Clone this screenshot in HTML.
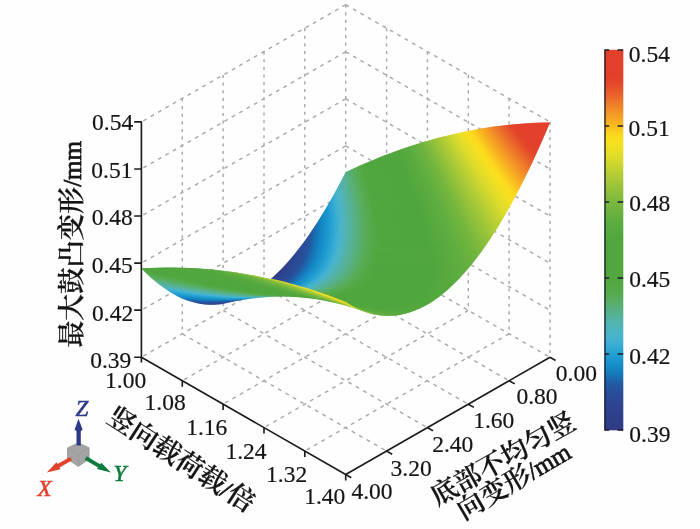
<!DOCTYPE html>
<html lang="zh">
<head>
<meta charset="utf-8">
<title>最大鼓凸变形</title>
<style>
html,body{margin:0;padding:0;background:#fefefe;}
body{width:700px;height:529px;overflow:hidden;font-family:"Liberation Serif","Noto Serif CJK SC",serif;}
svg{display:block;}
</style>
</head>
<body>
<svg width="700" height="529" viewBox="0 0 700 529">
<rect width="700" height="529" fill="#fefefe"/>
<g fill="none" stroke="#a9a9a9" stroke-width="1.45">
<path stroke-dasharray="3.1 4.5" d="M182.3 98.5L182.3 333.8M223.1 75L223.1 310.3M264 51.6L264 286.9M304.8 28.1L304.8 263.4M345.7 4.7L345.7 240M386.6 28.2L386.6 263.5M427.4 51.6L427.4 286.9M468.3 75.1L468.3 310.4M509.1 98.5L509.1 333.8M550 122L550 357.3"/>
<path stroke-dasharray="3.8 4.7" d="M345.7 192.9L141.4 310.1M345.7 192.9L550 310.2M345.7 145.9L141.4 263.1M345.7 145.9L550 263.2M345.7 98.8L141.4 216M345.7 98.8L550 216.1M345.7 51.8L141.4 169M345.7 51.8L550 169.1M345.7 4.7L141.4 121.9M345.7 4.7L550 122M182.3 333.8L386.6 451.1M223.1 310.3L427.4 427.6M264 286.9L468.3 404.2M304.8 263.4L509.1 380.7M345.7 240L550 357.3M345.7 240L141.4 357.2M386.6 263.5L182.3 380.7M427.4 286.9L223.1 404.1M468.3 310.4L264 427.6M509.1 333.8L304.8 451"/>
</g>
<defs><clipPath id="sc"><path d="M141.4 268.36L149.4 267.92L157.4 267.64L165.4 267.49L173.4 267.49L181.4 267.64L189.4 267.93L197.4 268.37L205.4 268.95L212.9 269.62L220.9 270.48L228.9 271.49L236.4 272.56L244.9 273.93L253.4 275.47L261.9 277.17L270.4 279.03L270.9 278.88L275.9 274.32L280.4 269.9L284.9 265.18L289.4 260.16L294.4 254.23L298.9 248.58L303.4 242.63L307.9 236.38L312.4 229.83L316.9 222.99L321.4 215.84L326.4 207.55L330.4 200.65L334.9 192.61L339.9 183.32L345.4 172.67L345.9 171.99L352.4 168.95L358.9 166.02L365.4 163.18L371.4 160.64L377.4 158.19L383.9 155.62L390.4 153.15L396.9 150.77L403.4 148.49L409.9 146.3L416.4 144.22L422.4 142.37L428.9 140.46L434.9 138.79L441.4 137.07L447.9 135.44L454.4 133.91L460.9 132.47L466.9 131.23L473.4 129.98L479.9 128.83L486.4 127.76L492.4 126.87L498.9 125.99L505.4 125.21L511.9 124.53L517.9 123.98L524.4 123.48L530.4 123.1L536.9 122.78L543.4 122.56L549.9 122.43L549.9 122.67L545.4 133.27L541.4 142.45L536.9 152.49L532.9 161.16L528.4 170.63L524.4 178.8L519.9 187.71L515.4 196.32L510.9 204.63L506.9 211.77L502.4 219.52L498.4 226.15L493.9 233.33L489.4 240.21L484.9 246.79L480.9 252.39L476.9 257.76L472.4 263.51L467.9 268.96L463.4 274.11L459.4 278.44L454.9 283.03L450.9 286.86L446.4 290.88L442.4 294.21L437.9 297.67L433.9 300.49L429.4 303.38L425.4 305.7L420.9 308.03L416.9 309.85L412.4 311.61L407.9 313.07L403.9 314.12L399.9 314.94L395.9 315.51L391.9 315.85L387.9 315.96L383.9 315.83L379.9 315.46L377.4 315.11L374.9 314.66L372.4 314.13L369.9 313.5L365.9 312.31L358.9 309.85L354.4 308.36L346.9 306.06L342.4 304.8L337.4 303.51L332.9 302.44L328.4 301.46L323.4 300.48L318.4 299.6L313.4 298.84L308.9 298.25L303.9 297.69L298.9 297.25L294.4 296.95L289.4 296.71L281.4 296.57L272.9 296.72L264.9 297.16L256.4 297.94L249.9 298.74L242.9 299.82L234.9 301.32L224.4 303.61L220.9 304.18L217.4 304.57L213.4 304.79L209.4 304.77L205.4 304.52L200.9 303.96L197.4 303.31L193.4 302.35L189.9 301.32L185.9 299.91L182.4 298.49L178.4 296.64L174.9 294.83L170.9 292.54L167.4 290.35L163.4 287.61L159.9 285.03L155.9 281.85L152.4 278.88L148.4 275.26L144.9 271.9L141.4 268.36Z"/></clipPath><linearGradient id="r0" gradientUnits="userSpaceOnUse" x1="515.5" x2="553.5" y1="0" y2="0"><stop offset="0" stop-color="#e2402a"/><stop offset="1" stop-color="#e2402a"/></linearGradient><linearGradient id="r1" gradientUnits="userSpaceOnUse" x1="504.5" x2="553.5" y1="0" y2="0"><stop offset="0" stop-color="#e4482a"/><stop offset="0.2449" stop-color="#e2402a"/><stop offset="1" stop-color="#e2402a"/></linearGradient><linearGradient id="r2" gradientUnits="userSpaceOnUse" x1="495.5" x2="553.5" y1="0" y2="0"><stop offset="0" stop-color="#e9662a"/><stop offset="0.069" stop-color="#e9642a"/><stop offset="0.1207" stop-color="#e85d2a"/><stop offset="0.1379" stop-color="#e75a2a"/><stop offset="0.1724" stop-color="#e4482a"/><stop offset="0.3103" stop-color="#e2412a"/><stop offset="1" stop-color="#e2402a"/></linearGradient><linearGradient id="r3" gradientUnits="userSpaceOnUse" x1="488.5" x2="553.5" y1="0" y2="0"><stop offset="0" stop-color="#ef812a"/><stop offset="0.0462" stop-color="#ef802a"/><stop offset="0.0923" stop-color="#ee7a2a"/><stop offset="0.1231" stop-color="#e9662a"/><stop offset="0.1692" stop-color="#e9642a"/><stop offset="0.2" stop-color="#e8602a"/><stop offset="0.2462" stop-color="#e6562a"/><stop offset="0.2769" stop-color="#e4482a"/><stop offset="0.3692" stop-color="#e2422a"/><stop offset="1" stop-color="#e2402a"/></linearGradient><linearGradient id="r4" gradientUnits="userSpaceOnUse" x1="481.5" x2="553.5" y1="0" y2="0"><stop offset="0" stop-color="#f49a25"/><stop offset="0.0417" stop-color="#f49925"/><stop offset="0.0833" stop-color="#f39426"/><stop offset="0.1111" stop-color="#ef812a"/><stop offset="0.1528" stop-color="#ef7f2a"/><stop offset="0.1944" stop-color="#ed772a"/><stop offset="0.2222" stop-color="#e9662a"/><stop offset="0.2778" stop-color="#e8602a"/><stop offset="0.3333" stop-color="#e6532a"/><stop offset="0.3611" stop-color="#e4482a"/><stop offset="0.4167" stop-color="#e3432a"/><stop offset="0.4861" stop-color="#e2402a"/><stop offset="1" stop-color="#e2402a"/></linearGradient><linearGradient id="r5" gradientUnits="userSpaceOnUse" x1="475.5" x2="553.5" y1="0" y2="0"><stop offset="0" stop-color="#f8b120"/><stop offset="0.0641" stop-color="#f7ad21"/><stop offset="0.0897" stop-color="#f49a25"/><stop offset="0.1282" stop-color="#f49925"/><stop offset="0.1538" stop-color="#f39426"/><stop offset="0.1667" stop-color="#f29127"/><stop offset="0.1923" stop-color="#ef812a"/><stop offset="0.2436" stop-color="#ee7b2a"/><stop offset="0.2692" stop-color="#ec742a"/><stop offset="0.2949" stop-color="#e9662a"/><stop offset="0.3205" stop-color="#e9632a"/><stop offset="0.4231" stop-color="#e4482a"/><stop offset="0.4615" stop-color="#e3432a"/><stop offset="0.5256" stop-color="#e2402a"/><stop offset="1" stop-color="#e2402a"/></linearGradient><linearGradient id="r6" gradientUnits="userSpaceOnUse" x1="470.5" x2="553.5" y1="0" y2="0"><stop offset="0" stop-color="#fbc91e"/><stop offset="0.0482" stop-color="#fac61e"/><stop offset="0.0602" stop-color="#f9be1f"/><stop offset="0.0723" stop-color="#f8b120"/><stop offset="0.1084" stop-color="#f8b021"/><stop offset="0.1325" stop-color="#f7ab22"/><stop offset="0.1566" stop-color="#f49a25"/><stop offset="0.2048" stop-color="#f39426"/><stop offset="0.2289" stop-color="#f28e28"/><stop offset="0.253" stop-color="#ef812a"/><stop offset="0.2892" stop-color="#ee7b2a"/><stop offset="0.3494" stop-color="#e9662a"/><stop offset="0.4458" stop-color="#e44d2a"/><stop offset="0.494" stop-color="#e3432a"/><stop offset="0.5542" stop-color="#e2402a"/><stop offset="1" stop-color="#e2402a"/></linearGradient><linearGradient id="r7" gradientUnits="userSpaceOnUse" x1="464.5" x2="553.5" y1="0" y2="0"><stop offset="0" stop-color="#fbdc1e"/><stop offset="0.0562" stop-color="#fbd91e"/><stop offset="0.0787" stop-color="#fbc91e"/><stop offset="0.1236" stop-color="#fac31f"/><stop offset="0.1461" stop-color="#f8b120"/><stop offset="0.1685" stop-color="#f8b021"/><stop offset="0.191" stop-color="#f7ab22"/><stop offset="0.2022" stop-color="#f6a722"/><stop offset="0.2247" stop-color="#f49a25"/><stop offset="0.2584" stop-color="#f39526"/><stop offset="0.3146" stop-color="#ef812a"/><stop offset="0.4157" stop-color="#e9622a"/><stop offset="0.5281" stop-color="#e3452a"/><stop offset="0.5955" stop-color="#e2402a"/><stop offset="1" stop-color="#e2402a"/></linearGradient><linearGradient id="r8" gradientUnits="userSpaceOnUse" x1="459.5" x2="553.5" y1="0" y2="0"><stop offset="0" stop-color="#f4e022"/><stop offset="0.0426" stop-color="#f5e021"/><stop offset="0.0638" stop-color="#fbdc1e"/><stop offset="0.117" stop-color="#fbd71e"/><stop offset="0.1383" stop-color="#fbc91e"/><stop offset="0.1596" stop-color="#fac61e"/><stop offset="0.1809" stop-color="#fac01f"/><stop offset="0.2021" stop-color="#f8b120"/><stop offset="0.2234" stop-color="#f7ae21"/><stop offset="0.2766" stop-color="#f49a25"/><stop offset="0.3511" stop-color="#f08329"/><stop offset="0.4894" stop-color="#e7582a"/><stop offset="0.5638" stop-color="#e3442a"/><stop offset="0.6277" stop-color="#e2402a"/><stop offset="1" stop-color="#e2402a"/></linearGradient><linearGradient id="r9" gradientUnits="userSpaceOnUse" x1="455.5" x2="553.5" y1="0" y2="0"><stop offset="0" stop-color="#eade26"/><stop offset="0.0306" stop-color="#ebde26"/><stop offset="0.051" stop-color="#f4e022"/><stop offset="0.0918" stop-color="#f6e021"/><stop offset="0.1122" stop-color="#fbdc1e"/><stop offset="0.1531" stop-color="#fbd71e"/><stop offset="0.1633" stop-color="#fbd51e"/><stop offset="0.1837" stop-color="#fbc91e"/><stop offset="0.2041" stop-color="#fac41e"/><stop offset="0.2449" stop-color="#f8b120"/><stop offset="0.2959" stop-color="#f5a024"/><stop offset="0.398" stop-color="#ef7f2a"/><stop offset="0.5306" stop-color="#e6542a"/><stop offset="0.5918" stop-color="#e3442a"/><stop offset="0.6531" stop-color="#e2402a"/><stop offset="1" stop-color="#e2402a"/></linearGradient><linearGradient id="r10" gradientUnits="userSpaceOnUse" x1="450.5" x2="552.5" y1="0" y2="0"><stop offset="0" stop-color="#dddb2b"/><stop offset="0.0392" stop-color="#dedb2a"/><stop offset="0.0588" stop-color="#eade26"/><stop offset="0.0882" stop-color="#ebde25"/><stop offset="0.1078" stop-color="#f4e022"/><stop offset="0.1373" stop-color="#f6e021"/><stop offset="0.1667" stop-color="#fbdc1e"/><stop offset="0.1961" stop-color="#fbd81e"/><stop offset="0.3235" stop-color="#f6a622"/><stop offset="0.4314" stop-color="#ef812a"/><stop offset="0.5686" stop-color="#e6532a"/><stop offset="0.6275" stop-color="#e3442a"/><stop offset="0.6765" stop-color="#e2402a"/><stop offset="1" stop-color="#e2402a"/></linearGradient><linearGradient id="r11" gradientUnits="userSpaceOnUse" x1="446.5" x2="552.5" y1="0" y2="0"><stop offset="0" stop-color="#cfd72e"/><stop offset="0.0283" stop-color="#d0d72e"/><stop offset="0.0472" stop-color="#dddb2b"/><stop offset="0.0849" stop-color="#e0dc2a"/><stop offset="0.1038" stop-color="#eade26"/><stop offset="0.1321" stop-color="#ecdf25"/><stop offset="0.1509" stop-color="#f4e022"/><stop offset="0.1887" stop-color="#f9df20"/><stop offset="0.217" stop-color="#fbda1e"/><stop offset="0.2547" stop-color="#fbce1e"/><stop offset="0.3302" stop-color="#f8af21"/><stop offset="0.4434" stop-color="#f08729"/><stop offset="0.5472" stop-color="#e9622a"/><stop offset="0.6132" stop-color="#e44c2a"/><stop offset="0.6509" stop-color="#e3432a"/><stop offset="0.6981" stop-color="#e2402a"/><stop offset="1" stop-color="#e2402a"/></linearGradient><linearGradient id="r12" gradientUnits="userSpaceOnUse" x1="442.5" x2="551.5" y1="0" y2="0"><stop offset="0" stop-color="#c1d232"/><stop offset="0.0275" stop-color="#c2d232"/><stop offset="0.0459" stop-color="#cfd72e"/><stop offset="0.0734" stop-color="#d1d72e"/><stop offset="0.0917" stop-color="#dddb2b"/><stop offset="0.1284" stop-color="#e2dc29"/><stop offset="0.1468" stop-color="#eade26"/><stop offset="0.1651" stop-color="#ecdf25"/><stop offset="0.1927" stop-color="#f4e022"/><stop offset="0.2202" stop-color="#f9e020"/><stop offset="0.2477" stop-color="#fbdb1e"/><stop offset="0.2844" stop-color="#fbd01e"/><stop offset="0.3394" stop-color="#f9b91f"/><stop offset="0.4954" stop-color="#ef7f2a"/><stop offset="0.6055" stop-color="#e7582a"/><stop offset="0.6697" stop-color="#e3452a"/><stop offset="0.7248" stop-color="#e2402a"/><stop offset="1" stop-color="#e2402a"/></linearGradient><linearGradient id="r13" gradientUnits="userSpaceOnUse" x1="438.5" x2="551.5" y1="0" y2="0"><stop offset="0" stop-color="#b4cd35"/><stop offset="0.0265" stop-color="#b5ce35"/><stop offset="0.0442" stop-color="#c1d232"/><stop offset="0.0708" stop-color="#c3d331"/><stop offset="0.0885" stop-color="#cfd72e"/><stop offset="0.115" stop-color="#d3d82d"/><stop offset="0.1327" stop-color="#dddb2b"/><stop offset="0.1504" stop-color="#dfdb2a"/><stop offset="0.2301" stop-color="#f5e022"/><stop offset="0.2743" stop-color="#fbdc1e"/><stop offset="0.3097" stop-color="#fbd21e"/><stop offset="0.3717" stop-color="#f9b820"/><stop offset="0.5133" stop-color="#ef8229"/><stop offset="0.6283" stop-color="#e6572a"/><stop offset="0.6903" stop-color="#e3442a"/><stop offset="0.7434" stop-color="#e2402a"/><stop offset="1" stop-color="#e2402a"/></linearGradient><linearGradient id="r14" gradientUnits="userSpaceOnUse" x1="434.5" x2="551.5" y1="0" y2="0"><stop offset="0" stop-color="#a6c937"/><stop offset="0.0256" stop-color="#a7c937"/><stop offset="0.0427" stop-color="#b4cd35"/><stop offset="0.0684" stop-color="#b6ce35"/><stop offset="0.0855" stop-color="#c1d232"/><stop offset="0.1111" stop-color="#c5d331"/><stop offset="0.1282" stop-color="#cfd72e"/><stop offset="0.1453" stop-color="#d2d72e"/><stop offset="0.1709" stop-color="#dddb2b"/><stop offset="0.2051" stop-color="#e7dd27"/><stop offset="0.2735" stop-color="#f7e020"/><stop offset="0.3077" stop-color="#fbdc1e"/><stop offset="0.3419" stop-color="#fbd11e"/><stop offset="0.4017" stop-color="#f9b720"/><stop offset="0.5385" stop-color="#ef812a"/><stop offset="0.641" stop-color="#e7592a"/><stop offset="0.7009" stop-color="#e3462a"/><stop offset="0.7521" stop-color="#e2402a"/><stop offset="1" stop-color="#e2402a"/></linearGradient><linearGradient id="r15" gradientUnits="userSpaceOnUse" x1="430.5" x2="550.5" y1="0" y2="0"><stop offset="0" stop-color="#99c439"/><stop offset="0.025" stop-color="#9ac439"/><stop offset="0.0417" stop-color="#a6c937"/><stop offset="0.0667" stop-color="#a8c937"/><stop offset="0.0833" stop-color="#b4cd35"/><stop offset="0.1083" stop-color="#b7cf34"/><stop offset="0.125" stop-color="#c1d232"/><stop offset="0.1417" stop-color="#c4d331"/><stop offset="0.225" stop-color="#e3dd29"/><stop offset="0.3" stop-color="#f6e021"/><stop offset="0.3333" stop-color="#fbdd1f"/><stop offset="0.375" stop-color="#fbd01e"/><stop offset="0.4583" stop-color="#f7ab22"/><stop offset="0.5667" stop-color="#ef802a"/><stop offset="0.6667" stop-color="#e7582a"/><stop offset="0.725" stop-color="#e3452a"/><stop offset="0.775" stop-color="#e2402a"/><stop offset="1" stop-color="#e2402a"/></linearGradient><linearGradient id="r16" gradientUnits="userSpaceOnUse" x1="427.5" x2="550.5" y1="0" y2="0"><stop offset="0" stop-color="#8ec03b"/><stop offset="0.0163" stop-color="#8fc03b"/><stop offset="0.0325" stop-color="#99c439"/><stop offset="0.0569" stop-color="#9bc439"/><stop offset="0.0732" stop-color="#a6c937"/><stop offset="0.0976" stop-color="#aaca37"/><stop offset="0.1138" stop-color="#b4cd35"/><stop offset="0.1301" stop-color="#b7ce34"/><stop offset="0.2439" stop-color="#e1dc29"/><stop offset="0.3171" stop-color="#f5e021"/><stop offset="0.3496" stop-color="#fade1f"/><stop offset="0.3902" stop-color="#fbd21e"/><stop offset="0.4553" stop-color="#f8b420"/><stop offset="0.5772" stop-color="#ef8229"/><stop offset="0.6829" stop-color="#e7582a"/><stop offset="0.7398" stop-color="#e3452a"/><stop offset="0.7886" stop-color="#e2402a"/><stop offset="1" stop-color="#e2402a"/></linearGradient><linearGradient id="r17" gradientUnits="userSpaceOnUse" x1="423.5" x2="549.5" y1="0" y2="0"><stop offset="0" stop-color="#82bb3c"/><stop offset="0.0238" stop-color="#83bb3c"/><stop offset="0.0397" stop-color="#8ec03b"/><stop offset="0.0556" stop-color="#8fc03b"/><stop offset="0.0714" stop-color="#99c439"/><stop offset="0.0952" stop-color="#9cc539"/><stop offset="0.1111" stop-color="#a6c937"/><stop offset="0.127" stop-color="#a9ca37"/><stop offset="0.2698" stop-color="#e0dc2a"/><stop offset="0.3413" stop-color="#f4e022"/><stop offset="0.381" stop-color="#fbdd1f"/><stop offset="0.4206" stop-color="#fbd11e"/><stop offset="0.5" stop-color="#f7ac21"/><stop offset="0.6032" stop-color="#ef8229"/><stop offset="0.6984" stop-color="#e75a2a"/><stop offset="0.754" stop-color="#e3462a"/><stop offset="0.8016" stop-color="#e2402a"/><stop offset="1" stop-color="#e2402a"/></linearGradient><linearGradient id="r18" gradientUnits="userSpaceOnUse" x1="420.5" x2="549.5" y1="0" y2="0"><stop offset="0" stop-color="#78b73d"/><stop offset="0.0155" stop-color="#79b73d"/><stop offset="0.031" stop-color="#82bb3c"/><stop offset="0.0543" stop-color="#84bc3c"/><stop offset="0.0698" stop-color="#8ec03b"/><stop offset="0.0853" stop-color="#90c03b"/><stop offset="0.1008" stop-color="#99c439"/><stop offset="0.1163" stop-color="#9cc539"/><stop offset="0.2868" stop-color="#dedb2a"/><stop offset="0.3643" stop-color="#f5e022"/><stop offset="0.3953" stop-color="#fade1f"/><stop offset="0.4341" stop-color="#fbd31e"/><stop offset="0.5194" stop-color="#f7ab21"/><stop offset="0.6202" stop-color="#ef812a"/><stop offset="0.7132" stop-color="#e7592a"/><stop offset="0.7674" stop-color="#e3462a"/><stop offset="0.814" stop-color="#e2402a"/><stop offset="1" stop-color="#e2402a"/></linearGradient><linearGradient id="r19" gradientUnits="userSpaceOnUse" x1="416.5" x2="548.5" y1="0" y2="0"><stop offset="0" stop-color="#6fb43e"/><stop offset="0.0227" stop-color="#6fb43e"/><stop offset="0.0379" stop-color="#78b73d"/><stop offset="0.053" stop-color="#79b73d"/><stop offset="0.0682" stop-color="#82bb3c"/><stop offset="0.0909" stop-color="#85bc3c"/><stop offset="0.1061" stop-color="#8ec03b"/><stop offset="0.1212" stop-color="#91c13b"/><stop offset="0.3106" stop-color="#dddb2b"/><stop offset="0.3864" stop-color="#f3e022"/><stop offset="0.4167" stop-color="#f9df1f"/><stop offset="0.4621" stop-color="#fbd21e"/><stop offset="0.5379" stop-color="#f7ad21"/><stop offset="0.6364" stop-color="#f08329"/><stop offset="0.7348" stop-color="#e7592a"/><stop offset="0.7879" stop-color="#e3462a"/><stop offset="0.8333" stop-color="#e2402a"/><stop offset="1" stop-color="#e2402a"/></linearGradient><linearGradient id="r20" gradientUnits="userSpaceOnUse" x1="413.5" x2="548.5" y1="0" y2="0"><stop offset="0" stop-color="#69b13e"/><stop offset="0.0148" stop-color="#69b13e"/><stop offset="0.0296" stop-color="#6fb43e"/><stop offset="0.0519" stop-color="#70b43e"/><stop offset="0.0667" stop-color="#78b73d"/><stop offset="0.0815" stop-color="#7ab83d"/><stop offset="0.0963" stop-color="#82bb3c"/><stop offset="0.1185" stop-color="#88bd3c"/><stop offset="0.2296" stop-color="#b5ce35"/><stop offset="0.3259" stop-color="#dbda2b"/><stop offset="0.4" stop-color="#f2e023"/><stop offset="0.4296" stop-color="#f9e020"/><stop offset="0.4741" stop-color="#fbd41e"/><stop offset="0.5556" stop-color="#f7ac21"/><stop offset="0.6519" stop-color="#ef8229"/><stop offset="0.7407" stop-color="#e75b2a"/><stop offset="0.7926" stop-color="#e3472a"/><stop offset="0.837" stop-color="#e2402a"/><stop offset="1" stop-color="#e2402a"/></linearGradient><linearGradient id="r21" gradientUnits="userSpaceOnUse" x1="410.5" x2="548.5" y1="0" y2="0"><stop offset="0" stop-color="#63af3f"/><stop offset="0.0145" stop-color="#63af3f"/><stop offset="0.029" stop-color="#69b13e"/><stop offset="0.0435" stop-color="#69b13e"/><stop offset="0.058" stop-color="#6fb43e"/><stop offset="0.0797" stop-color="#71b43e"/><stop offset="0.2319" stop-color="#adcb36"/><stop offset="0.3478" stop-color="#dcdb2b"/><stop offset="0.4203" stop-color="#f3e022"/><stop offset="0.4493" stop-color="#f9df1f"/><stop offset="0.4928" stop-color="#fbd31e"/><stop offset="0.5725" stop-color="#f7ab21"/><stop offset="0.6667" stop-color="#ef812a"/><stop offset="0.7536" stop-color="#e75a2a"/><stop offset="0.8043" stop-color="#e3472a"/><stop offset="0.8478" stop-color="#e2402a"/><stop offset="1" stop-color="#e2402a"/></linearGradient><linearGradient id="r22" gradientUnits="userSpaceOnUse" x1="407.5" x2="547.5" y1="0" y2="0"><stop offset="0" stop-color="#5ead3f"/><stop offset="0.0429" stop-color="#63af3f"/><stop offset="0.0571" stop-color="#69b13e"/><stop offset="0.0714" stop-color="#69b23e"/><stop offset="0.1071" stop-color="#73b53e"/><stop offset="0.2571" stop-color="#afcc36"/><stop offset="0.3714" stop-color="#dddb2a"/><stop offset="0.4643" stop-color="#f8e020"/><stop offset="0.4857" stop-color="#fbdc1e"/><stop offset="0.5143" stop-color="#fbd21e"/><stop offset="0.5857" stop-color="#f7ad21"/><stop offset="0.6786" stop-color="#f08429"/><stop offset="0.7714" stop-color="#e75a2a"/><stop offset="0.8214" stop-color="#e3462a"/><stop offset="0.8643" stop-color="#e2402a"/><stop offset="1" stop-color="#e2402a"/></linearGradient><linearGradient id="r23" gradientUnits="userSpaceOnUse" x1="404.5" x2="547.5" y1="0" y2="0"><stop offset="0" stop-color="#5aac3f"/><stop offset="0.042" stop-color="#5ead3f"/><stop offset="0.1259" stop-color="#73b53e"/><stop offset="0.2727" stop-color="#adcb36"/><stop offset="0.3846" stop-color="#dcdb2b"/><stop offset="0.4545" stop-color="#f2e023"/><stop offset="0.4825" stop-color="#f9df20"/><stop offset="0.5245" stop-color="#fbd41e"/><stop offset="0.6014" stop-color="#f7ac21"/><stop offset="0.6923" stop-color="#ef8329"/><stop offset="0.7832" stop-color="#e7592a"/><stop offset="0.8322" stop-color="#e3462a"/><stop offset="0.8741" stop-color="#e2402a"/><stop offset="1" stop-color="#e2402a"/></linearGradient><linearGradient id="r24" gradientUnits="userSpaceOnUse" x1="401.5" x2="546.5" y1="0" y2="0"><stop offset="0" stop-color="#57aa3f"/><stop offset="0.069" stop-color="#5fae3f"/><stop offset="0.1448" stop-color="#71b53e"/><stop offset="0.2966" stop-color="#aecc36"/><stop offset="0.4069" stop-color="#dddb2b"/><stop offset="0.4759" stop-color="#f3e022"/><stop offset="0.5034" stop-color="#f9df1f"/><stop offset="0.5448" stop-color="#fbd31e"/><stop offset="0.6207" stop-color="#f7ab21"/><stop offset="0.7103" stop-color="#ef8229"/><stop offset="0.8414" stop-color="#e3482a"/><stop offset="0.8828" stop-color="#e2402a"/><stop offset="1" stop-color="#e2402a"/></linearGradient><linearGradient id="r25" gradientUnits="userSpaceOnUse" x1="398.5" x2="546.5" y1="0" y2="0"><stop offset="0" stop-color="#54a83e"/><stop offset="0.0946" stop-color="#5fae3f"/><stop offset="0.1622" stop-color="#70b43e"/><stop offset="0.3108" stop-color="#adcb36"/><stop offset="0.4257" stop-color="#dedb2a"/><stop offset="0.5135" stop-color="#f9e020"/><stop offset="0.5338" stop-color="#fbdc1e"/><stop offset="0.5608" stop-color="#fbd21e"/><stop offset="0.6351" stop-color="#f7aa22"/><stop offset="0.723" stop-color="#ef812a"/><stop offset="0.8041" stop-color="#e75b2a"/><stop offset="0.8514" stop-color="#e3472a"/><stop offset="0.8919" stop-color="#e2402a"/><stop offset="1" stop-color="#e2402a"/></linearGradient><linearGradient id="r26" gradientUnits="userSpaceOnUse" x1="395.5" x2="545.5" y1="0" y2="0"><stop offset="0" stop-color="#52a73e"/><stop offset="0.0933" stop-color="#5bac3f"/><stop offset="0.1867" stop-color="#72b53e"/><stop offset="0.3333" stop-color="#aecb36"/><stop offset="0.44" stop-color="#dcdb2b"/><stop offset="0.5067" stop-color="#f3e022"/><stop offset="0.5333" stop-color="#f9df20"/><stop offset="0.5733" stop-color="#fbd41e"/><stop offset="0.6467" stop-color="#f7ad21"/><stop offset="0.7333" stop-color="#f08429"/><stop offset="0.8133" stop-color="#e85d2a"/><stop offset="0.8667" stop-color="#e3472a"/><stop offset="0.9" stop-color="#e2412a"/><stop offset="1" stop-color="#e2402a"/></linearGradient><linearGradient id="r27" gradientUnits="userSpaceOnUse" x1="392.5" x2="545.5" y1="0" y2="0"><stop offset="0" stop-color="#50a63e"/><stop offset="0.0392" stop-color="#52a73e"/><stop offset="0.0915" stop-color="#58aa3f"/><stop offset="0.1373" stop-color="#60ae3f"/><stop offset="0.2026" stop-color="#71b43e"/><stop offset="0.3464" stop-color="#accb36"/><stop offset="0.4575" stop-color="#dddb2a"/><stop offset="0.5425" stop-color="#f8e020"/><stop offset="0.5621" stop-color="#fbdc1e"/><stop offset="0.5882" stop-color="#fbd31e"/><stop offset="0.6601" stop-color="#f7ac21"/><stop offset="0.7451" stop-color="#ef8329"/><stop offset="0.8693" stop-color="#e4492a"/><stop offset="0.9085" stop-color="#e2412a"/><stop offset="1" stop-color="#e2402a"/></linearGradient><linearGradient id="r28" gradientUnits="userSpaceOnUse" x1="389.5" x2="544.5" y1="0" y2="0"><stop offset="0" stop-color="#50a63e"/><stop offset="0.0387" stop-color="#50a63e"/><stop offset="0.0903" stop-color="#55a93e"/><stop offset="0.1484" stop-color="#5ead3f"/><stop offset="0.2194" stop-color="#70b43e"/><stop offset="0.2903" stop-color="#8bbf3b"/><stop offset="0.3677" stop-color="#aecb36"/><stop offset="0.471" stop-color="#dcdb2b"/><stop offset="0.5613" stop-color="#f9e020"/><stop offset="0.5806" stop-color="#fbdc1e"/><stop offset="0.6065" stop-color="#fbd21e"/><stop offset="0.6774" stop-color="#f7ab21"/><stop offset="0.7613" stop-color="#ef8229"/><stop offset="0.8839" stop-color="#e4482a"/><stop offset="0.9226" stop-color="#e2412a"/><stop offset="1" stop-color="#e2402a"/></linearGradient><linearGradient id="r29" gradientUnits="userSpaceOnUse" x1="387.5" x2="544.5" y1="0" y2="0"><stop offset="0" stop-color="#50a63e"/><stop offset="0.0828" stop-color="#52a73e"/><stop offset="0.1592" stop-color="#5ead3f"/><stop offset="0.2293" stop-color="#6fb43e"/><stop offset="0.293" stop-color="#87bd3c"/><stop offset="0.3758" stop-color="#accb36"/><stop offset="0.4841" stop-color="#dddb2b"/><stop offset="0.5478" stop-color="#f3e022"/><stop offset="0.5732" stop-color="#f9df20"/><stop offset="0.6115" stop-color="#fbd41e"/><stop offset="0.6815" stop-color="#f7ad21"/><stop offset="0.7707" stop-color="#ef812a"/><stop offset="0.8917" stop-color="#e4482a"/><stop offset="0.9236" stop-color="#e2412a"/><stop offset="1" stop-color="#e2402a"/></linearGradient><linearGradient id="r30" gradientUnits="userSpaceOnUse" x1="384.5" x2="544.5" y1="0" y2="0"><stop offset="0" stop-color="#50a63e"/><stop offset="0.1" stop-color="#52a73e"/><stop offset="0.175" stop-color="#5dad3f"/><stop offset="0.2437" stop-color="#6eb33e"/><stop offset="0.3063" stop-color="#86bd3c"/><stop offset="0.3937" stop-color="#adcb36"/><stop offset="0.5" stop-color="#dedb2a"/><stop offset="0.5813" stop-color="#f8e020"/><stop offset="0.6" stop-color="#fbdc1e"/><stop offset="0.625" stop-color="#fbd31e"/><stop offset="0.6937" stop-color="#f7ac21"/><stop offset="0.775" stop-color="#f08429"/><stop offset="0.8938" stop-color="#e44a2a"/><stop offset="0.9313" stop-color="#e2412a"/><stop offset="1" stop-color="#e2402a"/></linearGradient><linearGradient id="r31" gradientUnits="userSpaceOnUse" x1="381.5" x2="543.5" y1="0" y2="0"><stop offset="0" stop-color="#50a63e"/><stop offset="0.1173" stop-color="#52a73e"/><stop offset="0.1975" stop-color="#5ead3f"/><stop offset="0.2593" stop-color="#6db33e"/><stop offset="0.3025" stop-color="#7db93d"/><stop offset="0.4074" stop-color="#accb36"/><stop offset="0.5123" stop-color="#dcdb2b"/><stop offset="0.5988" stop-color="#f9e020"/><stop offset="0.6173" stop-color="#fbdc1e"/><stop offset="0.642" stop-color="#fbd21e"/><stop offset="0.7099" stop-color="#f7ab21"/><stop offset="0.7901" stop-color="#ef8329"/><stop offset="0.9074" stop-color="#e4492a"/><stop offset="0.9383" stop-color="#e2412a"/><stop offset="1" stop-color="#e2402a"/></linearGradient><linearGradient id="r32" gradientUnits="userSpaceOnUse" x1="379.5" x2="543.5" y1="0" y2="0"><stop offset="0" stop-color="#50a63e"/><stop offset="0.128" stop-color="#52a73e"/><stop offset="0.2073" stop-color="#5dad3f"/><stop offset="0.2683" stop-color="#6cb33e"/><stop offset="0.3476" stop-color="#8bbf3b"/><stop offset="0.4329" stop-color="#b3cd35"/><stop offset="0.5244" stop-color="#dddb2a"/><stop offset="0.6037" stop-color="#f8e020"/><stop offset="0.622" stop-color="#fbdd1f"/><stop offset="0.6463" stop-color="#fbd41e"/><stop offset="0.7195" stop-color="#f7aa22"/><stop offset="0.7988" stop-color="#ef8229"/><stop offset="0.9146" stop-color="#e4492a"/><stop offset="0.9451" stop-color="#e2412a"/><stop offset="1" stop-color="#e2402a"/></linearGradient><linearGradient id="r33" gradientUnits="userSpaceOnUse" x1="376.5" x2="542.5" y1="0" y2="0"><stop offset="0" stop-color="#50a63e"/><stop offset="0.1446" stop-color="#51a73e"/><stop offset="0.2229" stop-color="#5dad3f"/><stop offset="0.2831" stop-color="#6bb23e"/><stop offset="0.3133" stop-color="#75b63d"/><stop offset="0.3614" stop-color="#8abe3b"/><stop offset="0.4518" stop-color="#b4ce35"/><stop offset="0.5422" stop-color="#dedb2a"/><stop offset="0.6205" stop-color="#f8e020"/><stop offset="0.6386" stop-color="#fbdc1e"/><stop offset="0.6627" stop-color="#fbd31e"/><stop offset="0.7289" stop-color="#f7ac21"/><stop offset="0.8133" stop-color="#ef812a"/><stop offset="0.9217" stop-color="#e44b2a"/><stop offset="0.9518" stop-color="#e2422a"/><stop offset="1" stop-color="#e2402a"/></linearGradient><linearGradient id="r34" gradientUnits="userSpaceOnUse" x1="374.5" x2="542.5" y1="0" y2="0"><stop offset="0" stop-color="#50a63e"/><stop offset="0.1548" stop-color="#51a73e"/><stop offset="0.2321" stop-color="#5cac3f"/><stop offset="0.2917" stop-color="#6bb23e"/><stop offset="0.3214" stop-color="#74b63e"/><stop offset="0.375" stop-color="#8bbe3b"/><stop offset="0.4643" stop-color="#b5ce35"/><stop offset="0.5476" stop-color="#dddb2b"/><stop offset="0.631" stop-color="#f9e020"/><stop offset="0.6488" stop-color="#fbdc1e"/><stop offset="0.6726" stop-color="#fbd21e"/><stop offset="0.7381" stop-color="#f7ab21"/><stop offset="0.8155" stop-color="#f08429"/><stop offset="0.9226" stop-color="#e54d2a"/><stop offset="0.9583" stop-color="#e2422a"/><stop offset="1" stop-color="#e2402a"/></linearGradient><linearGradient id="r35" gradientUnits="userSpaceOnUse" x1="371.5" x2="541.5" y1="0" y2="0"><stop offset="0" stop-color="#50a63e"/><stop offset="0.1706" stop-color="#51a63e"/><stop offset="0.2529" stop-color="#5dad3f"/><stop offset="0.3059" stop-color="#6ab23e"/><stop offset="0.3353" stop-color="#73b53e"/><stop offset="0.3882" stop-color="#8abe3b"/><stop offset="0.4765" stop-color="#b4cd35"/><stop offset="0.5647" stop-color="#dedb2a"/><stop offset="0.6412" stop-color="#f8e020"/><stop offset="0.6588" stop-color="#fbdd1f"/><stop offset="0.6824" stop-color="#fbd41e"/><stop offset="0.7529" stop-color="#f7ab22"/><stop offset="0.8294" stop-color="#ef8329"/><stop offset="0.9353" stop-color="#e44d2a"/><stop offset="0.9647" stop-color="#e3432a"/><stop offset="1" stop-color="#e2402a"/></linearGradient><linearGradient id="r36" gradientUnits="userSpaceOnUse" x1="369.5" x2="541.5" y1="0" y2="0"><stop offset="0" stop-color="#50a63e"/><stop offset="0.1802" stop-color="#51a63e"/><stop offset="0.2558" stop-color="#5bac3f"/><stop offset="0.2965" stop-color="#64b03f"/><stop offset="0.3547" stop-color="#76b63d"/><stop offset="0.4767" stop-color="#afcc36"/><stop offset="0.5756" stop-color="#dfdb2a"/><stop offset="0.6512" stop-color="#f8e020"/><stop offset="0.6686" stop-color="#fbdc1e"/><stop offset="0.6919" stop-color="#fbd31e"/><stop offset="0.7558" stop-color="#f7ad21"/><stop offset="0.8372" stop-color="#ef8229"/><stop offset="0.936" stop-color="#e54f2a"/><stop offset="0.9651" stop-color="#e3442a"/><stop offset="1" stop-color="#e2402a"/></linearGradient><linearGradient id="r37" gradientUnits="userSpaceOnUse" x1="366.5" x2="540.5" y1="0" y2="0"><stop offset="0" stop-color="#50a63e"/><stop offset="0.1954" stop-color="#51a63e"/><stop offset="0.3046" stop-color="#62af3f"/><stop offset="0.3678" stop-color="#75b63d"/><stop offset="0.4885" stop-color="#aecb36"/><stop offset="0.5862" stop-color="#dddb2b"/><stop offset="0.6667" stop-color="#f9e020"/><stop offset="0.6839" stop-color="#fbdc1e"/><stop offset="0.7069" stop-color="#fbd21e"/><stop offset="0.7701" stop-color="#f7ac21"/><stop offset="0.8448" stop-color="#f08429"/><stop offset="0.9425" stop-color="#e5512a"/><stop offset="0.9713" stop-color="#e3452a"/><stop offset="1" stop-color="#e2422a"/></linearGradient><linearGradient id="r38" gradientUnits="userSpaceOnUse" x1="364.5" x2="540.5" y1="0" y2="0"><stop offset="0" stop-color="#50a63e"/><stop offset="0.2045" stop-color="#50a63e"/><stop offset="0.3068" stop-color="#60ae3f"/><stop offset="0.3807" stop-color="#76b63d"/><stop offset="0.5" stop-color="#afcc36"/><stop offset="0.5909" stop-color="#dcda2b"/><stop offset="0.6705" stop-color="#f8e020"/><stop offset="0.6875" stop-color="#fbdd1f"/><stop offset="0.7102" stop-color="#fbd41e"/><stop offset="0.7784" stop-color="#f7ab21"/><stop offset="0.8523" stop-color="#f08429"/><stop offset="0.9489" stop-color="#e5512a"/><stop offset="0.9773" stop-color="#e3452a"/><stop offset="1" stop-color="#e2422a"/></linearGradient><linearGradient id="r39" gradientUnits="userSpaceOnUse" x1="362.5" x2="540.5" y1="0" y2="0"><stop offset="0" stop-color="#50a63e"/><stop offset="0.2191" stop-color="#51a63e"/><stop offset="0.3202" stop-color="#61ae3f"/><stop offset="0.3876" stop-color="#75b63d"/><stop offset="0.5112" stop-color="#b0cc36"/><stop offset="0.6011" stop-color="#dddb2b"/><stop offset="0.6798" stop-color="#f8e020"/><stop offset="0.6966" stop-color="#fbdc1e"/><stop offset="0.7191" stop-color="#fbd31e"/><stop offset="0.7809" stop-color="#f7ad21"/><stop offset="0.8596" stop-color="#f08329"/><stop offset="0.9494" stop-color="#e6532a"/><stop offset="0.9831" stop-color="#e3452a"/><stop offset="1" stop-color="#e2422a"/></linearGradient><linearGradient id="r40" gradientUnits="userSpaceOnUse" x1="359.5" x2="539.5" y1="0" y2="0"><stop offset="0" stop-color="#50a63f"/><stop offset="0.2333" stop-color="#50a63e"/><stop offset="0.3278" stop-color="#5fae3f"/><stop offset="0.4" stop-color="#74b63e"/><stop offset="0.5222" stop-color="#afcc36"/><stop offset="0.6167" stop-color="#dedb2a"/><stop offset="0.6944" stop-color="#f9e020"/><stop offset="0.7111" stop-color="#fbdc1e"/><stop offset="0.7333" stop-color="#fbd21e"/><stop offset="0.7944" stop-color="#f7ad21"/><stop offset="0.8667" stop-color="#f08529"/><stop offset="0.9333" stop-color="#e8612a"/><stop offset="0.9778" stop-color="#e44b2a"/><stop offset="1" stop-color="#e3452a"/></linearGradient><linearGradient id="r41" gradientUnits="userSpaceOnUse" x1="357.5" x2="539.5" y1="0" y2="0"><stop offset="0" stop-color="#51a741"/><stop offset="0.0385" stop-color="#50a63e"/><stop offset="0.2418" stop-color="#50a63e"/><stop offset="0.3407" stop-color="#60ae3f"/><stop offset="0.4121" stop-color="#75b63d"/><stop offset="0.533" stop-color="#b0cc36"/><stop offset="0.6209" stop-color="#dcdb2b"/><stop offset="0.6978" stop-color="#f8e020"/><stop offset="0.7143" stop-color="#fbdd1f"/><stop offset="0.7363" stop-color="#fbd41e"/><stop offset="0.8022" stop-color="#f7ac21"/><stop offset="0.8736" stop-color="#f08529"/><stop offset="0.9341" stop-color="#e9632a"/><stop offset="0.9615" stop-color="#e6552a"/><stop offset="1" stop-color="#e3452a"/></linearGradient><linearGradient id="r42" gradientUnits="userSpaceOnUse" x1="355.5" x2="538.5" y1="0" y2="0"><stop offset="0" stop-color="#53a846"/><stop offset="0.0328" stop-color="#50a63f"/><stop offset="0.2514" stop-color="#50a63e"/><stop offset="0.3497" stop-color="#5fae3f"/><stop offset="0.4208" stop-color="#74b63e"/><stop offset="0.541" stop-color="#aecc36"/><stop offset="0.6339" stop-color="#dddb2b"/><stop offset="0.7104" stop-color="#f8e020"/><stop offset="0.7268" stop-color="#fbdc1e"/><stop offset="0.7486" stop-color="#fbd31e"/><stop offset="0.8142" stop-color="#f7ab21"/><stop offset="0.8852" stop-color="#f08429"/><stop offset="0.9454" stop-color="#e9632a"/><stop offset="0.9781" stop-color="#e6522a"/><stop offset="0.9891" stop-color="#e5502a"/><stop offset="0.9945" stop-color="#e44b2a"/><stop offset="1" stop-color="#e44b2a"/></linearGradient><linearGradient id="r43" gradientUnits="userSpaceOnUse" x1="353.5" x2="538.5" y1="0" y2="0"><stop offset="0" stop-color="#55aa4c"/><stop offset="0.0486" stop-color="#50a63f"/><stop offset="0.2595" stop-color="#50a63e"/><stop offset="0.3568" stop-color="#5fad3f"/><stop offset="0.4324" stop-color="#75b63d"/><stop offset="0.5514" stop-color="#b0cc36"/><stop offset="0.6378" stop-color="#dbda2b"/><stop offset="0.7135" stop-color="#f8e020"/><stop offset="0.7351" stop-color="#fbdc1e"/><stop offset="0.7568" stop-color="#fbd31e"/><stop offset="0.8162" stop-color="#f7ad21"/><stop offset="0.8919" stop-color="#f08329"/><stop offset="0.9622" stop-color="#e75c2a"/><stop offset="0.9946" stop-color="#e5502a"/><stop offset="1" stop-color="#e44b2a"/></linearGradient><linearGradient id="r44" gradientUnits="userSpaceOnUse" x1="350.5" x2="537.5" y1="0" y2="0"><stop offset="0" stop-color="#57ac55"/><stop offset="0.0107" stop-color="#57ac55"/><stop offset="0.0214" stop-color="#55aa4c"/><stop offset="0.0374" stop-color="#53a846"/><stop offset="0.0749" stop-color="#50a63e"/><stop offset="0.2781" stop-color="#50a63e"/><stop offset="0.369" stop-color="#5ead3f"/><stop offset="0.4439" stop-color="#74b63e"/><stop offset="0.5615" stop-color="#aecb36"/><stop offset="0.6524" stop-color="#dcdb2b"/><stop offset="0.7273" stop-color="#f8e020"/><stop offset="0.7433" stop-color="#fbdd1f"/><stop offset="0.7647" stop-color="#fbd41e"/><stop offset="0.8342" stop-color="#f7a922"/><stop offset="0.8984" stop-color="#f08629"/><stop offset="0.9572" stop-color="#e9642a"/><stop offset="0.9893" stop-color="#e6572a"/><stop offset="0.9947" stop-color="#e6522a"/><stop offset="1" stop-color="#e6522a"/></linearGradient><linearGradient id="r45" gradientUnits="userSpaceOnUse" x1="348.5" x2="537.5" y1="0" y2="0"><stop offset="0" stop-color="#58ad60"/><stop offset="0.0053" stop-color="#58ad60"/><stop offset="0.0159" stop-color="#57ac55"/><stop offset="0.0265" stop-color="#57ac54"/><stop offset="0.037" stop-color="#55aa4c"/><stop offset="0.0847" stop-color="#50a63e"/><stop offset="0.291" stop-color="#50a63e"/><stop offset="0.3757" stop-color="#5dad3f"/><stop offset="0.455" stop-color="#75b63d"/><stop offset="0.5714" stop-color="#afcc36"/><stop offset="0.6614" stop-color="#dddb2a"/><stop offset="0.7354" stop-color="#f8e020"/><stop offset="0.7513" stop-color="#fbdc1e"/><stop offset="0.7725" stop-color="#fbd41e"/><stop offset="0.836" stop-color="#f7ab21"/><stop offset="0.9101" stop-color="#ef8229"/><stop offset="0.963" stop-color="#e9642a"/><stop offset="0.9947" stop-color="#e6572a"/><stop offset="1" stop-color="#e6522a"/></linearGradient><linearGradient id="r46" gradientUnits="userSpaceOnUse" x1="346.5" x2="536.5" y1="0" y2="0"><stop offset="0" stop-color="#58ae6c"/><stop offset="0.0053" stop-color="#58ae6c"/><stop offset="0.0105" stop-color="#58ae68"/><stop offset="0.0158" stop-color="#58ad60"/><stop offset="0.0211" stop-color="#58ad60"/><stop offset="0.0316" stop-color="#57ac55"/><stop offset="0.0421" stop-color="#57ac54"/><stop offset="0.0526" stop-color="#55aa4c"/><stop offset="0.0947" stop-color="#50a63f"/><stop offset="0.3" stop-color="#50a63e"/><stop offset="0.3842" stop-color="#5dad3f"/><stop offset="0.4632" stop-color="#74b63e"/><stop offset="0.5789" stop-color="#aecb36"/><stop offset="0.6684" stop-color="#dcdb2b"/><stop offset="0.7421" stop-color="#f8e020"/><stop offset="0.7632" stop-color="#fbdc1e"/><stop offset="0.7842" stop-color="#fbd31e"/><stop offset="0.8474" stop-color="#f7ab21"/><stop offset="0.9105" stop-color="#f08729"/><stop offset="0.9632" stop-color="#ea692a"/><stop offset="0.9895" stop-color="#e85f2a"/><stop offset="0.9947" stop-color="#e75a2a"/><stop offset="1" stop-color="#e75a2a"/></linearGradient><linearGradient id="r47" gradientUnits="userSpaceOnUse" x1="344.5" x2="536.5" y1="0" y2="0"><stop offset="0" stop-color="#58af78"/><stop offset="0.0052" stop-color="#58af78"/><stop offset="0.0104" stop-color="#58ae74"/><stop offset="0.0156" stop-color="#58ae6c"/><stop offset="0.0208" stop-color="#58ae6b"/><stop offset="0.0312" stop-color="#58ad60"/><stop offset="0.0365" stop-color="#58ad5f"/><stop offset="0.0469" stop-color="#57ac55"/><stop offset="0.0885" stop-color="#52a743"/><stop offset="0.1042" stop-color="#50a63f"/><stop offset="0.3073" stop-color="#50a63e"/><stop offset="0.3958" stop-color="#5ead3f"/><stop offset="0.474" stop-color="#75b63d"/><stop offset="0.5885" stop-color="#afcc36"/><stop offset="0.6771" stop-color="#dddb2b"/><stop offset="0.75" stop-color="#f8e020"/><stop offset="0.7708" stop-color="#fbdb1e"/><stop offset="0.7917" stop-color="#fbd21e"/><stop offset="0.8594" stop-color="#f6a722"/><stop offset="0.9219" stop-color="#f08429"/><stop offset="0.9635" stop-color="#eb6c2a"/><stop offset="0.9948" stop-color="#e85f2a"/><stop offset="1" stop-color="#e75a2a"/></linearGradient><linearGradient id="r48" gradientUnits="userSpaceOnUse" x1="342.5" x2="535.5" y1="0" y2="0"><stop offset="0" stop-color="#58b084"/><stop offset="0.0052" stop-color="#58b084"/><stop offset="0.0104" stop-color="#58af80"/><stop offset="0.0155" stop-color="#58af78"/><stop offset="0.0207" stop-color="#58af77"/><stop offset="0.0311" stop-color="#58ae6c"/><stop offset="0.0363" stop-color="#58ae6b"/><stop offset="0.0466" stop-color="#58ad60"/><stop offset="0.0622" stop-color="#57ac55"/><stop offset="0.0933" stop-color="#53a845"/><stop offset="0.114" stop-color="#50a63f"/><stop offset="0.3212" stop-color="#50a63e"/><stop offset="0.4041" stop-color="#5dad3f"/><stop offset="0.4819" stop-color="#74b63e"/><stop offset="0.5959" stop-color="#adcb36"/><stop offset="0.6839" stop-color="#dbda2b"/><stop offset="0.7565" stop-color="#f7e020"/><stop offset="0.7772" stop-color="#fbdd1e"/><stop offset="0.7979" stop-color="#fbd41e"/><stop offset="0.8756" stop-color="#f6a323"/><stop offset="0.9275" stop-color="#f08629"/><stop offset="0.9689" stop-color="#eb6e2a"/><stop offset="0.9896" stop-color="#ea662a"/><stop offset="0.9948" stop-color="#e9622a"/><stop offset="1" stop-color="#e9612a"/></linearGradient><linearGradient id="r49" gradientUnits="userSpaceOnUse" x1="341.5" x2="535.5" y1="0" y2="0"><stop offset="0" stop-color="#57b08a"/><stop offset="0.0155" stop-color="#58b083"/><stop offset="0.0258" stop-color="#58af78"/><stop offset="0.0309" stop-color="#58af77"/><stop offset="0.0412" stop-color="#58ae6c"/><stop offset="0.0773" stop-color="#57ab50"/><stop offset="0.1186" stop-color="#51a63f"/><stop offset="0.3247" stop-color="#50a63e"/><stop offset="0.4072" stop-color="#5dad3f"/><stop offset="0.4639" stop-color="#6cb23e"/><stop offset="0.4897" stop-color="#75b63d"/><stop offset="0.6031" stop-color="#afcc36"/><stop offset="0.6907" stop-color="#dcdb2b"/><stop offset="0.7629" stop-color="#f8e020"/><stop offset="0.7835" stop-color="#fbdc1e"/><stop offset="0.8041" stop-color="#fbd31e"/><stop offset="0.8711" stop-color="#f6a822"/><stop offset="0.933" stop-color="#f08629"/><stop offset="0.9639" stop-color="#ec742a"/><stop offset="0.9948" stop-color="#ea672a"/><stop offset="1" stop-color="#e9622a"/></linearGradient><linearGradient id="r50" gradientUnits="userSpaceOnUse" x1="340.5" x2="534.5" y1="0" y2="0"><stop offset="0" stop-color="#57b190"/><stop offset="0.0258" stop-color="#58b083"/><stop offset="0.0825" stop-color="#57ab51"/><stop offset="0.1237" stop-color="#51a640"/><stop offset="0.3299" stop-color="#50a63e"/><stop offset="0.4175" stop-color="#5dad3f"/><stop offset="0.4948" stop-color="#74b63e"/><stop offset="0.6134" stop-color="#b0cc36"/><stop offset="0.701" stop-color="#dddb2b"/><stop offset="0.7732" stop-color="#f8e020"/><stop offset="0.7887" stop-color="#fbdd1f"/><stop offset="0.8093" stop-color="#fbd51e"/><stop offset="0.8918" stop-color="#f5a223"/><stop offset="0.9742" stop-color="#ec732a"/><stop offset="0.9845" stop-color="#ec722a"/><stop offset="0.9948" stop-color="#ea692a"/><stop offset="1" stop-color="#ea692a"/></linearGradient><linearGradient id="r51" gradientUnits="userSpaceOnUse" x1="340.5" x2="534.5" y1="0" y2="0"><stop offset="0" stop-color="#57b190"/><stop offset="0.0052" stop-color="#57b190"/><stop offset="0.0309" stop-color="#58b082"/><stop offset="0.0825" stop-color="#57ab52"/><stop offset="0.1237" stop-color="#51a740"/><stop offset="0.3351" stop-color="#50a63e"/><stop offset="0.4175" stop-color="#5dad3f"/><stop offset="0.5" stop-color="#75b63d"/><stop offset="0.6134" stop-color="#aecb36"/><stop offset="0.701" stop-color="#dcda2b"/><stop offset="0.7732" stop-color="#f7e020"/><stop offset="0.7938" stop-color="#fbdd1e"/><stop offset="0.8144" stop-color="#fbd41e"/><stop offset="0.8866" stop-color="#f6a722"/><stop offset="0.9433" stop-color="#f08729"/><stop offset="0.9794" stop-color="#ec732a"/><stop offset="0.9897" stop-color="#ec732a"/><stop offset="1" stop-color="#ea692a"/></linearGradient><linearGradient id="r52" gradientUnits="userSpaceOnUse" x1="339.5" x2="533.5" y1="0" y2="0"><stop offset="0" stop-color="#56b198"/><stop offset="0.0052" stop-color="#56b193"/><stop offset="0.0155" stop-color="#57b190"/><stop offset="0.0361" stop-color="#58b084"/><stop offset="0.0876" stop-color="#57ac53"/><stop offset="0.1134" stop-color="#53a846"/><stop offset="0.134" stop-color="#50a63f"/><stop offset="0.3402" stop-color="#50a63e"/><stop offset="0.4278" stop-color="#5dad3f"/><stop offset="0.5052" stop-color="#74b63e"/><stop offset="0.6237" stop-color="#afcc36"/><stop offset="0.7113" stop-color="#dcdb2b"/><stop offset="0.7835" stop-color="#f8e020"/><stop offset="0.799" stop-color="#fade1f"/><stop offset="0.8196" stop-color="#fbd61e"/><stop offset="0.8866" stop-color="#f7ac21"/><stop offset="0.9691" stop-color="#ee7e2a"/><stop offset="0.9845" stop-color="#ed782a"/><stop offset="0.9897" stop-color="#ec732a"/><stop offset="1" stop-color="#ec732a"/></linearGradient><linearGradient id="r53" gradientUnits="userSpaceOnUse" x1="339.5" x2="533.5" y1="0" y2="0"><stop offset="0" stop-color="#56b198"/><stop offset="0.0052" stop-color="#56b198"/><stop offset="0.0103" stop-color="#56b193"/><stop offset="0.0309" stop-color="#57b08a"/><stop offset="0.0876" stop-color="#57ac54"/><stop offset="0.1082" stop-color="#54a949"/><stop offset="0.134" stop-color="#51a63f"/><stop offset="0.3454" stop-color="#50a63e"/><stop offset="0.4278" stop-color="#5dad3f"/><stop offset="0.5103" stop-color="#76b63d"/><stop offset="0.6237" stop-color="#aecb36"/><stop offset="0.7113" stop-color="#dbda2b"/><stop offset="0.7887" stop-color="#f8e020"/><stop offset="0.8041" stop-color="#fbdd1f"/><stop offset="0.8247" stop-color="#fbd51e"/><stop offset="0.9072" stop-color="#f5a323"/><stop offset="0.9794" stop-color="#ee7b2a"/><stop offset="0.9897" stop-color="#ed782a"/><stop offset="0.9948" stop-color="#ec732a"/><stop offset="1" stop-color="#ec732a"/></linearGradient><linearGradient id="r54" gradientUnits="userSpaceOnUse" x1="338.5" x2="533.5" y1="0" y2="0"><stop offset="0" stop-color="#55b29f"/><stop offset="0.0051" stop-color="#55b29a"/><stop offset="0.0154" stop-color="#56b198"/><stop offset="0.0359" stop-color="#57b08c"/><stop offset="0.0821" stop-color="#58ad5e"/><stop offset="0.0974" stop-color="#57ab51"/><stop offset="0.1385" stop-color="#51a740"/><stop offset="0.3487" stop-color="#50a63e"/><stop offset="0.4308" stop-color="#5cad3f"/><stop offset="0.5128" stop-color="#74b63e"/><stop offset="0.6308" stop-color="#afcc36"/><stop offset="0.7179" stop-color="#dcdb2b"/><stop offset="0.7897" stop-color="#f7e020"/><stop offset="0.8103" stop-color="#fbdd1e"/><stop offset="0.8308" stop-color="#fbd41e"/><stop offset="0.9026" stop-color="#f6a822"/><stop offset="0.9692" stop-color="#ef8329"/><stop offset="0.9949" stop-color="#ed782a"/><stop offset="1" stop-color="#ec732a"/></linearGradient><linearGradient id="r55" gradientUnits="userSpaceOnUse" x1="338.5" x2="532.5" y1="0" y2="0"><stop offset="0" stop-color="#55b29f"/><stop offset="0.0052" stop-color="#55b29f"/><stop offset="0.0103" stop-color="#55b29a"/><stop offset="0.0309" stop-color="#56b192"/><stop offset="0.0825" stop-color="#58ad5f"/><stop offset="0.0979" stop-color="#57ab52"/><stop offset="0.1392" stop-color="#51a740"/><stop offset="0.1598" stop-color="#50a63e"/><stop offset="0.3505" stop-color="#50a63e"/><stop offset="0.4381" stop-color="#5dad3f"/><stop offset="0.5206" stop-color="#76b63d"/><stop offset="0.6392" stop-color="#b0cc36"/><stop offset="0.7268" stop-color="#dddb2b"/><stop offset="0.799" stop-color="#f7e020"/><stop offset="0.8196" stop-color="#fbdc1e"/><stop offset="0.8402" stop-color="#fbd41e"/><stop offset="0.9175" stop-color="#f6a423"/><stop offset="0.9794" stop-color="#ef8329"/><stop offset="0.9897" stop-color="#ef802a"/><stop offset="0.9948" stop-color="#ee7b2a"/><stop offset="1" stop-color="#ee7b2a"/></linearGradient><linearGradient id="r56" gradientUnits="userSpaceOnUse" x1="337.5" x2="532.5" y1="0" y2="0"><stop offset="0" stop-color="#53b3a6"/><stop offset="0.0051" stop-color="#54b2a1"/><stop offset="0.0154" stop-color="#55b29f"/><stop offset="0.0359" stop-color="#56b194"/><stop offset="0.0872" stop-color="#58ad60"/><stop offset="0.1026" stop-color="#57ac53"/><stop offset="0.1436" stop-color="#51a741"/><stop offset="0.1692" stop-color="#50a63e"/><stop offset="0.359" stop-color="#50a63e"/><stop offset="0.441" stop-color="#5dad3f"/><stop offset="0.5231" stop-color="#74b63e"/><stop offset="0.641" stop-color="#afcc36"/><stop offset="0.7282" stop-color="#dbda2b"/><stop offset="0.8051" stop-color="#f8e020"/><stop offset="0.8256" stop-color="#fbdc1e"/><stop offset="0.8462" stop-color="#fbd31e"/><stop offset="0.9128" stop-color="#f7a922"/><stop offset="0.9692" stop-color="#f18a28"/><stop offset="0.9949" stop-color="#ef802a"/><stop offset="1" stop-color="#ee7b2a"/></linearGradient><linearGradient id="r57" gradientUnits="userSpaceOnUse" x1="337.5" x2="531.5" y1="0" y2="0"><stop offset="0" stop-color="#53b3a6"/><stop offset="0.0052" stop-color="#53b3a6"/><stop offset="0.0103" stop-color="#54b2a2"/><stop offset="0.0206" stop-color="#55b29f"/><stop offset="0.0361" stop-color="#56b195"/><stop offset="0.1031" stop-color="#57ac54"/><stop offset="0.1237" stop-color="#54a949"/><stop offset="0.1495" stop-color="#51a640"/><stop offset="0.3608" stop-color="#50a63e"/><stop offset="0.4485" stop-color="#5dad3f"/><stop offset="0.5309" stop-color="#76b63d"/><stop offset="0.6495" stop-color="#b0cc36"/><stop offset="0.7371" stop-color="#dcdb2b"/><stop offset="0.8093" stop-color="#f7e021"/><stop offset="0.8299" stop-color="#fbdd1f"/><stop offset="0.8505" stop-color="#fbd51e"/><stop offset="0.933" stop-color="#f6a323"/><stop offset="0.9794" stop-color="#f18a28"/><stop offset="0.9897" stop-color="#f08829"/><stop offset="0.9948" stop-color="#ef8329"/><stop offset="1" stop-color="#ef8329"/></linearGradient><linearGradient id="r58" gradientUnits="userSpaceOnUse" x1="336.5" x2="531.5" y1="0" y2="0"><stop offset="0" stop-color="#52b4ae"/><stop offset="0.0051" stop-color="#53b3a9"/><stop offset="0.0154" stop-color="#53b3a6"/><stop offset="0.0359" stop-color="#55b29b"/><stop offset="0.0615" stop-color="#58b082"/><stop offset="0.1077" stop-color="#57ac55"/><stop offset="0.1333" stop-color="#54a947"/><stop offset="0.159" stop-color="#50a63f"/><stop offset="0.3692" stop-color="#50a63e"/><stop offset="0.4667" stop-color="#60ae3f"/><stop offset="0.5333" stop-color="#75b63e"/><stop offset="0.6513" stop-color="#aecb36"/><stop offset="0.7436" stop-color="#dddb2b"/><stop offset="0.8154" stop-color="#f7e020"/><stop offset="0.8359" stop-color="#fbdc1e"/><stop offset="0.8564" stop-color="#fbd41e"/><stop offset="0.9282" stop-color="#f6a822"/><stop offset="0.9692" stop-color="#f29227"/><stop offset="0.9949" stop-color="#f08829"/><stop offset="1" stop-color="#ef8329"/></linearGradient><linearGradient id="r59" gradientUnits="userSpaceOnUse" x1="336.5" x2="530.5" y1="0" y2="0"><stop offset="0" stop-color="#52b4ae"/><stop offset="0.0052" stop-color="#52b4ae"/><stop offset="0.0103" stop-color="#53b3a9"/><stop offset="0.0309" stop-color="#54b2a1"/><stop offset="0.067" stop-color="#58af7e"/><stop offset="0.0979" stop-color="#58ad5f"/><stop offset="0.1134" stop-color="#57ab52"/><stop offset="0.1392" stop-color="#53a846"/><stop offset="0.1598" stop-color="#50a63f"/><stop offset="0.3711" stop-color="#50a63e"/><stop offset="0.4691" stop-color="#60ae3f"/><stop offset="0.5412" stop-color="#76b63d"/><stop offset="0.6598" stop-color="#afcc36"/><stop offset="0.7474" stop-color="#dcda2b"/><stop offset="0.8196" stop-color="#f6e021"/><stop offset="0.8402" stop-color="#fadd1f"/><stop offset="0.8608" stop-color="#fbd61e"/><stop offset="0.9485" stop-color="#f5a223"/><stop offset="0.9794" stop-color="#f29227"/><stop offset="0.9897" stop-color="#f28f28"/><stop offset="0.9948" stop-color="#f18a28"/><stop offset="1" stop-color="#f18a28"/></linearGradient><linearGradient id="r60" gradientUnits="userSpaceOnUse" x1="335.5" x2="530.5" y1="0" y2="0"><stop offset="0" stop-color="#51b4b5"/><stop offset="0.0051" stop-color="#52b4b0"/><stop offset="0.0154" stop-color="#52b4ae"/><stop offset="0.0359" stop-color="#54b3a3"/><stop offset="0.0718" stop-color="#58af7f"/><stop offset="0.1179" stop-color="#57ac53"/><stop offset="0.1487" stop-color="#52a844"/><stop offset="0.1692" stop-color="#50a63f"/><stop offset="0.3795" stop-color="#50a63e"/><stop offset="0.4769" stop-color="#60ae3f"/><stop offset="0.5436" stop-color="#75b63e"/><stop offset="0.6615" stop-color="#aecb36"/><stop offset="0.7538" stop-color="#dcdb2b"/><stop offset="0.8256" stop-color="#f7e021"/><stop offset="0.8462" stop-color="#fbdd1f"/><stop offset="0.8667" stop-color="#fbd51e"/><stop offset="0.9436" stop-color="#f6a722"/><stop offset="0.9846" stop-color="#f29227"/><stop offset="0.9949" stop-color="#f28f27"/><stop offset="1" stop-color="#f18a28"/></linearGradient><linearGradient id="r61" gradientUnits="userSpaceOnUse" x1="335.5" x2="529.5" y1="0" y2="0"><stop offset="0" stop-color="#51b4b5"/><stop offset="0.0052" stop-color="#51b4b5"/><stop offset="0.0103" stop-color="#52b4b0"/><stop offset="0.0309" stop-color="#53b3a8"/><stop offset="0.067" stop-color="#58b086"/><stop offset="0.1186" stop-color="#57ac54"/><stop offset="0.1443" stop-color="#54a947"/><stop offset="0.1701" stop-color="#50a63f"/><stop offset="0.3814" stop-color="#50a63e"/><stop offset="0.4794" stop-color="#60ae3f"/><stop offset="0.5515" stop-color="#76b63d"/><stop offset="0.6701" stop-color="#afcc36"/><stop offset="0.7577" stop-color="#dbda2b"/><stop offset="0.8299" stop-color="#f6e021"/><stop offset="0.8505" stop-color="#fade1f"/><stop offset="0.8711" stop-color="#fbd71e"/><stop offset="0.9639" stop-color="#f5a024"/><stop offset="0.9897" stop-color="#f39626"/><stop offset="0.9948" stop-color="#f29227"/><stop offset="1" stop-color="#f29227"/></linearGradient><linearGradient id="r62" gradientUnits="userSpaceOnUse" x1="334.5" x2="529.5" y1="0" y2="0"><stop offset="0" stop-color="#4fb4bc"/><stop offset="0.0051" stop-color="#50b4b8"/><stop offset="0.0154" stop-color="#51b4b5"/><stop offset="0.0205" stop-color="#52b4b0"/><stop offset="0.0359" stop-color="#53b3aa"/><stop offset="0.0769" stop-color="#58b082"/><stop offset="0.1231" stop-color="#57ac55"/><stop offset="0.1487" stop-color="#54a947"/><stop offset="0.1744" stop-color="#50a63f"/><stop offset="0.3897" stop-color="#51a63e"/><stop offset="0.4872" stop-color="#60ae3f"/><stop offset="0.5538" stop-color="#75b63e"/><stop offset="0.6718" stop-color="#aecb36"/><stop offset="0.7641" stop-color="#dcdb2b"/><stop offset="0.8359" stop-color="#f6e021"/><stop offset="0.8564" stop-color="#fade1f"/><stop offset="0.8769" stop-color="#fbd61e"/><stop offset="0.9538" stop-color="#f6a822"/><stop offset="0.9846" stop-color="#f49925"/><stop offset="0.9949" stop-color="#f39626"/><stop offset="1" stop-color="#f29227"/></linearGradient><linearGradient id="r63" gradientUnits="userSpaceOnUse" x1="334.5" x2="528.5" y1="0" y2="0"><stop offset="0" stop-color="#4fb4bc"/><stop offset="0.0206" stop-color="#51b4b5"/><stop offset="0.0361" stop-color="#53b3ab"/><stop offset="0.0773" stop-color="#58b083"/><stop offset="0.1237" stop-color="#57ac56"/><stop offset="0.1443" stop-color="#55aa4a"/><stop offset="0.1753" stop-color="#51a63f"/><stop offset="0.3918" stop-color="#50a63e"/><stop offset="0.4897" stop-color="#60ae3f"/><stop offset="0.5619" stop-color="#76b63d"/><stop offset="0.6804" stop-color="#afcc36"/><stop offset="0.7732" stop-color="#dddb2b"/><stop offset="0.8454" stop-color="#f7e021"/><stop offset="0.866" stop-color="#fbdd1f"/><stop offset="0.8866" stop-color="#fbd61e"/><stop offset="0.9639" stop-color="#f6a822"/><stop offset="0.9897" stop-color="#f59d24"/><stop offset="0.9948" stop-color="#f49925"/><stop offset="1" stop-color="#f49925"/></linearGradient><linearGradient id="r64" gradientUnits="userSpaceOnUse" x1="333.5" x2="528.5" y1="0" y2="0"><stop offset="0" stop-color="#4cb4c3"/><stop offset="0.0051" stop-color="#4eb4bf"/><stop offset="0.0154" stop-color="#4fb4bc"/><stop offset="0.0359" stop-color="#52b4b1"/><stop offset="0.0821" stop-color="#58b084"/><stop offset="0.1333" stop-color="#57ac53"/><stop offset="0.1538" stop-color="#54a949"/><stop offset="0.1795" stop-color="#51a640"/><stop offset="0.3949" stop-color="#50a63e"/><stop offset="0.4923" stop-color="#5fae3f"/><stop offset="0.5641" stop-color="#75b63e"/><stop offset="0.6872" stop-color="#b0cc36"/><stop offset="0.7744" stop-color="#dbda2b"/><stop offset="0.8462" stop-color="#f6e021"/><stop offset="0.8667" stop-color="#fade1f"/><stop offset="0.8923" stop-color="#fbd51e"/><stop offset="0.9641" stop-color="#f7aa22"/><stop offset="0.9949" stop-color="#f59d24"/><stop offset="1" stop-color="#f49925"/></linearGradient><linearGradient id="r65" gradientUnits="userSpaceOnUse" x1="333.5" x2="527.5" y1="0" y2="0"><stop offset="0" stop-color="#4cb4c4"/><stop offset="0.0052" stop-color="#4cb4c3"/><stop offset="0.0103" stop-color="#4eb4bf"/><stop offset="0.0309" stop-color="#50b4b7"/><stop offset="0.0825" stop-color="#58b085"/><stop offset="0.134" stop-color="#57ac54"/><stop offset="0.1598" stop-color="#54a947"/><stop offset="0.1856" stop-color="#50a63f"/><stop offset="0.4021" stop-color="#50a63e"/><stop offset="0.5" stop-color="#60ae3f"/><stop offset="0.5722" stop-color="#76b63d"/><stop offset="0.6907" stop-color="#aecb36"/><stop offset="0.7835" stop-color="#dcdb2b"/><stop offset="0.8557" stop-color="#f6e021"/><stop offset="0.8763" stop-color="#fade1f"/><stop offset="0.8969" stop-color="#fbd71e"/><stop offset="0.9639" stop-color="#f8af21"/><stop offset="0.9897" stop-color="#f6a523"/><stop offset="0.9948" stop-color="#f5a024"/><stop offset="1" stop-color="#f5a024"/></linearGradient><linearGradient id="r66" gradientUnits="userSpaceOnUse" x1="332.5" x2="527.5" y1="0" y2="0"><stop offset="0" stop-color="#49b4ca"/><stop offset="0.0359" stop-color="#50b4b9"/><stop offset="0.0872" stop-color="#58b086"/><stop offset="0.1385" stop-color="#57ac55"/><stop offset="0.1641" stop-color="#54a947"/><stop offset="0.1897" stop-color="#50a63f"/><stop offset="0.4051" stop-color="#50a63e"/><stop offset="0.5026" stop-color="#5fae3f"/><stop offset="0.5744" stop-color="#75b63e"/><stop offset="0.6974" stop-color="#afcc36"/><stop offset="0.7846" stop-color="#dada2b"/><stop offset="0.8564" stop-color="#f5e021"/><stop offset="0.8769" stop-color="#fadf1f"/><stop offset="0.9026" stop-color="#fbd61e"/><stop offset="0.9641" stop-color="#f8b120"/><stop offset="0.9949" stop-color="#f6a523"/><stop offset="1" stop-color="#f5a024"/></linearGradient><linearGradient id="r67" gradientUnits="userSpaceOnUse" x1="331.5" x2="526.5" y1="0" y2="0"><stop offset="0" stop-color="#45b3ce"/><stop offset="0.0154" stop-color="#4bb4c6"/><stop offset="0.0359" stop-color="#4eb4be"/><stop offset="0.0923" stop-color="#57b087"/><stop offset="0.1436" stop-color="#57ac56"/><stop offset="0.1641" stop-color="#55aa4a"/><stop offset="0.1949" stop-color="#51a63f"/><stop offset="0.4103" stop-color="#50a63e"/><stop offset="0.5128" stop-color="#60ae3f"/><stop offset="0.5846" stop-color="#76b63d"/><stop offset="0.7026" stop-color="#aecb36"/><stop offset="0.7949" stop-color="#dbda2b"/><stop offset="0.8667" stop-color="#f6e021"/><stop offset="0.8872" stop-color="#fade1f"/><stop offset="0.9077" stop-color="#fbd81e"/><stop offset="0.9795" stop-color="#f7af21"/><stop offset="1" stop-color="#f6a722"/></linearGradient><linearGradient id="r68" gradientUnits="userSpaceOnUse" x1="331.5" x2="526.5" y1="0" y2="0"><stop offset="0" stop-color="#45b3ce"/><stop offset="0.0051" stop-color="#45b3ce"/><stop offset="0.0359" stop-color="#4eb4c0"/><stop offset="0.0923" stop-color="#57b089"/><stop offset="0.1436" stop-color="#58ac57"/><stop offset="0.1641" stop-color="#55aa4b"/><stop offset="0.1949" stop-color="#51a640"/><stop offset="0.4154" stop-color="#50a63e"/><stop offset="0.5128" stop-color="#60ae3f"/><stop offset="0.5846" stop-color="#75b63e"/><stop offset="0.7077" stop-color="#afcc36"/><stop offset="0.8" stop-color="#dcdb2b"/><stop offset="0.8718" stop-color="#f6e021"/><stop offset="0.8923" stop-color="#fade1f"/><stop offset="0.9128" stop-color="#fbd71e"/><stop offset="0.9692" stop-color="#f9b620"/><stop offset="0.9949" stop-color="#f7ac21"/><stop offset="1" stop-color="#f6a722"/></linearGradient><linearGradient id="r69" gradientUnits="userSpaceOnUse" x1="330.5" x2="525.5" y1="0" y2="0"><stop offset="0" stop-color="#40b1d2"/><stop offset="0.0154" stop-color="#45b3ce"/><stop offset="0.0359" stop-color="#4bb4c5"/><stop offset="0.0564" stop-color="#52b4b1"/><stop offset="0.0974" stop-color="#57b08a"/><stop offset="0.1538" stop-color="#57ac54"/><stop offset="0.1744" stop-color="#54a949"/><stop offset="0.2" stop-color="#51a740"/><stop offset="0.4205" stop-color="#50a63e"/><stop offset="0.5128" stop-color="#5ead3f"/><stop offset="0.5949" stop-color="#76b63d"/><stop offset="0.7128" stop-color="#aecb36"/><stop offset="0.8051" stop-color="#dbda2b"/><stop offset="0.8769" stop-color="#f5e021"/><stop offset="0.8974" stop-color="#fadf1f"/><stop offset="0.9179" stop-color="#fbd91e"/><stop offset="0.9795" stop-color="#f9b620"/><stop offset="0.9897" stop-color="#f8b420"/><stop offset="0.9949" stop-color="#f7af21"/><stop offset="1" stop-color="#f7ae21"/></linearGradient><linearGradient id="r70" gradientUnits="userSpaceOnUse" x1="330.5" x2="525.5" y1="0" y2="0"><stop offset="0" stop-color="#40b1d2"/><stop offset="0.0205" stop-color="#45b3ce"/><stop offset="0.0359" stop-color="#4bb4c7"/><stop offset="0.0564" stop-color="#51b4b2"/><stop offset="0.0974" stop-color="#57b08b"/><stop offset="0.1538" stop-color="#57ac55"/><stop offset="0.1795" stop-color="#54a947"/><stop offset="0.2051" stop-color="#50a63f"/><stop offset="0.4205" stop-color="#50a63e"/><stop offset="0.5128" stop-color="#5dad3f"/><stop offset="0.5949" stop-color="#75b63e"/><stop offset="0.7179" stop-color="#afcc36"/><stop offset="0.8103" stop-color="#dbda2b"/><stop offset="0.8821" stop-color="#f6e021"/><stop offset="0.9026" stop-color="#fade1f"/><stop offset="0.9231" stop-color="#fbd81e"/><stop offset="0.9692" stop-color="#fabf1f"/><stop offset="0.9795" stop-color="#f9bb1f"/><stop offset="0.9846" stop-color="#f9b620"/><stop offset="0.9949" stop-color="#f8b420"/><stop offset="1" stop-color="#f7af21"/></linearGradient><linearGradient id="r71" gradientUnits="userSpaceOnUse" x1="329.5" x2="524.5" y1="0" y2="0"><stop offset="0" stop-color="#3aaed3"/><stop offset="0.0051" stop-color="#3eb0d2"/><stop offset="0.0359" stop-color="#48b4cc"/><stop offset="0.0564" stop-color="#50b4b8"/><stop offset="0.0923" stop-color="#56b196"/><stop offset="0.1538" stop-color="#58ac5a"/><stop offset="0.1744" stop-color="#56aa4d"/><stop offset="0.2103" stop-color="#51a63f"/><stop offset="0.4308" stop-color="#50a63e"/><stop offset="0.5231" stop-color="#5ead3f"/><stop offset="0.6051" stop-color="#76b63d"/><stop offset="0.7282" stop-color="#b0cc36"/><stop offset="0.8154" stop-color="#dada2b"/><stop offset="0.8872" stop-color="#f4e022"/><stop offset="0.9077" stop-color="#f9df1f"/><stop offset="0.9282" stop-color="#fbda1e"/><stop offset="0.9795" stop-color="#fabf1f"/><stop offset="0.9897" stop-color="#f9bc1f"/><stop offset="0.9949" stop-color="#f9b620"/><stop offset="1" stop-color="#f9b620"/></linearGradient><linearGradient id="r72" gradientUnits="userSpaceOnUse" x1="329.5" x2="524.5" y1="0" y2="0"><stop offset="0" stop-color="#3aaed3"/><stop offset="0.0205" stop-color="#40b1d2"/><stop offset="0.0359" stop-color="#47b3cd"/><stop offset="0.0564" stop-color="#50b4b9"/><stop offset="0.0923" stop-color="#56b197"/><stop offset="0.159" stop-color="#58ac57"/><stop offset="0.1795" stop-color="#55aa4b"/><stop offset="0.2103" stop-color="#51a640"/><stop offset="0.4308" stop-color="#50a63e"/><stop offset="0.5231" stop-color="#5ead3f"/><stop offset="0.6051" stop-color="#75b63e"/><stop offset="0.7282" stop-color="#aecb36"/><stop offset="0.8205" stop-color="#dbda2b"/><stop offset="0.8923" stop-color="#f5e021"/><stop offset="0.9128" stop-color="#fadf1f"/><stop offset="0.9333" stop-color="#fbd91e"/><stop offset="0.9795" stop-color="#fac31f"/><stop offset="0.9846" stop-color="#fabf1f"/><stop offset="0.9949" stop-color="#f9bc1f"/><stop offset="1" stop-color="#f9b620"/></linearGradient><linearGradient id="r73" gradientUnits="userSpaceOnUse" x1="328.5" x2="523.5" y1="0" y2="0"><stop offset="0" stop-color="#34abd3"/><stop offset="0.0051" stop-color="#38add3"/><stop offset="0.0308" stop-color="#40b1d2"/><stop offset="0.041" stop-color="#46b3cd"/><stop offset="0.0615" stop-color="#50b4ba"/><stop offset="0.0974" stop-color="#56b197"/><stop offset="0.1641" stop-color="#58ac57"/><stop offset="0.1846" stop-color="#55aa4b"/><stop offset="0.2154" stop-color="#51a740"/><stop offset="0.4359" stop-color="#50a63e"/><stop offset="0.5333" stop-color="#5ead3f"/><stop offset="0.6154" stop-color="#76b63d"/><stop offset="0.7385" stop-color="#afcc36"/><stop offset="0.8308" stop-color="#dbda2b"/><stop offset="0.8974" stop-color="#f4e022"/><stop offset="0.9179" stop-color="#f9df20"/><stop offset="0.9385" stop-color="#fbda1e"/><stop offset="0.9897" stop-color="#fac41e"/><stop offset="0.9949" stop-color="#fabf1f"/><stop offset="1" stop-color="#f9be1f"/></linearGradient><linearGradient id="r74" gradientUnits="userSpaceOnUse" x1="328.5" x2="523.5" y1="0" y2="0"><stop offset="0" stop-color="#34abd3"/><stop offset="0.0308" stop-color="#3fb0d2"/><stop offset="0.041" stop-color="#46b3ce"/><stop offset="0.0615" stop-color="#4fb4bb"/><stop offset="0.0872" stop-color="#54b2a2"/><stop offset="0.1179" stop-color="#58b085"/><stop offset="0.1641" stop-color="#58ac58"/><stop offset="0.1897" stop-color="#55a949"/><stop offset="0.2205" stop-color="#50a63f"/><stop offset="0.441" stop-color="#50a63e"/><stop offset="0.5333" stop-color="#5ead3f"/><stop offset="0.6154" stop-color="#75b63e"/><stop offset="0.7385" stop-color="#aecb36"/><stop offset="0.8308" stop-color="#dada2b"/><stop offset="0.9026" stop-color="#f4e022"/><stop offset="0.9231" stop-color="#f9df1f"/><stop offset="0.9436" stop-color="#fbda1e"/><stop offset="0.9692" stop-color="#fbd01e"/><stop offset="0.9846" stop-color="#fac71e"/><stop offset="0.9897" stop-color="#fac71e"/><stop offset="1" stop-color="#fabf1f"/></linearGradient><linearGradient id="r75" gradientUnits="userSpaceOnUse" x1="327.5" x2="522.5" y1="0" y2="0"><stop offset="0" stop-color="#2ea7d3"/><stop offset="0.0308" stop-color="#3aaed3"/><stop offset="0.0462" stop-color="#45b3ce"/><stop offset="0.0667" stop-color="#4fb4bc"/><stop offset="0.0872" stop-color="#53b3a8"/><stop offset="0.1231" stop-color="#58b086"/><stop offset="0.1692" stop-color="#58ac59"/><stop offset="0.1897" stop-color="#56aa4c"/><stop offset="0.2256" stop-color="#51a63f"/><stop offset="0.4462" stop-color="#50a63e"/><stop offset="0.5436" stop-color="#5ead3f"/><stop offset="0.6256" stop-color="#76b63d"/><stop offset="0.7487" stop-color="#afcc36"/><stop offset="0.841" stop-color="#dbda2b"/><stop offset="0.9026" stop-color="#f1e023"/><stop offset="0.9436" stop-color="#fbdd1e"/><stop offset="0.9795" stop-color="#fbd11e"/><stop offset="0.9949" stop-color="#fac71e"/><stop offset="1" stop-color="#fac71e"/></linearGradient><linearGradient id="r76" gradientUnits="userSpaceOnUse" x1="326.5" x2="522.5" y1="0" y2="0"><stop offset="0" stop-color="#2aa4d2"/><stop offset="0.0153" stop-color="#32a9d3"/><stop offset="0.0357" stop-color="#39add3"/><stop offset="0.051" stop-color="#45b3cf"/><stop offset="0.0714" stop-color="#4fb4bd"/><stop offset="0.0918" stop-color="#53b3a9"/><stop offset="0.1276" stop-color="#58b087"/><stop offset="0.1735" stop-color="#58ac5a"/><stop offset="0.1939" stop-color="#56aa4d"/><stop offset="0.2296" stop-color="#51a640"/><stop offset="0.449" stop-color="#50a63e"/><stop offset="0.5459" stop-color="#5ead3f"/><stop offset="0.6276" stop-color="#75b63d"/><stop offset="0.75" stop-color="#adcb36"/><stop offset="0.8418" stop-color="#d9da2c"/><stop offset="0.9082" stop-color="#f2e023"/><stop offset="0.9286" stop-color="#f8e020"/><stop offset="0.949" stop-color="#fbdc1e"/><stop offset="0.9847" stop-color="#fbd11e"/><stop offset="1" stop-color="#fac71e"/></linearGradient><linearGradient id="r77" gradientUnits="userSpaceOnUse" x1="326.5" x2="521.5" y1="0" y2="0"><stop offset="0" stop-color="#2aa4d2"/><stop offset="0.0308" stop-color="#34abd3"/><stop offset="0.0513" stop-color="#44b3cf"/><stop offset="0.0718" stop-color="#4eb4be"/><stop offset="0.0923" stop-color="#53b3aa"/><stop offset="0.1333" stop-color="#58b083"/><stop offset="0.1795" stop-color="#58ac57"/><stop offset="0.2" stop-color="#55aa4b"/><stop offset="0.2308" stop-color="#51a740"/><stop offset="0.4564" stop-color="#50a63e"/><stop offset="0.5538" stop-color="#5fae3f"/><stop offset="0.6359" stop-color="#76b63d"/><stop offset="0.7692" stop-color="#b3cd35"/><stop offset="0.8564" stop-color="#dcdb2b"/><stop offset="0.9077" stop-color="#efdf24"/><stop offset="0.9487" stop-color="#fade1f"/><stop offset="0.9897" stop-color="#fbd31e"/><stop offset="1" stop-color="#fbcd1e"/></linearGradient><linearGradient id="r78" gradientUnits="userSpaceOnUse" x1="325.5" x2="520.5" y1="0" y2="0"><stop offset="0" stop-color="#26a1d1"/><stop offset="0.0359" stop-color="#32aad3"/><stop offset="0.0564" stop-color="#44b2d0"/><stop offset="0.0769" stop-color="#4eb4bf"/><stop offset="0.0974" stop-color="#53b3ab"/><stop offset="0.1385" stop-color="#58b083"/><stop offset="0.1846" stop-color="#58ac58"/><stop offset="0.2103" stop-color="#54a949"/><stop offset="0.241" stop-color="#50a63f"/><stop offset="0.4615" stop-color="#50a63e"/><stop offset="0.5641" stop-color="#5fae3f"/><stop offset="0.6205" stop-color="#6eb33e"/><stop offset="0.6462" stop-color="#77b73d"/><stop offset="0.7744" stop-color="#b2cd35"/><stop offset="0.8872" stop-color="#e5dd28"/><stop offset="0.9487" stop-color="#f8e020"/><stop offset="1" stop-color="#fbd31e"/></linearGradient><linearGradient id="r79" gradientUnits="userSpaceOnUse" x1="325.5" x2="520.5" y1="0" y2="0"><stop offset="0" stop-color="#25a1d1"/><stop offset="0.0308" stop-color="#2ea7d3"/><stop offset="0.0513" stop-color="#3fb0d2"/><stop offset="0.0615" stop-color="#47b3cd"/><stop offset="0.0821" stop-color="#50b4ba"/><stop offset="0.1128" stop-color="#55b29d"/><stop offset="0.1846" stop-color="#58ac58"/><stop offset="0.2051" stop-color="#55aa4c"/><stop offset="0.241" stop-color="#51a63f"/><stop offset="0.4667" stop-color="#50a63e"/><stop offset="0.5641" stop-color="#5fae3f"/><stop offset="0.6462" stop-color="#76b63d"/><stop offset="0.7744" stop-color="#b0cc36"/><stop offset="0.8923" stop-color="#e6dd28"/><stop offset="0.9538" stop-color="#f9e020"/><stop offset="0.9897" stop-color="#fbd91e"/><stop offset="1" stop-color="#fbd41e"/></linearGradient><linearGradient id="r80" gradientUnits="userSpaceOnUse" x1="324.5" x2="519.5" y1="0" y2="0"><stop offset="0" stop-color="#229ed0"/><stop offset="0.0359" stop-color="#2da6d3"/><stop offset="0.0564" stop-color="#3fb0d2"/><stop offset="0.0667" stop-color="#46b3ce"/><stop offset="0.0872" stop-color="#4fb4bb"/><stop offset="0.1128" stop-color="#54b2a2"/><stop offset="0.1436" stop-color="#58b085"/><stop offset="0.1897" stop-color="#58ac59"/><stop offset="0.2103" stop-color="#56aa4c"/><stop offset="0.2462" stop-color="#51a63f"/><stop offset="0.4718" stop-color="#50a63e"/><stop offset="0.5744" stop-color="#5fae3f"/><stop offset="0.6308" stop-color="#6eb33e"/><stop offset="0.6564" stop-color="#77b73d"/><stop offset="0.7846" stop-color="#b1cd35"/><stop offset="0.8974" stop-color="#e4dd28"/><stop offset="0.959" stop-color="#f8e020"/><stop offset="1" stop-color="#fbd91e"/></linearGradient><linearGradient id="r81" gradientUnits="userSpaceOnUse" x1="324.5" x2="519.5" y1="0" y2="0"><stop offset="0" stop-color="#229dd0"/><stop offset="0.0308" stop-color="#29a4d2"/><stop offset="0.0513" stop-color="#39aed3"/><stop offset="0.0667" stop-color="#46b3ce"/><stop offset="0.0872" stop-color="#4fb4bc"/><stop offset="0.1077" stop-color="#53b3a8"/><stop offset="0.1436" stop-color="#58b086"/><stop offset="0.1897" stop-color="#58ac5a"/><stop offset="0.2103" stop-color="#56aa4d"/><stop offset="0.2462" stop-color="#51a640"/><stop offset="0.4718" stop-color="#50a63e"/><stop offset="0.5744" stop-color="#5fae3f"/><stop offset="0.6564" stop-color="#76b63d"/><stop offset="0.7846" stop-color="#b0cc36"/><stop offset="0.8923" stop-color="#e1dc29"/><stop offset="0.959" stop-color="#f7e021"/><stop offset="0.9897" stop-color="#fbdd1f"/><stop offset="1" stop-color="#fbd91e"/></linearGradient><linearGradient id="r82" gradientUnits="userSpaceOnUse" x1="323.5" x2="518.5" y1="0" y2="0"><stop offset="0" stop-color="#1e9acf"/><stop offset="0.0359" stop-color="#28a3d2"/><stop offset="0.0564" stop-color="#39add3"/><stop offset="0.0718" stop-color="#45b3ce"/><stop offset="0.0923" stop-color="#4fb4bd"/><stop offset="0.1179" stop-color="#54b3a4"/><stop offset="0.1538" stop-color="#58b082"/><stop offset="0.2" stop-color="#58ac57"/><stop offset="0.2205" stop-color="#55aa4b"/><stop offset="0.2513" stop-color="#51a740"/><stop offset="0.4821" stop-color="#50a63e"/><stop offset="0.5846" stop-color="#60ae3f"/><stop offset="0.641" stop-color="#6eb33e"/><stop offset="0.6667" stop-color="#77b73d"/><stop offset="0.7949" stop-color="#b1cc36"/><stop offset="0.9026" stop-color="#e2dc29"/><stop offset="0.9641" stop-color="#f6e021"/><stop offset="1" stop-color="#fbdd1f"/></linearGradient><linearGradient id="r83" gradientUnits="userSpaceOnUse" x1="322.5" x2="518.5" y1="0" y2="0"><stop offset="0" stop-color="#1c98ce"/><stop offset="0.0357" stop-color="#24a0d1"/><stop offset="0.0612" stop-color="#38add3"/><stop offset="0.0765" stop-color="#45b3cf"/><stop offset="0.0969" stop-color="#4fb4bd"/><stop offset="0.1173" stop-color="#53b3a9"/><stop offset="0.1582" stop-color="#58b083"/><stop offset="0.2041" stop-color="#58ac57"/><stop offset="0.2296" stop-color="#54a949"/><stop offset="0.2602" stop-color="#50a63f"/><stop offset="0.4847" stop-color="#50a63e"/><stop offset="0.5918" stop-color="#60ae3f"/><stop offset="0.6684" stop-color="#76b63d"/><stop offset="0.7959" stop-color="#b0cc36"/><stop offset="0.9082" stop-color="#e2dc29"/><stop offset="0.9643" stop-color="#f5e021"/><stop offset="1" stop-color="#fbdd1f"/></linearGradient><linearGradient id="r84" gradientUnits="userSpaceOnUse" x1="322.5" x2="517.5" y1="0" y2="0"><stop offset="0" stop-color="#1c98ce"/><stop offset="0.0359" stop-color="#249fd1"/><stop offset="0.0615" stop-color="#38add3"/><stop offset="0.0769" stop-color="#44b3cf"/><stop offset="0.0974" stop-color="#4eb4be"/><stop offset="0.1179" stop-color="#53b3aa"/><stop offset="0.159" stop-color="#58b084"/><stop offset="0.2051" stop-color="#58ac58"/><stop offset="0.2256" stop-color="#55aa4c"/><stop offset="0.2615" stop-color="#51a63f"/><stop offset="0.4872" stop-color="#50a63e"/><stop offset="0.5949" stop-color="#60ae3f"/><stop offset="0.6513" stop-color="#6eb33e"/><stop offset="0.6769" stop-color="#77b73d"/><stop offset="0.8051" stop-color="#b1cc36"/><stop offset="0.9128" stop-color="#e1dc29"/><stop offset="0.9641" stop-color="#f2e022"/><stop offset="1" stop-color="#f9df20"/></linearGradient><linearGradient id="r85" gradientUnits="userSpaceOnUse" x1="321.5" x2="517.5" y1="0" y2="0"><stop offset="0" stop-color="#1994cc"/><stop offset="0.0408" stop-color="#239fd1"/><stop offset="0.0663" stop-color="#37acd3"/><stop offset="0.0816" stop-color="#44b2d0"/><stop offset="0.102" stop-color="#4eb4bf"/><stop offset="0.1224" stop-color="#53b3ab"/><stop offset="0.1633" stop-color="#58b084"/><stop offset="0.2092" stop-color="#58ac59"/><stop offset="0.2296" stop-color="#56aa4c"/><stop offset="0.2653" stop-color="#51a63f"/><stop offset="0.4949" stop-color="#50a63e"/><stop offset="0.5969" stop-color="#5fae3f"/><stop offset="0.6735" stop-color="#74b63e"/><stop offset="0.8061" stop-color="#afcc36"/><stop offset="0.9082" stop-color="#dedb2a"/><stop offset="0.9643" stop-color="#f1e023"/><stop offset="1" stop-color="#f9df20"/></linearGradient><linearGradient id="r86" gradientUnits="userSpaceOnUse" x1="321.5" x2="516.5" y1="0" y2="0"><stop offset="0" stop-color="#1994cc"/><stop offset="0.0359" stop-color="#209cd0"/><stop offset="0.0667" stop-color="#37acd3"/><stop offset="0.0821" stop-color="#43b2d0"/><stop offset="0.1026" stop-color="#4eb4bf"/><stop offset="0.1231" stop-color="#53b3ac"/><stop offset="0.1641" stop-color="#58b085"/><stop offset="0.2103" stop-color="#58ac5a"/><stop offset="0.2308" stop-color="#56aa4d"/><stop offset="0.2667" stop-color="#51a740"/><stop offset="0.4974" stop-color="#50a63e"/><stop offset="0.6051" stop-color="#60ae3f"/><stop offset="0.6769" stop-color="#73b53e"/><stop offset="0.8103" stop-color="#aecb36"/><stop offset="0.9128" stop-color="#dcdb2b"/><stop offset="0.9641" stop-color="#eedf24"/><stop offset="1" stop-color="#f6e021"/></linearGradient><linearGradient id="r87" gradientUnits="userSpaceOnUse" x1="320.5" x2="516.5" y1="0" y2="0"><stop offset="0" stop-color="#1791cb"/><stop offset="0.0306" stop-color="#1c98ce"/><stop offset="0.0408" stop-color="#209cd0"/><stop offset="0.0714" stop-color="#36acd3"/><stop offset="0.0867" stop-color="#43b2d0"/><stop offset="0.1071" stop-color="#4eb4c0"/><stop offset="0.1276" stop-color="#52b3ac"/><stop offset="0.1684" stop-color="#58b086"/><stop offset="0.2194" stop-color="#58ac56"/><stop offset="0.2449" stop-color="#54a949"/><stop offset="0.2755" stop-color="#50a63f"/><stop offset="0.5" stop-color="#50a63e"/><stop offset="0.6071" stop-color="#5fae3f"/><stop offset="0.6837" stop-color="#74b63e"/><stop offset="0.8163" stop-color="#afcc36"/><stop offset="0.9184" stop-color="#dddb2b"/><stop offset="0.9643" stop-color="#eddf25"/><stop offset="1" stop-color="#f6e021"/></linearGradient><linearGradient id="r88" gradientUnits="userSpaceOnUse" x1="319.5" x2="515.5" y1="0" y2="0"><stop offset="0" stop-color="#168fc9"/><stop offset="0.0408" stop-color="#1d99ce"/><stop offset="0.0714" stop-color="#31a9d3"/><stop offset="0.0918" stop-color="#42b2d0"/><stop offset="0.1122" stop-color="#4eb4c0"/><stop offset="0.1327" stop-color="#52b3ad"/><stop offset="0.1735" stop-color="#58b086"/><stop offset="0.2245" stop-color="#58ac57"/><stop offset="0.25" stop-color="#54a949"/><stop offset="0.2806" stop-color="#50a63f"/><stop offset="0.5102" stop-color="#50a63e"/><stop offset="0.6173" stop-color="#60ae3f"/><stop offset="0.6939" stop-color="#75b63d"/><stop offset="0.8265" stop-color="#b0cc36"/><stop offset="0.9235" stop-color="#dbda2b"/><stop offset="0.9643" stop-color="#eade26"/><stop offset="1" stop-color="#f3e022"/></linearGradient><linearGradient id="r89" gradientUnits="userSpaceOnUse" x1="319.5" x2="515.5" y1="0" y2="0"><stop offset="0" stop-color="#168fc9"/><stop offset="0.0306" stop-color="#1994cc"/><stop offset="0.0408" stop-color="#1d99ce"/><stop offset="0.0714" stop-color="#31a9d3"/><stop offset="0.0918" stop-color="#42b2d1"/><stop offset="0.1122" stop-color="#4db4c1"/><stop offset="0.1327" stop-color="#52b3ad"/><stop offset="0.1735" stop-color="#57b087"/><stop offset="0.2245" stop-color="#58ac58"/><stop offset="0.25" stop-color="#55a949"/><stop offset="0.2806" stop-color="#51a63f"/><stop offset="0.5102" stop-color="#50a63e"/><stop offset="0.6173" stop-color="#60ae3f"/><stop offset="0.6939" stop-color="#74b63e"/><stop offset="0.8265" stop-color="#aecb36"/><stop offset="0.9286" stop-color="#dcdb2b"/><stop offset="1" stop-color="#f3e022"/></linearGradient><linearGradient id="r90" gradientUnits="userSpaceOnUse" x1="318.5" x2="514.5" y1="0" y2="0"><stop offset="0" stop-color="#158bc7"/><stop offset="0.0357" stop-color="#1994cc"/><stop offset="0.0459" stop-color="#1d99ce"/><stop offset="0.0663" stop-color="#28a3d2"/><stop offset="0.0969" stop-color="#42b2d1"/><stop offset="0.1173" stop-color="#4db4c1"/><stop offset="0.1378" stop-color="#52b4ae"/><stop offset="0.1786" stop-color="#57b088"/><stop offset="0.2296" stop-color="#58ac58"/><stop offset="0.25" stop-color="#55aa4c"/><stop offset="0.2857" stop-color="#51a63f"/><stop offset="0.5153" stop-color="#50a63e"/><stop offset="0.6224" stop-color="#5fae3f"/><stop offset="0.7041" stop-color="#75b63d"/><stop offset="0.8367" stop-color="#afcc36"/><stop offset="0.9337" stop-color="#dbda2b"/><stop offset="1" stop-color="#f0df24"/></linearGradient><linearGradient id="r91" gradientUnits="userSpaceOnUse" x1="318.5" x2="513.5" y1="0" y2="0"><stop offset="0" stop-color="#158bc7"/><stop offset="0.0308" stop-color="#1791cb"/><stop offset="0.0462" stop-color="#1d98ce"/><stop offset="0.0667" stop-color="#28a3d2"/><stop offset="0.0974" stop-color="#41b1d1"/><stop offset="0.1179" stop-color="#4db4c2"/><stop offset="0.1385" stop-color="#52b4ae"/><stop offset="0.1795" stop-color="#57b088"/><stop offset="0.2308" stop-color="#58ac59"/><stop offset="0.2513" stop-color="#56aa4c"/><stop offset="0.2872" stop-color="#51a640"/><stop offset="0.5231" stop-color="#50a63e"/><stop offset="0.6308" stop-color="#60ae3f"/><stop offset="0.7077" stop-color="#75b63e"/><stop offset="0.841" stop-color="#aecb36"/><stop offset="0.9436" stop-color="#dbda2b"/><stop offset="0.9795" stop-color="#e8de27"/><stop offset="1" stop-color="#ecdf25"/></linearGradient><linearGradient id="r92" gradientUnits="userSpaceOnUse" x1="317.5" x2="513.5" y1="0" y2="0"><stop offset="0" stop-color="#1488c5"/><stop offset="0.0306" stop-color="#168fc9"/><stop offset="0.051" stop-color="#1c98ce"/><stop offset="0.0714" stop-color="#28a3d2"/><stop offset="0.102" stop-color="#41b1d1"/><stop offset="0.1224" stop-color="#4db4c2"/><stop offset="0.1429" stop-color="#52b4af"/><stop offset="0.1888" stop-color="#58b084"/><stop offset="0.2398" stop-color="#57ac56"/><stop offset="0.2704" stop-color="#53a846"/><stop offset="0.2959" stop-color="#50a63f"/><stop offset="0.5255" stop-color="#50a63e"/><stop offset="0.6327" stop-color="#5fae3f"/><stop offset="0.7143" stop-color="#76b63d"/><stop offset="0.8469" stop-color="#afcc36"/><stop offset="0.9439" stop-color="#dada2b"/><stop offset="1" stop-color="#ecdf25"/></linearGradient><linearGradient id="r93" gradientUnits="userSpaceOnUse" x1="316.5" x2="512.5" y1="0" y2="0"><stop offset="0" stop-color="#1485c2"/><stop offset="0.0357" stop-color="#168ec9"/><stop offset="0.051" stop-color="#1a95cd"/><stop offset="0.0765" stop-color="#27a2d2"/><stop offset="0.1071" stop-color="#41b1d1"/><stop offset="0.1276" stop-color="#4db4c3"/><stop offset="0.148" stop-color="#52b4af"/><stop offset="0.1939" stop-color="#58b085"/><stop offset="0.2449" stop-color="#57ac56"/><stop offset="0.2704" stop-color="#54a949"/><stop offset="0.301" stop-color="#50a63f"/><stop offset="0.5306" stop-color="#50a63e"/><stop offset="0.6378" stop-color="#5fae3f"/><stop offset="0.7194" stop-color="#75b63e"/><stop offset="0.852" stop-color="#adcb36"/><stop offset="0.9541" stop-color="#dbda2b"/><stop offset="1" stop-color="#e8de27"/></linearGradient><linearGradient id="r94" gradientUnits="userSpaceOnUse" x1="316.5" x2="512.5" y1="0" y2="0"><stop offset="0" stop-color="#1485c2"/><stop offset="0.0306" stop-color="#158bc7"/><stop offset="0.0561" stop-color="#1c98ce"/><stop offset="0.0765" stop-color="#27a2d2"/><stop offset="0.0918" stop-color="#33aad3"/><stop offset="0.1122" stop-color="#44b2cf"/><stop offset="0.1327" stop-color="#4eb4be"/><stop offset="0.1531" stop-color="#53b3ab"/><stop offset="0.1939" stop-color="#58b085"/><stop offset="0.2449" stop-color="#58ac57"/><stop offset="0.2704" stop-color="#54a949"/><stop offset="0.301" stop-color="#50a63f"/><stop offset="0.5357" stop-color="#50a63e"/><stop offset="0.6429" stop-color="#60ae3f"/><stop offset="0.7245" stop-color="#76b63d"/><stop offset="0.8571" stop-color="#aecb36"/><stop offset="0.9541" stop-color="#d9da2c"/><stop offset="1" stop-color="#e8de27"/></linearGradient><linearGradient id="r95" gradientUnits="userSpaceOnUse" x1="315.5" x2="511.5" y1="0" y2="0"><stop offset="0" stop-color="#1481bf"/><stop offset="0.0357" stop-color="#158bc6"/><stop offset="0.0561" stop-color="#1a95cd"/><stop offset="0.0816" stop-color="#27a2d2"/><stop offset="0.0969" stop-color="#33aad3"/><stop offset="0.1173" stop-color="#44b2d0"/><stop offset="0.1378" stop-color="#4eb4bf"/><stop offset="0.1582" stop-color="#53b3ac"/><stop offset="0.199" stop-color="#58b086"/><stop offset="0.25" stop-color="#58ac57"/><stop offset="0.2755" stop-color="#54a949"/><stop offset="0.3061" stop-color="#51a63f"/><stop offset="0.5408" stop-color="#50a63e"/><stop offset="0.648" stop-color="#5fae3f"/><stop offset="0.7296" stop-color="#75b63e"/><stop offset="0.8673" stop-color="#afcc36"/><stop offset="0.9643" stop-color="#dada2c"/><stop offset="1" stop-color="#e4dd28"/></linearGradient><linearGradient id="r96" gradientUnits="userSpaceOnUse" x1="315.5" x2="511.5" y1="0" y2="0"><stop offset="0" stop-color="#1481bf"/><stop offset="0.0306" stop-color="#1488c5"/><stop offset="0.0561" stop-color="#1a95cd"/><stop offset="0.0816" stop-color="#27a2d2"/><stop offset="0.0969" stop-color="#33aad3"/><stop offset="0.1173" stop-color="#44b2d0"/><stop offset="0.1378" stop-color="#4eb4bf"/><stop offset="0.1582" stop-color="#53b3ac"/><stop offset="0.199" stop-color="#58b086"/><stop offset="0.25" stop-color="#58ac58"/><stop offset="0.2704" stop-color="#55aa4c"/><stop offset="0.3061" stop-color="#51a63f"/><stop offset="0.5408" stop-color="#50a63e"/><stop offset="0.648" stop-color="#5fae3f"/><stop offset="0.7347" stop-color="#76b63d"/><stop offset="0.8673" stop-color="#aecb36"/><stop offset="0.9592" stop-color="#d6d92c"/><stop offset="1" stop-color="#e3dd28"/></linearGradient><linearGradient id="r97" gradientUnits="userSpaceOnUse" x1="314.5" x2="510.5" y1="0" y2="0"><stop offset="0" stop-color="#157cbb"/><stop offset="0.0306" stop-color="#1485c2"/><stop offset="0.0612" stop-color="#1a95cc"/><stop offset="0.0867" stop-color="#27a2d2"/><stop offset="0.1071" stop-color="#37acd3"/><stop offset="0.1224" stop-color="#43b2d0"/><stop offset="0.1429" stop-color="#4eb4c0"/><stop offset="0.1633" stop-color="#52b3ac"/><stop offset="0.2041" stop-color="#58b087"/><stop offset="0.2551" stop-color="#58ac58"/><stop offset="0.2806" stop-color="#55aa4a"/><stop offset="0.3163" stop-color="#50a63f"/><stop offset="0.551" stop-color="#50a63e"/><stop offset="0.6582" stop-color="#5fae3f"/><stop offset="0.7398" stop-color="#75b63e"/><stop offset="0.8724" stop-color="#accb36"/><stop offset="0.9643" stop-color="#d5d82d"/><stop offset="1" stop-color="#dfdb2a"/></linearGradient><linearGradient id="r98" gradientUnits="userSpaceOnUse" x1="313.5" x2="510.5" y1="0" y2="0"><stop offset="0" stop-color="#1577b8"/><stop offset="0.0406" stop-color="#1487c4"/><stop offset="0.066" stop-color="#1a95cc"/><stop offset="0.0914" stop-color="#26a2d2"/><stop offset="0.1117" stop-color="#37acd3"/><stop offset="0.1269" stop-color="#43b2d0"/><stop offset="0.1472" stop-color="#4eb4c0"/><stop offset="0.1675" stop-color="#52b3ad"/><stop offset="0.2081" stop-color="#57b087"/><stop offset="0.2589" stop-color="#58ac58"/><stop offset="0.2843" stop-color="#55aa4a"/><stop offset="0.3198" stop-color="#50a63f"/><stop offset="0.5533" stop-color="#50a63e"/><stop offset="0.6599" stop-color="#5fae3f"/><stop offset="0.7462" stop-color="#76b63d"/><stop offset="0.8832" stop-color="#b0cc36"/><stop offset="0.9594" stop-color="#d1d72e"/><stop offset="1" stop-color="#dfdb2a"/></linearGradient><linearGradient id="r99" gradientUnits="userSpaceOnUse" x1="313.5" x2="509.5" y1="0" y2="0"><stop offset="0" stop-color="#1577b8"/><stop offset="0.0306" stop-color="#1481bf"/><stop offset="0.0663" stop-color="#1995cc"/><stop offset="0.0969" stop-color="#2aa4d2"/><stop offset="0.1173" stop-color="#3baed3"/><stop offset="0.1276" stop-color="#43b2d0"/><stop offset="0.148" stop-color="#4eb4c0"/><stop offset="0.1684" stop-color="#52b3ad"/><stop offset="0.2092" stop-color="#57b088"/><stop offset="0.2602" stop-color="#58ac59"/><stop offset="0.2857" stop-color="#55aa4a"/><stop offset="0.3214" stop-color="#50a63f"/><stop offset="0.5561" stop-color="#50a63e"/><stop offset="0.6633" stop-color="#5ead3f"/><stop offset="0.75" stop-color="#75b63e"/><stop offset="0.8878" stop-color="#aecb36"/><stop offset="0.9643" stop-color="#cfd72e"/><stop offset="1" stop-color="#dcda2b"/></linearGradient><linearGradient id="r100" gradientUnits="userSpaceOnUse" x1="312.5" x2="508.5" y1="0" y2="0"><stop offset="0" stop-color="#1772b4"/><stop offset="0.0357" stop-color="#1480be"/><stop offset="0.0663" stop-color="#1892cb"/><stop offset="0.0969" stop-color="#26a1d2"/><stop offset="0.1173" stop-color="#36acd3"/><stop offset="0.1327" stop-color="#43b2d0"/><stop offset="0.1531" stop-color="#4db4c1"/><stop offset="0.1735" stop-color="#52b3ad"/><stop offset="0.2143" stop-color="#57b088"/><stop offset="0.2653" stop-color="#58ac59"/><stop offset="0.2908" stop-color="#55aa4b"/><stop offset="0.3265" stop-color="#50a63f"/><stop offset="0.5663" stop-color="#50a63e"/><stop offset="0.6684" stop-color="#5ead3f"/><stop offset="0.7551" stop-color="#74b63e"/><stop offset="0.8776" stop-color="#a6c937"/><stop offset="0.9643" stop-color="#ccd52f"/><stop offset="1" stop-color="#d7d92c"/></linearGradient><linearGradient id="r101" gradientUnits="userSpaceOnUse" x1="311.5" x2="508.5" y1="0" y2="0"><stop offset="0" stop-color="#186eb1"/><stop offset="0.0355" stop-color="#157cbb"/><stop offset="0.0711" stop-color="#1892cb"/><stop offset="0.1015" stop-color="#26a1d2"/><stop offset="0.1218" stop-color="#36acd3"/><stop offset="0.1371" stop-color="#43b2d0"/><stop offset="0.1574" stop-color="#4db4c1"/><stop offset="0.1777" stop-color="#52b4ae"/><stop offset="0.2183" stop-color="#57b088"/><stop offset="0.269" stop-color="#58ac5a"/><stop offset="0.2944" stop-color="#55aa4b"/><stop offset="0.3299" stop-color="#50a63f"/><stop offset="0.5685" stop-color="#50a63e"/><stop offset="0.6751" stop-color="#5fae3f"/><stop offset="0.7614" stop-color="#75b63e"/><stop offset="0.8934" stop-color="#accb36"/><stop offset="0.9645" stop-color="#cad530"/><stop offset="1" stop-color="#d7d92c"/></linearGradient><linearGradient id="r102" gradientUnits="userSpaceOnUse" x1="311.5" x2="507.5" y1="0" y2="0"><stop offset="0" stop-color="#186eb1"/><stop offset="0.0306" stop-color="#1577b8"/><stop offset="0.051" stop-color="#1487c4"/><stop offset="0.0714" stop-color="#1892cb"/><stop offset="0.102" stop-color="#26a1d2"/><stop offset="0.1224" stop-color="#36acd3"/><stop offset="0.1378" stop-color="#42b2d1"/><stop offset="0.1582" stop-color="#4db4c1"/><stop offset="0.1786" stop-color="#52b4ae"/><stop offset="0.2245" stop-color="#58b084"/><stop offset="0.2755" stop-color="#58ac56"/><stop offset="0.301" stop-color="#54a949"/><stop offset="0.3316" stop-color="#51a63f"/><stop offset="0.5714" stop-color="#50a63e"/><stop offset="0.6786" stop-color="#5ead3f"/><stop offset="0.7653" stop-color="#74b63e"/><stop offset="0.8571" stop-color="#99c439"/><stop offset="0.9643" stop-color="#c7d430"/><stop offset="1" stop-color="#d2d72e"/></linearGradient><linearGradient id="r103" gradientUnits="userSpaceOnUse" x1="310.5" x2="507.5" y1="0" y2="0"><stop offset="0" stop-color="#1b68ad"/><stop offset="0.0355" stop-color="#1676b7"/><stop offset="0.0558" stop-color="#1487c4"/><stop offset="0.0761" stop-color="#1892cb"/><stop offset="0.1066" stop-color="#26a1d2"/><stop offset="0.1371" stop-color="#3eb0d2"/><stop offset="0.1523" stop-color="#49b4ca"/><stop offset="0.1777" stop-color="#51b4b3"/><stop offset="0.2234" stop-color="#57b089"/><stop offset="0.2792" stop-color="#58ac57"/><stop offset="0.3096" stop-color="#54a947"/><stop offset="0.3401" stop-color="#50a63f"/><stop offset="0.5736" stop-color="#50a63e"/><stop offset="0.6802" stop-color="#5ead3f"/><stop offset="0.7716" stop-color="#75b63d"/><stop offset="0.8985" stop-color="#a9ca37"/><stop offset="0.9594" stop-color="#c3d331"/><stop offset="1" stop-color="#d1d72e"/></linearGradient><linearGradient id="r104" gradientUnits="userSpaceOnUse" x1="309.5" x2="506.5" y1="0" y2="0"><stop offset="0" stop-color="#1d64aa"/><stop offset="0.0355" stop-color="#1772b4"/><stop offset="0.0558" stop-color="#1483c1"/><stop offset="0.0761" stop-color="#168fc9"/><stop offset="0.1117" stop-color="#26a1d2"/><stop offset="0.1421" stop-color="#3eb0d2"/><stop offset="0.1574" stop-color="#49b4ca"/><stop offset="0.1827" stop-color="#51b4b3"/><stop offset="0.2335" stop-color="#58b084"/><stop offset="0.2843" stop-color="#58ac57"/><stop offset="0.3147" stop-color="#54a947"/><stop offset="0.3452" stop-color="#50a63f"/><stop offset="0.5838" stop-color="#50a63e"/><stop offset="0.6904" stop-color="#5ead3f"/><stop offset="0.7766" stop-color="#74b63e"/><stop offset="0.9645" stop-color="#c2d232"/><stop offset="1" stop-color="#ced62f"/></linearGradient><linearGradient id="r105" gradientUnits="userSpaceOnUse" x1="309.5" x2="505.5" y1="0" y2="0"><stop offset="0" stop-color="#1d64aa"/><stop offset="0.0306" stop-color="#186eb1"/><stop offset="0.051" stop-color="#147fbe"/><stop offset="0.0765" stop-color="#168fc9"/><stop offset="0.1122" stop-color="#26a1d2"/><stop offset="0.1429" stop-color="#3eb0d2"/><stop offset="0.1582" stop-color="#49b4ca"/><stop offset="0.1837" stop-color="#51b4b3"/><stop offset="0.2347" stop-color="#58b085"/><stop offset="0.2857" stop-color="#58ac57"/><stop offset="0.3163" stop-color="#54a948"/><stop offset="0.3469" stop-color="#50a63f"/><stop offset="0.5867" stop-color="#50a63e"/><stop offset="0.6939" stop-color="#5ead3f"/><stop offset="0.7806" stop-color="#73b53e"/><stop offset="0.9643" stop-color="#bed133"/><stop offset="1" stop-color="#c9d430"/></linearGradient><linearGradient id="r106" gradientUnits="userSpaceOnUse" x1="308.5" x2="505.5" y1="0" y2="0"><stop offset="0" stop-color="#205fa6"/><stop offset="0.0355" stop-color="#196cb0"/><stop offset="0.0558" stop-color="#147fbe"/><stop offset="0.0812" stop-color="#168fc9"/><stop offset="0.1117" stop-color="#239fd1"/><stop offset="0.1371" stop-color="#36abd3"/><stop offset="0.1523" stop-color="#42b2d1"/><stop offset="0.1624" stop-color="#49b4ca"/><stop offset="0.1827" stop-color="#50b4b8"/><stop offset="0.2234" stop-color="#56b193"/><stop offset="0.2893" stop-color="#58ac57"/><stop offset="0.3096" stop-color="#55aa4c"/><stop offset="0.3452" stop-color="#51a740"/><stop offset="0.5888" stop-color="#50a63e"/><stop offset="0.6954" stop-color="#5ead3f"/><stop offset="0.7868" stop-color="#74b63e"/><stop offset="0.9645" stop-color="#bcd033"/><stop offset="1" stop-color="#c8d430"/></linearGradient><linearGradient id="r107" gradientUnits="userSpaceOnUse" x1="307.5" x2="504.5" y1="0" y2="0"><stop offset="0" stop-color="#225ba3"/><stop offset="0.0355" stop-color="#1b68ad"/><stop offset="0.0609" stop-color="#147fbe"/><stop offset="0.0863" stop-color="#168fc9"/><stop offset="0.1168" stop-color="#239fd1"/><stop offset="0.1421" stop-color="#36abd3"/><stop offset="0.1574" stop-color="#42b2d1"/><stop offset="0.1675" stop-color="#49b4ca"/><stop offset="0.1878" stop-color="#50b4b8"/><stop offset="0.2284" stop-color="#56b193"/><stop offset="0.2944" stop-color="#58ac58"/><stop offset="0.3147" stop-color="#55aa4c"/><stop offset="0.3503" stop-color="#51a740"/><stop offset="0.5939" stop-color="#50a63e"/><stop offset="0.7005" stop-color="#5dad3f"/><stop offset="0.7919" stop-color="#73b53e"/><stop offset="0.9645" stop-color="#b9cf34"/><stop offset="1" stop-color="#c4d331"/></linearGradient><linearGradient id="r108" gradientUnits="userSpaceOnUse" x1="307.5" x2="504.5" y1="0" y2="0"><stop offset="0" stop-color="#225ba3"/><stop offset="0.0305" stop-color="#1d64aa"/><stop offset="0.0558" stop-color="#157bbb"/><stop offset="0.0863" stop-color="#168fc9"/><stop offset="0.1168" stop-color="#239fd1"/><stop offset="0.1421" stop-color="#36abd3"/><stop offset="0.1574" stop-color="#42b2d1"/><stop offset="0.1675" stop-color="#49b4ca"/><stop offset="0.1878" stop-color="#50b4b8"/><stop offset="0.2284" stop-color="#56b193"/><stop offset="0.2944" stop-color="#58ac58"/><stop offset="0.3147" stop-color="#56aa4c"/><stop offset="0.3503" stop-color="#51a740"/><stop offset="0.599" stop-color="#50a63e"/><stop offset="0.7005" stop-color="#5dad3f"/><stop offset="0.797" stop-color="#74b63e"/><stop offset="0.9594" stop-color="#b6ce35"/><stop offset="1" stop-color="#c4d331"/></linearGradient><linearGradient id="r109" gradientUnits="userSpaceOnUse" x1="306.5" x2="503.5" y1="0" y2="0"><stop offset="0" stop-color="#2557a1"/><stop offset="0.0355" stop-color="#1e63a9"/><stop offset="0.0609" stop-color="#157bbb"/><stop offset="0.0914" stop-color="#178fc9"/><stop offset="0.1218" stop-color="#239fd1"/><stop offset="0.1472" stop-color="#36abd3"/><stop offset="0.1624" stop-color="#42b2d1"/><stop offset="0.1726" stop-color="#49b4ca"/><stop offset="0.1929" stop-color="#50b4b8"/><stop offset="0.2335" stop-color="#56b193"/><stop offset="0.2995" stop-color="#58ac58"/><stop offset="0.3198" stop-color="#56aa4c"/><stop offset="0.3553" stop-color="#51a740"/><stop offset="0.6041" stop-color="#50a63e"/><stop offset="0.7056" stop-color="#5dad3f"/><stop offset="0.802" stop-color="#73b53e"/><stop offset="0.9645" stop-color="#b4ce35"/><stop offset="1" stop-color="#c0d232"/></linearGradient><linearGradient id="r110" gradientUnits="userSpaceOnUse" x1="305.5" x2="502.5" y1="0" y2="0"><stop offset="0" stop-color="#26549f"/><stop offset="0.0355" stop-color="#205fa6"/><stop offset="0.066" stop-color="#157cbb"/><stop offset="0.0964" stop-color="#1790ca"/><stop offset="0.1269" stop-color="#239fd1"/><stop offset="0.1523" stop-color="#36acd3"/><stop offset="0.1675" stop-color="#42b2d1"/><stop offset="0.1777" stop-color="#49b4ca"/><stop offset="0.198" stop-color="#50b4b8"/><stop offset="0.2386" stop-color="#56b193"/><stop offset="0.3046" stop-color="#58ac58"/><stop offset="0.3249" stop-color="#56aa4d"/><stop offset="0.3604" stop-color="#51a740"/><stop offset="0.3858" stop-color="#50a63e"/><stop offset="0.6091" stop-color="#50a63e"/><stop offset="0.7107" stop-color="#5cad3f"/><stop offset="0.8071" stop-color="#73b53e"/><stop offset="0.9645" stop-color="#b1cc36"/><stop offset="1" stop-color="#bbd033"/></linearGradient><linearGradient id="r111" gradientUnits="userSpaceOnUse" x1="305.5" x2="502.5" y1="0" y2="0"><stop offset="0" stop-color="#26549f"/><stop offset="0.0355" stop-color="#215ea6"/><stop offset="0.0609" stop-color="#1577b8"/><stop offset="0.0761" stop-color="#1484c2"/><stop offset="0.0914" stop-color="#168dc8"/><stop offset="0.1218" stop-color="#219cd0"/><stop offset="0.1472" stop-color="#32a9d3"/><stop offset="0.1624" stop-color="#3fb0d2"/><stop offset="0.1777" stop-color="#49b4ca"/><stop offset="0.198" stop-color="#50b4b8"/><stop offset="0.2386" stop-color="#56b193"/><stop offset="0.3046" stop-color="#58ac58"/><stop offset="0.3249" stop-color="#56aa4d"/><stop offset="0.3604" stop-color="#51a740"/><stop offset="0.3858" stop-color="#50a63e"/><stop offset="0.6091" stop-color="#50a63e"/><stop offset="0.7157" stop-color="#5dad3f"/><stop offset="0.8122" stop-color="#74b53e"/><stop offset="0.9594" stop-color="#adcb36"/><stop offset="1" stop-color="#bbd033"/></linearGradient><linearGradient id="r112" gradientUnits="userSpaceOnUse" x1="304.5" x2="501.5" y1="0" y2="0"><stop offset="0" stop-color="#27529d"/><stop offset="0.0355" stop-color="#235aa3"/><stop offset="0.066" stop-color="#1577b8"/><stop offset="0.0812" stop-color="#1484c2"/><stop offset="0.0964" stop-color="#168dc8"/><stop offset="0.1269" stop-color="#219dd0"/><stop offset="0.1523" stop-color="#32a9d3"/><stop offset="0.1675" stop-color="#3fb0d2"/><stop offset="0.1827" stop-color="#49b4ca"/><stop offset="0.203" stop-color="#50b4b8"/><stop offset="0.2437" stop-color="#56b193"/><stop offset="0.3096" stop-color="#58ac58"/><stop offset="0.335" stop-color="#55aa4b"/><stop offset="0.3706" stop-color="#51a63f"/><stop offset="0.6193" stop-color="#50a63e"/><stop offset="0.7208" stop-color="#5dad3f"/><stop offset="0.8173" stop-color="#73b53e"/><stop offset="0.9645" stop-color="#accb36"/><stop offset="1" stop-color="#b6ce34"/></linearGradient><linearGradient id="r113" gradientUnits="userSpaceOnUse" x1="303.5" x2="501.5" y1="0" y2="0"><stop offset="0" stop-color="#28509b"/><stop offset="0.0253" stop-color="#26549f"/><stop offset="0.0404" stop-color="#235aa3"/><stop offset="0.0707" stop-color="#1578b8"/><stop offset="0.0859" stop-color="#1485c2"/><stop offset="0.101" stop-color="#168dc8"/><stop offset="0.1313" stop-color="#219dd0"/><stop offset="0.1566" stop-color="#32a9d3"/><stop offset="0.1717" stop-color="#3fb0d2"/><stop offset="0.1869" stop-color="#49b4ca"/><stop offset="0.2071" stop-color="#50b4b8"/><stop offset="0.2475" stop-color="#56b193"/><stop offset="0.3131" stop-color="#58ac59"/><stop offset="0.3384" stop-color="#55aa4b"/><stop offset="0.3737" stop-color="#51a63f"/><stop offset="0.6212" stop-color="#50a63e"/><stop offset="0.7222" stop-color="#5cad3f"/><stop offset="0.8182" stop-color="#72b53e"/><stop offset="0.9596" stop-color="#a9ca37"/><stop offset="1" stop-color="#b6ce34"/></linearGradient><linearGradient id="r114" gradientUnits="userSpaceOnUse" x1="302.5" x2="500.5" y1="0" y2="0"><stop offset="0" stop-color="#294f9a"/><stop offset="0.0404" stop-color="#2556a0"/><stop offset="0.0758" stop-color="#1578b9"/><stop offset="0.0909" stop-color="#1485c2"/><stop offset="0.1061" stop-color="#168ec8"/><stop offset="0.1364" stop-color="#219dd0"/><stop offset="0.1616" stop-color="#32aad3"/><stop offset="0.1768" stop-color="#3fb0d2"/><stop offset="0.1919" stop-color="#49b4ca"/><stop offset="0.2121" stop-color="#50b4b7"/><stop offset="0.2525" stop-color="#56b193"/><stop offset="0.3182" stop-color="#58ac59"/><stop offset="0.3434" stop-color="#55aa4b"/><stop offset="0.3788" stop-color="#51a63f"/><stop offset="0.6263" stop-color="#50a63e"/><stop offset="0.7273" stop-color="#5cac3f"/><stop offset="0.8283" stop-color="#73b53e"/><stop offset="0.9646" stop-color="#a7c937"/><stop offset="1" stop-color="#b3cd35"/></linearGradient><linearGradient id="r115" gradientUnits="userSpaceOnUse" x1="302.5" x2="499.5" y1="0" y2="0"><stop offset="0" stop-color="#294f9a"/><stop offset="0.0254" stop-color="#27529d"/><stop offset="0.0406" stop-color="#2557a0"/><stop offset="0.0761" stop-color="#1579b9"/><stop offset="0.0914" stop-color="#1485c2"/><stop offset="0.1066" stop-color="#168ec8"/><stop offset="0.1371" stop-color="#219dd0"/><stop offset="0.1624" stop-color="#33aad3"/><stop offset="0.1777" stop-color="#3fb1d2"/><stop offset="0.1929" stop-color="#49b4c9"/><stop offset="0.2132" stop-color="#50b4b7"/><stop offset="0.2538" stop-color="#56b193"/><stop offset="0.3198" stop-color="#58ac59"/><stop offset="0.3452" stop-color="#55aa4b"/><stop offset="0.3807" stop-color="#51a63f"/><stop offset="0.6294" stop-color="#50a63e"/><stop offset="0.731" stop-color="#5cac3f"/><stop offset="0.8325" stop-color="#72b53e"/><stop offset="0.9645" stop-color="#a4c838"/><stop offset="1" stop-color="#aecb36"/></linearGradient><linearGradient id="r116" gradientUnits="userSpaceOnUse" x1="301.5" x2="499.5" y1="0" y2="0"><stop offset="0" stop-color="#2a4e99"/><stop offset="0.0404" stop-color="#26549e"/><stop offset="0.0505" stop-color="#225ba4"/><stop offset="0.0758" stop-color="#1674b6"/><stop offset="0.0909" stop-color="#1482c0"/><stop offset="0.1061" stop-color="#158bc7"/><stop offset="0.1364" stop-color="#1f9bcf"/><stop offset="0.1667" stop-color="#33aad3"/><stop offset="0.1818" stop-color="#40b1d2"/><stop offset="0.197" stop-color="#49b4c9"/><stop offset="0.2172" stop-color="#50b4b7"/><stop offset="0.2576" stop-color="#56b193"/><stop offset="0.3232" stop-color="#58ac59"/><stop offset="0.3485" stop-color="#55aa4b"/><stop offset="0.3838" stop-color="#51a63f"/><stop offset="0.6364" stop-color="#50a63e"/><stop offset="0.7374" stop-color="#5cac3f"/><stop offset="0.8333" stop-color="#71b53e"/><stop offset="0.9596" stop-color="#a1c738"/><stop offset="1" stop-color="#aecb36"/></linearGradient><linearGradient id="r117" gradientUnits="userSpaceOnUse" x1="300.5" x2="498.5" y1="0" y2="0"><stop offset="0" stop-color="#2a4d98"/><stop offset="0.0354" stop-color="#28509b"/><stop offset="0.0455" stop-color="#26549e"/><stop offset="0.0808" stop-color="#1675b6"/><stop offset="0.096" stop-color="#1482c0"/><stop offset="0.1111" stop-color="#158cc7"/><stop offset="0.1414" stop-color="#1f9bcf"/><stop offset="0.1717" stop-color="#33aad3"/><stop offset="0.1869" stop-color="#40b1d2"/><stop offset="0.202" stop-color="#49b4c9"/><stop offset="0.2222" stop-color="#51b4b7"/><stop offset="0.2626" stop-color="#56b192"/><stop offset="0.3283" stop-color="#58ac59"/><stop offset="0.3535" stop-color="#55aa4b"/><stop offset="0.3889" stop-color="#51a63f"/><stop offset="0.6414" stop-color="#50a63e"/><stop offset="0.7424" stop-color="#5cac3f"/><stop offset="0.8434" stop-color="#72b53e"/><stop offset="0.9646" stop-color="#a0c638"/><stop offset="1" stop-color="#abca37"/></linearGradient><linearGradient id="r118" gradientUnits="userSpaceOnUse" x1="300.5" x2="497.5" y1="0" y2="0"><stop offset="0" stop-color="#2a4d98"/><stop offset="0.0305" stop-color="#294f9a"/><stop offset="0.0457" stop-color="#26549f"/><stop offset="0.0812" stop-color="#1675b6"/><stop offset="0.0964" stop-color="#1483c1"/><stop offset="0.1117" stop-color="#158cc7"/><stop offset="0.1371" stop-color="#1d99ce"/><stop offset="0.1675" stop-color="#2fa8d3"/><stop offset="0.1827" stop-color="#3cafd3"/><stop offset="0.198" stop-color="#47b3cc"/><stop offset="0.2183" stop-color="#4fb4bb"/><stop offset="0.2589" stop-color="#56b197"/><stop offset="0.3299" stop-color="#58ac58"/><stop offset="0.3553" stop-color="#55aa4b"/><stop offset="0.3909" stop-color="#51a63f"/><stop offset="0.6447" stop-color="#50a63e"/><stop offset="0.7411" stop-color="#5bac3f"/><stop offset="0.8477" stop-color="#72b53e"/><stop offset="0.9695" stop-color="#9ec639"/><stop offset="1" stop-color="#a6c937"/></linearGradient><linearGradient id="r119" gradientUnits="userSpaceOnUse" x1="299.5" x2="497.5" y1="0" y2="0"><stop offset="0" stop-color="#2b4b97"/><stop offset="0.0354" stop-color="#294f9a"/><stop offset="0.0505" stop-color="#26559f"/><stop offset="0.0859" stop-color="#1676b7"/><stop offset="0.101" stop-color="#1483c1"/><stop offset="0.1162" stop-color="#158cc7"/><stop offset="0.1414" stop-color="#1d99ce"/><stop offset="0.1717" stop-color="#30a8d3"/><stop offset="0.1869" stop-color="#3dafd3"/><stop offset="0.202" stop-color="#47b4cc"/><stop offset="0.2222" stop-color="#50b4ba"/><stop offset="0.2626" stop-color="#56b196"/><stop offset="0.3333" stop-color="#58ac58"/><stop offset="0.3586" stop-color="#55aa4b"/><stop offset="0.3939" stop-color="#51a63f"/><stop offset="0.6465" stop-color="#50a63e"/><stop offset="0.7475" stop-color="#5bac3f"/><stop offset="0.8485" stop-color="#71b43e"/><stop offset="1" stop-color="#a6c937"/></linearGradient><linearGradient id="r120" gradientUnits="userSpaceOnUse" x1="298.5" x2="496.5" y1="0" y2="0"><stop offset="0" stop-color="#2b4a96"/><stop offset="0.0354" stop-color="#2a4e99"/><stop offset="0.0505" stop-color="#27539d"/><stop offset="0.0657" stop-color="#215ea5"/><stop offset="0.0859" stop-color="#1772b4"/><stop offset="0.101" stop-color="#1480be"/><stop offset="0.1162" stop-color="#158ac6"/><stop offset="0.1465" stop-color="#1e99cf"/><stop offset="0.1768" stop-color="#30a8d3"/><stop offset="0.1919" stop-color="#3dafd3"/><stop offset="0.2071" stop-color="#48b4cc"/><stop offset="0.2273" stop-color="#50b4ba"/><stop offset="0.2677" stop-color="#56b196"/><stop offset="0.3384" stop-color="#58ac58"/><stop offset="0.3636" stop-color="#55aa4b"/><stop offset="0.399" stop-color="#51a63f"/><stop offset="0.6566" stop-color="#50a63e"/><stop offset="0.7525" stop-color="#5bac3f"/><stop offset="0.8535" stop-color="#70b43e"/><stop offset="1" stop-color="#a3c738"/></linearGradient><linearGradient id="r121" gradientUnits="userSpaceOnUse" x1="297.5" x2="495.5" y1="0" y2="0"><stop offset="0" stop-color="#2c4995"/><stop offset="0.0354" stop-color="#2a4d98"/><stop offset="0.0556" stop-color="#27539e"/><stop offset="0.0657" stop-color="#235aa3"/><stop offset="0.0909" stop-color="#1773b4"/><stop offset="0.1061" stop-color="#1480bf"/><stop offset="0.1212" stop-color="#158ac6"/><stop offset="0.1515" stop-color="#1e9acf"/><stop offset="0.1818" stop-color="#31a9d3"/><stop offset="0.197" stop-color="#3eb0d2"/><stop offset="0.2121" stop-color="#48b4cb"/><stop offset="0.2323" stop-color="#50b4b9"/><stop offset="0.2727" stop-color="#56b196"/><stop offset="0.3434" stop-color="#58ac58"/><stop offset="0.3687" stop-color="#55aa4b"/><stop offset="0.404" stop-color="#51a63f"/><stop offset="0.6616" stop-color="#50a63e"/><stop offset="0.7525" stop-color="#5aac3f"/><stop offset="0.8586" stop-color="#70b43e"/><stop offset="0.9697" stop-color="#97c33a"/><stop offset="1" stop-color="#9fc639"/></linearGradient><linearGradient id="r122" gradientUnits="userSpaceOnUse" x1="297.5" x2="495.5" y1="0" y2="0"><stop offset="0" stop-color="#2c4995"/><stop offset="0.0354" stop-color="#2a4c98"/><stop offset="0.0556" stop-color="#27539e"/><stop offset="0.0657" stop-color="#235aa3"/><stop offset="0.0909" stop-color="#1673b5"/><stop offset="0.1061" stop-color="#1481bf"/><stop offset="0.1212" stop-color="#158bc6"/><stop offset="0.1515" stop-color="#1e9acf"/><stop offset="0.1818" stop-color="#32a9d3"/><stop offset="0.197" stop-color="#3eb0d2"/><stop offset="0.2121" stop-color="#48b4cb"/><stop offset="0.2323" stop-color="#50b4b9"/><stop offset="0.2727" stop-color="#56b195"/><stop offset="0.3434" stop-color="#58ac58"/><stop offset="0.3687" stop-color="#55aa4b"/><stop offset="0.404" stop-color="#51a63f"/><stop offset="0.6616" stop-color="#50a63e"/><stop offset="0.7525" stop-color="#5aab3f"/><stop offset="0.8636" stop-color="#70b43e"/><stop offset="1" stop-color="#9ec639"/></linearGradient><linearGradient id="r123" gradientUnits="userSpaceOnUse" x1="296.5" x2="494.5" y1="0" y2="0"><stop offset="0" stop-color="#2c4894"/><stop offset="0.0354" stop-color="#2b4b97"/><stop offset="0.0606" stop-color="#26549e"/><stop offset="0.0707" stop-color="#225ba4"/><stop offset="0.096" stop-color="#1674b6"/><stop offset="0.1212" stop-color="#1588c5"/><stop offset="0.1414" stop-color="#1893cc"/><stop offset="0.1616" stop-color="#219dd0"/><stop offset="0.1768" stop-color="#2aa4d2"/><stop offset="0.197" stop-color="#3baed3"/><stop offset="0.2121" stop-color="#46b3ce"/><stop offset="0.2323" stop-color="#4fb4bd"/><stop offset="0.2828" stop-color="#57b190"/><stop offset="0.3535" stop-color="#57ac54"/><stop offset="0.3737" stop-color="#55aa4a"/><stop offset="0.404" stop-color="#51a740"/><stop offset="0.4293" stop-color="#50a63e"/><stop offset="0.6667" stop-color="#50a63e"/><stop offset="0.7475" stop-color="#59ab3f"/><stop offset="0.7929" stop-color="#5fae3f"/><stop offset="0.8687" stop-color="#70b43e"/><stop offset="1" stop-color="#9bc439"/></linearGradient><linearGradient id="r124" gradientUnits="userSpaceOnUse" x1="295.5" x2="493.5" y1="0" y2="0"><stop offset="0" stop-color="#2d4893"/><stop offset="0.0404" stop-color="#2b4b97"/><stop offset="0.0657" stop-color="#26549f"/><stop offset="0.096" stop-color="#1870b2"/><stop offset="0.1212" stop-color="#1486c3"/><stop offset="0.1414" stop-color="#1791ca"/><stop offset="0.1616" stop-color="#1f9bcf"/><stop offset="0.1818" stop-color="#2ba5d3"/><stop offset="0.202" stop-color="#3bafd3"/><stop offset="0.2172" stop-color="#46b3cd"/><stop offset="0.2374" stop-color="#4fb4bc"/><stop offset="0.2879" stop-color="#57b190"/><stop offset="0.3586" stop-color="#57ac54"/><stop offset="0.4091" stop-color="#51a740"/><stop offset="0.4343" stop-color="#50a63e"/><stop offset="0.6616" stop-color="#50a63e"/><stop offset="0.7071" stop-color="#53a83e"/><stop offset="0.7879" stop-color="#5dad3f"/><stop offset="0.8636" stop-color="#6db33e"/><stop offset="0.9697" stop-color="#90c03b"/><stop offset="1" stop-color="#97c33a"/></linearGradient><linearGradient id="r125" gradientUnits="userSpaceOnUse" x1="294.5" x2="493.5" y1="0" y2="0"><stop offset="0" stop-color="#2d4793"/><stop offset="0.0402" stop-color="#2b4a96"/><stop offset="0.0653" stop-color="#27529d"/><stop offset="0.0804" stop-color="#215da5"/><stop offset="0.1005" stop-color="#1771b3"/><stop offset="0.1256" stop-color="#1486c3"/><stop offset="0.1457" stop-color="#1791cb"/><stop offset="0.1658" stop-color="#209bcf"/><stop offset="0.1859" stop-color="#2ba5d3"/><stop offset="0.206" stop-color="#3cafd3"/><stop offset="0.2211" stop-color="#47b3cd"/><stop offset="0.2362" stop-color="#4eb4c0"/><stop offset="0.2915" stop-color="#57b18f"/><stop offset="0.3568" stop-color="#58ac57"/><stop offset="0.3769" stop-color="#56aa4c"/><stop offset="0.4121" stop-color="#51a740"/><stop offset="0.4372" stop-color="#50a63e"/><stop offset="0.6633" stop-color="#50a63e"/><stop offset="0.7136" stop-color="#53a83e"/><stop offset="0.794" stop-color="#5ead3f"/><stop offset="0.8693" stop-color="#6db33e"/><stop offset="1" stop-color="#97c33a"/></linearGradient><linearGradient id="r126" gradientUnits="userSpaceOnUse" x1="294.5" x2="492.5" y1="0" y2="0"><stop offset="0" stop-color="#2d4793"/><stop offset="0.0354" stop-color="#2c4995"/><stop offset="0.0657" stop-color="#27539d"/><stop offset="0.0758" stop-color="#2359a2"/><stop offset="0.101" stop-color="#1772b4"/><stop offset="0.1263" stop-color="#1487c4"/><stop offset="0.1465" stop-color="#1892cb"/><stop offset="0.1616" stop-color="#1e99cf"/><stop offset="0.1818" stop-color="#29a3d2"/><stop offset="0.202" stop-color="#39add3"/><stop offset="0.2172" stop-color="#44b3cf"/><stop offset="0.2374" stop-color="#4eb4bf"/><stop offset="0.2879" stop-color="#56b193"/><stop offset="0.3586" stop-color="#58ac57"/><stop offset="0.3788" stop-color="#55aa4c"/><stop offset="0.4141" stop-color="#51a740"/><stop offset="0.4394" stop-color="#50a63e"/><stop offset="0.6667" stop-color="#50a63e"/><stop offset="0.7121" stop-color="#53a73e"/><stop offset="0.798" stop-color="#5dad3f"/><stop offset="0.8737" stop-color="#6db33e"/><stop offset="1" stop-color="#94c23a"/></linearGradient><linearGradient id="r127" gradientUnits="userSpaceOnUse" x1="293.5" x2="491.5" y1="0" y2="0"><stop offset="0" stop-color="#2d4692"/><stop offset="0.0354" stop-color="#2c4894"/><stop offset="0.0707" stop-color="#27539e"/><stop offset="0.0808" stop-color="#235aa3"/><stop offset="0.1061" stop-color="#1773b5"/><stop offset="0.1263" stop-color="#1484c2"/><stop offset="0.1465" stop-color="#1790ca"/><stop offset="0.1667" stop-color="#1e9acf"/><stop offset="0.1869" stop-color="#29a4d2"/><stop offset="0.2071" stop-color="#39aed3"/><stop offset="0.2222" stop-color="#45b3cf"/><stop offset="0.2424" stop-color="#4eb4bf"/><stop offset="0.2929" stop-color="#56b192"/><stop offset="0.3636" stop-color="#58ac56"/><stop offset="0.3838" stop-color="#55aa4c"/><stop offset="0.4192" stop-color="#51a740"/><stop offset="0.4444" stop-color="#50a63e"/><stop offset="0.6717" stop-color="#50a63e"/><stop offset="0.7172" stop-color="#52a73e"/><stop offset="0.803" stop-color="#5dad3f"/><stop offset="0.8737" stop-color="#6bb23e"/><stop offset="0.9646" stop-color="#88bd3c"/><stop offset="1" stop-color="#90c03b"/></linearGradient><linearGradient id="r128" gradientUnits="userSpaceOnUse" x1="292.5" x2="491.5" y1="0" y2="0"><stop offset="0" stop-color="#2d4591"/><stop offset="0.0402" stop-color="#2c4894"/><stop offset="0.0704" stop-color="#28519c"/><stop offset="0.0854" stop-color="#225ba4"/><stop offset="0.1106" stop-color="#1674b6"/><stop offset="0.1307" stop-color="#1485c3"/><stop offset="0.1508" stop-color="#1790ca"/><stop offset="0.1709" stop-color="#1f9acf"/><stop offset="0.191" stop-color="#2aa4d2"/><stop offset="0.2111" stop-color="#3aaed3"/><stop offset="0.2261" stop-color="#45b3ce"/><stop offset="0.2462" stop-color="#4eb4be"/><stop offset="0.2965" stop-color="#56b192"/><stop offset="0.3668" stop-color="#57ac56"/><stop offset="0.3869" stop-color="#55aa4c"/><stop offset="0.4221" stop-color="#51a740"/><stop offset="0.4472" stop-color="#50a63e"/><stop offset="0.6734" stop-color="#50a63e"/><stop offset="0.7186" stop-color="#52a73e"/><stop offset="0.804" stop-color="#5dad3f"/><stop offset="0.8794" stop-color="#6cb23e"/><stop offset="1" stop-color="#90c03b"/></linearGradient><linearGradient id="r129" gradientUnits="userSpaceOnUse" x1="291.5" x2="490.5" y1="0" y2="0"><stop offset="0" stop-color="#2d4591"/><stop offset="0.0402" stop-color="#2d4793"/><stop offset="0.0754" stop-color="#27529d"/><stop offset="0.0905" stop-color="#215ca4"/><stop offset="0.1106" stop-color="#1770b3"/><stop offset="0.1357" stop-color="#1486c3"/><stop offset="0.1558" stop-color="#1791ca"/><stop offset="0.1759" stop-color="#1f9bcf"/><stop offset="0.196" stop-color="#2ba5d3"/><stop offset="0.2161" stop-color="#3baed3"/><stop offset="0.2312" stop-color="#46b3ce"/><stop offset="0.2513" stop-color="#4fb4bd"/><stop offset="0.3015" stop-color="#57b191"/><stop offset="0.3719" stop-color="#57ac55"/><stop offset="0.392" stop-color="#55aa4b"/><stop offset="0.4271" stop-color="#51a740"/><stop offset="0.6784" stop-color="#50a63e"/><stop offset="0.7236" stop-color="#52a73e"/><stop offset="0.809" stop-color="#5dad3f"/><stop offset="0.8794" stop-color="#6ab23e"/><stop offset="1" stop-color="#8dbf3b"/></linearGradient><linearGradient id="r130" gradientUnits="userSpaceOnUse" x1="290.5" x2="489.5" y1="0" y2="0"><stop offset="0" stop-color="#2e4490"/><stop offset="0.0402" stop-color="#2d4793"/><stop offset="0.0804" stop-color="#27539d"/><stop offset="0.0955" stop-color="#215ea5"/><stop offset="0.1156" stop-color="#1772b4"/><stop offset="0.1407" stop-color="#1487c4"/><stop offset="0.1608" stop-color="#1892cb"/><stop offset="0.1759" stop-color="#1d99ce"/><stop offset="0.196" stop-color="#28a3d2"/><stop offset="0.2161" stop-color="#38add3"/><stop offset="0.2312" stop-color="#44b2d0"/><stop offset="0.2513" stop-color="#4eb4c0"/><stop offset="0.3015" stop-color="#56b194"/><stop offset="0.3769" stop-color="#57ac55"/><stop offset="0.402" stop-color="#54a949"/><stop offset="0.4322" stop-color="#51a740"/><stop offset="0.6834" stop-color="#50a63e"/><stop offset="0.7286" stop-color="#52a73e"/><stop offset="0.8543" stop-color="#64af3f"/><stop offset="0.9095" stop-color="#70b43e"/><stop offset="0.9698" stop-color="#83bb3c"/><stop offset="1" stop-color="#89be3c"/></linearGradient><linearGradient id="r131" gradientUnits="userSpaceOnUse" x1="289.5" x2="489.5" y1="0" y2="0"><stop offset="0" stop-color="#2e448f"/><stop offset="0.045" stop-color="#2d4793"/><stop offset="0.085" stop-color="#27539e"/><stop offset="0.095" stop-color="#235aa3"/><stop offset="0.12" stop-color="#1773b5"/><stop offset="0.14" stop-color="#1484c2"/><stop offset="0.16" stop-color="#1790ca"/><stop offset="0.18" stop-color="#1e9acf"/><stop offset="0.2" stop-color="#29a4d2"/><stop offset="0.22" stop-color="#39add3"/><stop offset="0.235" stop-color="#44b3cf"/><stop offset="0.255" stop-color="#4eb4bf"/><stop offset="0.305" stop-color="#56b193"/><stop offset="0.38" stop-color="#57ac54"/><stop offset="0.405" stop-color="#54a949"/><stop offset="0.435" stop-color="#51a740"/><stop offset="0.73" stop-color="#52a73e"/><stop offset="0.815" stop-color="#5cac3f"/><stop offset="0.875" stop-color="#67b13e"/><stop offset="0.915" stop-color="#70b43e"/><stop offset="1" stop-color="#89be3c"/></linearGradient><linearGradient id="r132" gradientUnits="userSpaceOnUse" x1="289.5" x2="488.5" y1="0" y2="0"><stop offset="0" stop-color="#2e448f"/><stop offset="0.0402" stop-color="#2d4692"/><stop offset="0.0804" stop-color="#28529c"/><stop offset="0.0955" stop-color="#225ca4"/><stop offset="0.1206" stop-color="#1674b6"/><stop offset="0.1407" stop-color="#1485c3"/><stop offset="0.1608" stop-color="#1790ca"/><stop offset="0.1809" stop-color="#1f9acf"/><stop offset="0.201" stop-color="#2aa4d2"/><stop offset="0.2211" stop-color="#3aaed3"/><stop offset="0.2362" stop-color="#45b3ce"/><stop offset="0.2563" stop-color="#4eb4be"/><stop offset="0.3065" stop-color="#56b192"/><stop offset="0.3618" stop-color="#58ad63"/><stop offset="0.3819" stop-color="#57ac54"/><stop offset="0.407" stop-color="#54a949"/><stop offset="0.4372" stop-color="#51a740"/><stop offset="0.7337" stop-color="#52a73e"/><stop offset="0.8543" stop-color="#62af3f"/><stop offset="0.9196" stop-color="#70b43e"/><stop offset="1" stop-color="#86bd3c"/></linearGradient><linearGradient id="r133" gradientUnits="userSpaceOnUse" x1="288.5" x2="487.5" y1="0" y2="0"><stop offset="0" stop-color="#2e438f"/><stop offset="0.0402" stop-color="#2d4591"/><stop offset="0.0854" stop-color="#27529d"/><stop offset="0.1005" stop-color="#215da5"/><stop offset="0.1206" stop-color="#1771b3"/><stop offset="0.1457" stop-color="#1486c3"/><stop offset="0.1658" stop-color="#1791cb"/><stop offset="0.1859" stop-color="#1f9bcf"/><stop offset="0.206" stop-color="#2ba5d3"/><stop offset="0.2261" stop-color="#3baed3"/><stop offset="0.2412" stop-color="#46b3ce"/><stop offset="0.2613" stop-color="#4fb4bd"/><stop offset="0.3116" stop-color="#56b191"/><stop offset="0.3819" stop-color="#58ac57"/><stop offset="0.402" stop-color="#56aa4c"/><stop offset="0.4372" stop-color="#51a741"/><stop offset="0.4673" stop-color="#50a63e"/><stop offset="0.7337" stop-color="#51a73e"/><stop offset="0.8543" stop-color="#61ae3f"/><stop offset="0.9196" stop-color="#6eb33e"/><stop offset="1" stop-color="#83bb3c"/></linearGradient><linearGradient id="r134" gradientUnits="userSpaceOnUse" x1="287.5" x2="487.5" y1="0" y2="0"><stop offset="0" stop-color="#2e438e"/><stop offset="0.04" stop-color="#2d4591"/><stop offset="0.09" stop-color="#27539e"/><stop offset="0.1" stop-color="#235aa3"/><stop offset="0.125" stop-color="#1773b4"/><stop offset="0.145" stop-color="#1484c2"/><stop offset="0.165" stop-color="#178fc9"/><stop offset="0.185" stop-color="#1e99cf"/><stop offset="0.205" stop-color="#28a3d2"/><stop offset="0.225" stop-color="#38add3"/><stop offset="0.24" stop-color="#44b2d0"/><stop offset="0.26" stop-color="#4eb4c0"/><stop offset="0.31" stop-color="#56b195"/><stop offset="0.385" stop-color="#57ac56"/><stop offset="0.405" stop-color="#55aa4c"/><stop offset="0.44" stop-color="#51a740"/><stop offset="0.47" stop-color="#50a63e"/><stop offset="0.74" stop-color="#52a73e"/><stop offset="0.855" stop-color="#60ae3f"/><stop offset="0.925" stop-color="#6fb43e"/><stop offset="1" stop-color="#83bb3c"/></linearGradient><linearGradient id="r135" gradientUnits="userSpaceOnUse" x1="286.5" x2="486.5" y1="0" y2="0"><stop offset="0" stop-color="#2e428e"/><stop offset="0.045" stop-color="#2d4591"/><stop offset="0.09" stop-color="#28519c"/><stop offset="0.105" stop-color="#225ba4"/><stop offset="0.13" stop-color="#1674b5"/><stop offset="0.15" stop-color="#1485c2"/><stop offset="0.17" stop-color="#1790ca"/><stop offset="0.19" stop-color="#1e9acf"/><stop offset="0.21" stop-color="#2aa4d2"/><stop offset="0.23" stop-color="#3aaed3"/><stop offset="0.245" stop-color="#45b3cf"/><stop offset="0.265" stop-color="#4eb4bf"/><stop offset="0.315" stop-color="#56b193"/><stop offset="0.39" stop-color="#57ac55"/><stop offset="0.41" stop-color="#55aa4b"/><stop offset="0.445" stop-color="#51a740"/><stop offset="0.475" stop-color="#50a63e"/><stop offset="0.745" stop-color="#52a73e"/><stop offset="0.86" stop-color="#60ae3f"/><stop offset="0.93" stop-color="#6eb33e"/><stop offset="1" stop-color="#80ba3c"/></linearGradient><linearGradient id="r136" gradientUnits="userSpaceOnUse" x1="285.5" x2="485.5" y1="0" y2="0"><stop offset="0" stop-color="#2e428d"/><stop offset="0.045" stop-color="#2e4590"/><stop offset="0.095" stop-color="#27529d"/><stop offset="0.11" stop-color="#215da5"/><stop offset="0.13" stop-color="#1771b3"/><stop offset="0.155" stop-color="#1486c3"/><stop offset="0.175" stop-color="#1791ca"/><stop offset="0.195" stop-color="#1f9bcf"/><stop offset="0.215" stop-color="#2ba5d3"/><stop offset="0.235" stop-color="#3baed3"/><stop offset="0.25" stop-color="#46b3ce"/><stop offset="0.27" stop-color="#4fb4be"/><stop offset="0.325" stop-color="#57b18e"/><stop offset="0.395" stop-color="#57ac54"/><stop offset="0.42" stop-color="#54a949"/><stop offset="0.45" stop-color="#51a740"/><stop offset="0.48" stop-color="#50a63e"/><stop offset="0.75" stop-color="#52a73e"/><stop offset="0.865" stop-color="#60ae3f"/><stop offset="1" stop-color="#7eb93d"/></linearGradient><linearGradient id="r137" gradientUnits="userSpaceOnUse" x1="284.5" x2="484.5" y1="0" y2="0"><stop offset="0" stop-color="#2e418d"/><stop offset="0.045" stop-color="#2e4490"/><stop offset="0.095" stop-color="#28519c"/><stop offset="0.11" stop-color="#235aa3"/><stop offset="0.135" stop-color="#1773b4"/><stop offset="0.155" stop-color="#1484c2"/><stop offset="0.175" stop-color="#178fc9"/><stop offset="0.195" stop-color="#1e99cf"/><stop offset="0.215" stop-color="#28a3d2"/><stop offset="0.235" stop-color="#38add3"/><stop offset="0.25" stop-color="#44b2d0"/><stop offset="0.27" stop-color="#4db4c1"/><stop offset="0.32" stop-color="#56b195"/><stop offset="0.395" stop-color="#58ac57"/><stop offset="0.42" stop-color="#55aa4b"/><stop offset="0.455" stop-color="#51a740"/><stop offset="0.75" stop-color="#51a73e"/><stop offset="0.865" stop-color="#5fae3f"/><stop offset="1" stop-color="#7ab83d"/></linearGradient><linearGradient id="r138" gradientUnits="userSpaceOnUse" x1="284.5" x2="484.5" y1="0" y2="0"><stop offset="0" stop-color="#2e418d"/><stop offset="0.04" stop-color="#2e438f"/><stop offset="0.095" stop-color="#28529c"/><stop offset="0.11" stop-color="#225ca4"/><stop offset="0.135" stop-color="#1675b6"/><stop offset="0.155" stop-color="#1485c3"/><stop offset="0.175" stop-color="#1790ca"/><stop offset="0.195" stop-color="#1e9acf"/><stop offset="0.215" stop-color="#2aa4d2"/><stop offset="0.235" stop-color="#3aaed3"/><stop offset="0.25" stop-color="#45b3cf"/><stop offset="0.27" stop-color="#4eb4bf"/><stop offset="0.32" stop-color="#56b194"/><stop offset="0.395" stop-color="#57ac56"/><stop offset="0.415" stop-color="#55aa4c"/><stop offset="0.45" stop-color="#51a741"/><stop offset="0.48" stop-color="#50a63e"/><stop offset="0.75" stop-color="#51a73e"/><stop offset="0.865" stop-color="#5ead3f"/><stop offset="1" stop-color="#7ab83d"/></linearGradient><linearGradient id="r139" gradientUnits="userSpaceOnUse" x1="283.5" x2="483.5" y1="0" y2="0"><stop offset="0" stop-color="#2e418c"/><stop offset="0.045" stop-color="#2e448f"/><stop offset="0.1" stop-color="#27529d"/><stop offset="0.115" stop-color="#215da5"/><stop offset="0.135" stop-color="#1772b4"/><stop offset="0.16" stop-color="#1487c4"/><stop offset="0.18" stop-color="#1791cb"/><stop offset="0.2" stop-color="#1f9bcf"/><stop offset="0.22" stop-color="#2ba5d3"/><stop offset="0.24" stop-color="#3baed3"/><stop offset="0.255" stop-color="#46b3ce"/><stop offset="0.275" stop-color="#4fb4bd"/><stop offset="0.33" stop-color="#57b18e"/><stop offset="0.4" stop-color="#57ac55"/><stop offset="0.42" stop-color="#55aa4b"/><stop offset="0.455" stop-color="#51a740"/><stop offset="0.485" stop-color="#50a63e"/><stop offset="0.755" stop-color="#51a73e"/><stop offset="0.87" stop-color="#5ead3f"/><stop offset="1" stop-color="#78b73d"/></linearGradient><linearGradient id="r140" gradientUnits="userSpaceOnUse" x1="282.5" x2="482.5" y1="0" y2="0"><stop offset="0" stop-color="#2e408c"/><stop offset="0.04" stop-color="#2e428e"/><stop offset="0.1" stop-color="#28519c"/><stop offset="0.115" stop-color="#225ba3"/><stop offset="0.14" stop-color="#1674b5"/><stop offset="0.16" stop-color="#1485c2"/><stop offset="0.18" stop-color="#1790ca"/><stop offset="0.2" stop-color="#1e9acf"/><stop offset="0.22" stop-color="#29a4d2"/><stop offset="0.24" stop-color="#39add3"/><stop offset="0.255" stop-color="#44b2cf"/><stop offset="0.275" stop-color="#4eb4c0"/><stop offset="0.33" stop-color="#57b191"/><stop offset="0.385" stop-color="#58ad62"/><stop offset="0.405" stop-color="#57ac54"/><stop offset="0.43" stop-color="#54a949"/><stop offset="0.46" stop-color="#51a740"/><stop offset="0.49" stop-color="#50a63e"/><stop offset="0.76" stop-color="#51a63e"/><stop offset="0.87" stop-color="#5dad3f"/><stop offset="1" stop-color="#75b63e"/></linearGradient><linearGradient id="r141" gradientUnits="userSpaceOnUse" x1="281.5" x2="482.5" y1="0" y2="0"><stop offset="0" stop-color="#2f408b"/><stop offset="0.0448" stop-color="#2e438e"/><stop offset="0.1045" stop-color="#27529d"/><stop offset="0.1194" stop-color="#215da5"/><stop offset="0.1393" stop-color="#1771b3"/><stop offset="0.1642" stop-color="#1486c3"/><stop offset="0.1841" stop-color="#1791ca"/><stop offset="0.204" stop-color="#1f9bcf"/><stop offset="0.2239" stop-color="#2aa5d2"/><stop offset="0.2438" stop-color="#3baed3"/><stop offset="0.2587" stop-color="#45b3ce"/><stop offset="0.2786" stop-color="#4eb4be"/><stop offset="0.3333" stop-color="#57b18f"/><stop offset="0.403" stop-color="#58ac56"/><stop offset="0.4279" stop-color="#55aa4a"/><stop offset="0.4627" stop-color="#51a740"/><stop offset="0.7612" stop-color="#51a63e"/><stop offset="0.8756" stop-color="#5ead3f"/><stop offset="1" stop-color="#75b63e"/></linearGradient><linearGradient id="r142" gradientUnits="userSpaceOnUse" x1="280.5" x2="481.5" y1="0" y2="0"><stop offset="0" stop-color="#2f408b"/><stop offset="0.0448" stop-color="#2e428e"/><stop offset="0.1045" stop-color="#28519c"/><stop offset="0.1194" stop-color="#235aa3"/><stop offset="0.1443" stop-color="#1773b5"/><stop offset="0.1642" stop-color="#1484c2"/><stop offset="0.1841" stop-color="#1790ca"/><stop offset="0.204" stop-color="#1e9acf"/><stop offset="0.2239" stop-color="#29a3d2"/><stop offset="0.2438" stop-color="#38add3"/><stop offset="0.2587" stop-color="#44b2d0"/><stop offset="0.2786" stop-color="#4db4c1"/><stop offset="0.3284" stop-color="#56b196"/><stop offset="0.408" stop-color="#57ac55"/><stop offset="0.4279" stop-color="#55aa4c"/><stop offset="0.4627" stop-color="#51a741"/><stop offset="0.4925" stop-color="#50a63e"/><stop offset="0.7662" stop-color="#51a63e"/><stop offset="0.8806" stop-color="#5dad3f"/><stop offset="1" stop-color="#73b53e"/></linearGradient><linearGradient id="r143" gradientUnits="userSpaceOnUse" x1="279.5" x2="480.5" y1="0" y2="0"><stop offset="0" stop-color="#2f3f8a"/><stop offset="0.0448" stop-color="#2e428d"/><stop offset="0.0796" stop-color="#2c4994"/><stop offset="0.1095" stop-color="#27529d"/><stop offset="0.1244" stop-color="#225ca4"/><stop offset="0.1443" stop-color="#1770b3"/><stop offset="0.1692" stop-color="#1486c3"/><stop offset="0.1891" stop-color="#1791ca"/><stop offset="0.209" stop-color="#1f9bcf"/><stop offset="0.2289" stop-color="#2aa4d2"/><stop offset="0.2488" stop-color="#3aaed3"/><stop offset="0.2637" stop-color="#45b3cf"/><stop offset="0.2836" stop-color="#4eb4bf"/><stop offset="0.3383" stop-color="#57b190"/><stop offset="0.408" stop-color="#58ac57"/><stop offset="0.4328" stop-color="#55aa4b"/><stop offset="0.4677" stop-color="#51a740"/><stop offset="0.4975" stop-color="#50a63e"/><stop offset="0.7711" stop-color="#51a63e"/><stop offset="0.8806" stop-color="#5dad3f"/><stop offset="1" stop-color="#71b43e"/></linearGradient><linearGradient id="r144" gradientUnits="userSpaceOnUse" x1="146.5" x2="479.5" y1="0" y2="0"><stop offset="0" stop-color="#50a63e"/><stop offset="0.2673" stop-color="#50a63e"/><stop offset="0.2703" stop-color="#2f3f8a"/><stop offset="0.3964" stop-color="#2f3f8a"/><stop offset="0.4234" stop-color="#2e418d"/><stop offset="0.4625" stop-color="#28519c"/><stop offset="0.4715" stop-color="#235aa3"/><stop offset="0.4865" stop-color="#1773b5"/><stop offset="0.5015" stop-color="#1488c4"/><stop offset="0.5135" stop-color="#1892cb"/><stop offset="0.5225" stop-color="#1e9acf"/><stop offset="0.5345" stop-color="#28a3d2"/><stop offset="0.5435" stop-color="#34aad3"/><stop offset="0.5526" stop-color="#40b1d2"/><stop offset="0.5586" stop-color="#46b3cd"/><stop offset="0.5706" stop-color="#4fb4bd"/><stop offset="0.5916" stop-color="#55b29f"/><stop offset="0.6126" stop-color="#58b082"/><stop offset="0.6456" stop-color="#57ac56"/><stop offset="0.6607" stop-color="#55aa4a"/><stop offset="0.6817" stop-color="#51a740"/><stop offset="0.8649" stop-color="#51a63e"/><stop offset="0.9309" stop-color="#5cad3f"/><stop offset="1" stop-color="#6fb43e"/></linearGradient><linearGradient id="r145" gradientUnits="userSpaceOnUse" x1="138.5" x2="478.5" y1="0" y2="0"><stop offset="0" stop-color="#50a63e"/><stop offset="0.1559" stop-color="#50a63e"/><stop offset="0.2" stop-color="#55a93e"/><stop offset="0.3059" stop-color="#55a93e"/><stop offset="0.3088" stop-color="#2f3f8a"/><stop offset="0.4088" stop-color="#2f3f8a"/><stop offset="0.4353" stop-color="#2e418c"/><stop offset="0.4559" stop-color="#2d4793"/><stop offset="0.4765" stop-color="#27529d"/><stop offset="0.4853" stop-color="#215ca4"/><stop offset="0.4971" stop-color="#1771b3"/><stop offset="0.5118" stop-color="#1486c3"/><stop offset="0.5324" stop-color="#1d98ce"/><stop offset="0.5441" stop-color="#27a2d2"/><stop offset="0.5559" stop-color="#36acd3"/><stop offset="0.5647" stop-color="#42b2d1"/><stop offset="0.5706" stop-color="#48b4cb"/><stop offset="0.5824" stop-color="#4fb4ba"/><stop offset="0.6059" stop-color="#55b299"/><stop offset="0.6529" stop-color="#58ac58"/><stop offset="0.6676" stop-color="#55aa4b"/><stop offset="0.6882" stop-color="#51a741"/><stop offset="0.7059" stop-color="#50a63e"/><stop offset="0.8706" stop-color="#51a63e"/><stop offset="0.9353" stop-color="#5cac3f"/><stop offset="1" stop-color="#6db33e"/></linearGradient><linearGradient id="r146" gradientUnits="userSpaceOnUse" x1="138.5" x2="478.5" y1="0" y2="0"><stop offset="0" stop-color="#50a63e"/><stop offset="0.1618" stop-color="#50a63e"/><stop offset="0.2294" stop-color="#5bac3f"/><stop offset="0.3206" stop-color="#5bac3f"/><stop offset="0.3235" stop-color="#2f3e89"/><stop offset="0.4059" stop-color="#2f3e89"/><stop offset="0.4324" stop-color="#2f408b"/><stop offset="0.4559" stop-color="#2c4894"/><stop offset="0.4735" stop-color="#28519c"/><stop offset="0.4824" stop-color="#235aa3"/><stop offset="0.4971" stop-color="#1773b5"/><stop offset="0.5118" stop-color="#1488c4"/><stop offset="0.5235" stop-color="#1892cb"/><stop offset="0.5324" stop-color="#1e9acf"/><stop offset="0.5441" stop-color="#29a3d2"/><stop offset="0.5529" stop-color="#34abd3"/><stop offset="0.5618" stop-color="#40b1d2"/><stop offset="0.5676" stop-color="#47b3cd"/><stop offset="0.5794" stop-color="#4fb4bd"/><stop offset="0.6" stop-color="#55b29f"/><stop offset="0.6206" stop-color="#58b082"/><stop offset="0.6529" stop-color="#58ac56"/><stop offset="0.6676" stop-color="#55aa4b"/><stop offset="0.6882" stop-color="#51a740"/><stop offset="0.7059" stop-color="#50a63e"/><stop offset="0.8706" stop-color="#51a63e"/><stop offset="0.9353" stop-color="#5cac3f"/><stop offset="1" stop-color="#6db33e"/></linearGradient><linearGradient id="r147" gradientUnits="userSpaceOnUse" x1="138.5" x2="477.5" y1="0" y2="0"><stop offset="0" stop-color="#50a63e"/><stop offset="0.1652" stop-color="#50a63e"/><stop offset="0.236" stop-color="#5bac3f"/><stop offset="0.2566" stop-color="#61ae3f"/><stop offset="0.3333" stop-color="#61af3f"/><stop offset="0.3363" stop-color="#2f3e89"/><stop offset="0.4041" stop-color="#2f3e89"/><stop offset="0.4307" stop-color="#2f408b"/><stop offset="0.472" stop-color="#28509b"/><stop offset="0.4808" stop-color="#2459a2"/><stop offset="0.4956" stop-color="#1771b3"/><stop offset="0.5074" stop-color="#1483c1"/><stop offset="0.5192" stop-color="#168fc9"/><stop offset="0.531" stop-color="#1d99ce"/><stop offset="0.5428" stop-color="#27a2d2"/><stop offset="0.5546" stop-color="#37acd3"/><stop offset="0.5634" stop-color="#42b2d1"/><stop offset="0.5752" stop-color="#4db4c3"/><stop offset="0.6047" stop-color="#55b298"/><stop offset="0.6519" stop-color="#58ac58"/><stop offset="0.6637" stop-color="#56ab4e"/><stop offset="0.6873" stop-color="#51a741"/><stop offset="0.705" stop-color="#50a63e"/><stop offset="0.8732" stop-color="#51a63e"/><stop offset="0.9381" stop-color="#5cac3f"/><stop offset="1" stop-color="#6cb23e"/></linearGradient><linearGradient id="r148" gradientUnits="userSpaceOnUse" x1="138.5" x2="476.5" y1="0" y2="0"><stop offset="0" stop-color="#50a63e"/><stop offset="0.1686" stop-color="#50a63e"/><stop offset="0.2367" stop-color="#5bac3f"/><stop offset="0.2781" stop-color="#67b13e"/><stop offset="0.3432" stop-color="#67b13e"/><stop offset="0.3462" stop-color="#2f3e89"/><stop offset="0.4024" stop-color="#2f3e89"/><stop offset="0.429" stop-color="#2f3f8b"/><stop offset="0.4527" stop-color="#2d4793"/><stop offset="0.4734" stop-color="#28519c"/><stop offset="0.4822" stop-color="#225ba3"/><stop offset="0.497" stop-color="#1674b5"/><stop offset="0.5118" stop-color="#1488c5"/><stop offset="0.5237" stop-color="#1893cb"/><stop offset="0.5325" stop-color="#1e9acf"/><stop offset="0.5444" stop-color="#29a4d2"/><stop offset="0.5533" stop-color="#35abd3"/><stop offset="0.5621" stop-color="#41b1d1"/><stop offset="0.568" stop-color="#47b3cc"/><stop offset="0.5799" stop-color="#4fb4bc"/><stop offset="0.6006" stop-color="#55b29e"/><stop offset="0.6213" stop-color="#58b082"/><stop offset="0.6538" stop-color="#58ac56"/><stop offset="0.6686" stop-color="#55aa4b"/><stop offset="0.6893" stop-color="#51a740"/><stop offset="0.7071" stop-color="#50a63e"/><stop offset="0.8757" stop-color="#51a63e"/><stop offset="0.9408" stop-color="#5cac3f"/><stop offset="1" stop-color="#6ab23e"/></linearGradient><linearGradient id="r149" gradientUnits="userSpaceOnUse" x1="138.5" x2="475.5" y1="0" y2="0"><stop offset="0" stop-color="#50a63e"/><stop offset="0.1691" stop-color="#50a63e"/><stop offset="0.2344" stop-color="#5bac3f"/><stop offset="0.2997" stop-color="#6db33e"/><stop offset="0.3531" stop-color="#6eb33e"/><stop offset="0.3561" stop-color="#2f3e88"/><stop offset="0.4006" stop-color="#2f3e88"/><stop offset="0.4273" stop-color="#2f3f8a"/><stop offset="0.454" stop-color="#2d4893"/><stop offset="0.4718" stop-color="#28509c"/><stop offset="0.4807" stop-color="#2359a2"/><stop offset="0.4955" stop-color="#1772b4"/><stop offset="0.5104" stop-color="#1487c4"/><stop offset="0.5223" stop-color="#1892cb"/><stop offset="0.5312" stop-color="#1d99cf"/><stop offset="0.543" stop-color="#28a3d2"/><stop offset="0.5519" stop-color="#33aad3"/><stop offset="0.5608" stop-color="#3fb1d2"/><stop offset="0.5668" stop-color="#46b3ce"/><stop offset="0.5786" stop-color="#4fb4be"/><stop offset="0.5935" stop-color="#53b3a8"/><stop offset="0.6202" stop-color="#58b083"/><stop offset="0.6528" stop-color="#58ac58"/><stop offset="0.6647" stop-color="#56ab4e"/><stop offset="0.6884" stop-color="#51a741"/><stop offset="0.7092" stop-color="#50a63e"/><stop offset="0.8783" stop-color="#51a63e"/><stop offset="0.9436" stop-color="#5cac3f"/><stop offset="1" stop-color="#69b13e"/></linearGradient><linearGradient id="r150" gradientUnits="userSpaceOnUse" x1="138.5" x2="474.5" y1="0" y2="0"><stop offset="0" stop-color="#50a63e"/><stop offset="0.1815" stop-color="#51a63e"/><stop offset="0.2619" stop-color="#61af3f"/><stop offset="0.3065" stop-color="#6eb33e"/><stop offset="0.3185" stop-color="#74b53e"/><stop offset="0.3631" stop-color="#74b63e"/><stop offset="0.3661" stop-color="#2f3d88"/><stop offset="0.3988" stop-color="#2f3d88"/><stop offset="0.4286" stop-color="#2f408b"/><stop offset="0.4524" stop-color="#2d4793"/><stop offset="0.4732" stop-color="#28529d"/><stop offset="0.4821" stop-color="#225ca4"/><stop offset="0.497" stop-color="#1675b7"/><stop offset="0.5119" stop-color="#1589c5"/><stop offset="0.5238" stop-color="#1993cc"/><stop offset="0.5327" stop-color="#1f9bcf"/><stop offset="0.5446" stop-color="#2aa5d2"/><stop offset="0.5536" stop-color="#36acd3"/><stop offset="0.5625" stop-color="#42b2d1"/><stop offset="0.5744" stop-color="#4cb4c3"/><stop offset="0.6042" stop-color="#55b299"/><stop offset="0.6548" stop-color="#58ac56"/><stop offset="0.6696" stop-color="#55aa4b"/><stop offset="0.6905" stop-color="#51a740"/><stop offset="0.7083" stop-color="#50a63e"/><stop offset="0.878" stop-color="#50a63e"/><stop offset="1" stop-color="#67b13e"/></linearGradient><linearGradient id="r151" gradientUnits="userSpaceOnUse" x1="138.5" x2="474.5" y1="0" y2="0"><stop offset="0" stop-color="#50a63e"/><stop offset="0.1935" stop-color="#51a63e"/><stop offset="0.2827" stop-color="#67b13e"/><stop offset="0.3244" stop-color="#74b63e"/><stop offset="0.3363" stop-color="#7cb93d"/><stop offset="0.369" stop-color="#7db93d"/><stop offset="0.372" stop-color="#303d88"/><stop offset="0.3958" stop-color="#303d88"/><stop offset="0.4256" stop-color="#2f3f8a"/><stop offset="0.4494" stop-color="#2d4793"/><stop offset="0.4702" stop-color="#28519c"/><stop offset="0.4792" stop-color="#225ba3"/><stop offset="0.494" stop-color="#1674b5"/><stop offset="0.5089" stop-color="#1488c5"/><stop offset="0.5208" stop-color="#1893cb"/><stop offset="0.5298" stop-color="#1e9acf"/><stop offset="0.5417" stop-color="#29a4d2"/><stop offset="0.5506" stop-color="#35abd3"/><stop offset="0.5595" stop-color="#41b1d1"/><stop offset="0.5655" stop-color="#47b3cd"/><stop offset="0.5774" stop-color="#4fb4bc"/><stop offset="0.5982" stop-color="#55b29f"/><stop offset="0.619" stop-color="#58b082"/><stop offset="0.6518" stop-color="#58ac57"/><stop offset="0.6667" stop-color="#55aa4c"/><stop offset="0.6875" stop-color="#51a741"/><stop offset="0.7083" stop-color="#50a63e"/><stop offset="0.878" stop-color="#50a63e"/><stop offset="0.9435" stop-color="#5bac3f"/><stop offset="1" stop-color="#67b13e"/></linearGradient><linearGradient id="r152" gradientUnits="userSpaceOnUse" x1="138.5" x2="473.5" y1="0" y2="0"><stop offset="0" stop-color="#50a63e"/><stop offset="0.0179" stop-color="#51a742"/><stop offset="0.0448" stop-color="#50a63e"/><stop offset="0.206" stop-color="#51a63e"/><stop offset="0.3045" stop-color="#6eb33e"/><stop offset="0.3343" stop-color="#7bb83d"/><stop offset="0.3433" stop-color="#7db93d"/><stop offset="0.3493" stop-color="#82bb3c"/><stop offset="0.3761" stop-color="#83bc3c"/><stop offset="0.3791" stop-color="#303d88"/><stop offset="0.394" stop-color="#303d88"/><stop offset="0.4239" stop-color="#2f3f8a"/><stop offset="0.4507" stop-color="#2d4893"/><stop offset="0.4687" stop-color="#28509c"/><stop offset="0.4776" stop-color="#2359a2"/><stop offset="0.4925" stop-color="#1772b4"/><stop offset="0.5075" stop-color="#1487c4"/><stop offset="0.5194" stop-color="#1892cb"/><stop offset="0.5284" stop-color="#1e99cf"/><stop offset="0.5403" stop-color="#28a3d2"/><stop offset="0.5493" stop-color="#34aad3"/><stop offset="0.5582" stop-color="#40b1d2"/><stop offset="0.5642" stop-color="#46b3cd"/><stop offset="0.5761" stop-color="#4fb4bd"/><stop offset="0.594" stop-color="#54b3a4"/><stop offset="0.6179" stop-color="#58b084"/><stop offset="0.6507" stop-color="#58ac59"/><stop offset="0.6657" stop-color="#56aa4c"/><stop offset="0.6896" stop-color="#51a740"/><stop offset="0.7075" stop-color="#50a63e"/><stop offset="0.8806" stop-color="#50a63e"/><stop offset="1" stop-color="#66b03f"/></linearGradient><linearGradient id="r153" gradientUnits="userSpaceOnUse" x1="138.5" x2="472.5" y1="0" y2="0"><stop offset="0" stop-color="#50a63e"/><stop offset="0.024" stop-color="#53a845"/><stop offset="0.0539" stop-color="#50a63e"/><stop offset="0.2186" stop-color="#51a73e"/><stop offset="0.2635" stop-color="#5dad3f"/><stop offset="0.2994" stop-color="#6eb33e"/><stop offset="0.3024" stop-color="#6db33e"/><stop offset="0.3503" stop-color="#82bb3c"/><stop offset="0.3593" stop-color="#83bc3c"/><stop offset="0.3653" stop-color="#89be3c"/><stop offset="0.3832" stop-color="#8abe3b"/><stop offset="0.3862" stop-color="#303d87"/><stop offset="0.3922" stop-color="#303d87"/><stop offset="0.4222" stop-color="#2f3f8a"/><stop offset="0.4491" stop-color="#2d4793"/><stop offset="0.4701" stop-color="#27529d"/><stop offset="0.479" stop-color="#215da5"/><stop offset="0.494" stop-color="#1676b7"/><stop offset="0.509" stop-color="#158ac6"/><stop offset="0.518" stop-color="#1891cb"/><stop offset="0.5299" stop-color="#1f9bcf"/><stop offset="0.5389" stop-color="#28a3d2"/><stop offset="0.5509" stop-color="#37acd3"/><stop offset="0.5599" stop-color="#42b2d1"/><stop offset="0.5719" stop-color="#4db4c3"/><stop offset="0.6048" stop-color="#56b195"/><stop offset="0.6527" stop-color="#58ac57"/><stop offset="0.6677" stop-color="#55aa4b"/><stop offset="0.6886" stop-color="#51a741"/><stop offset="0.7096" stop-color="#50a63e"/><stop offset="0.8832" stop-color="#50a63e"/><stop offset="1" stop-color="#65b03f"/></linearGradient><linearGradient id="r154" gradientUnits="userSpaceOnUse" x1="138.5" x2="471.5" y1="0" y2="0"><stop offset="0" stop-color="#50a63e"/><stop offset="0.027" stop-color="#54a949"/><stop offset="0.048" stop-color="#51a741"/><stop offset="0.0661" stop-color="#50a63e"/><stop offset="0.2312" stop-color="#51a73e"/><stop offset="0.2763" stop-color="#5ead3f"/><stop offset="0.3183" stop-color="#74b63e"/><stop offset="0.3213" stop-color="#73b53e"/><stop offset="0.3333" stop-color="#7bb83d"/><stop offset="0.3874" stop-color="#91c13b"/><stop offset="0.3904" stop-color="#719554"/><stop offset="0.3934" stop-color="#485e74"/><stop offset="0.3964" stop-color="#303d87"/><stop offset="0.4234" stop-color="#2f3f8a"/><stop offset="0.4474" stop-color="#2d4793"/><stop offset="0.4685" stop-color="#28519c"/><stop offset="0.4775" stop-color="#225ca4"/><stop offset="0.4895" stop-color="#1870b3"/><stop offset="0.5015" stop-color="#1483c1"/><stop offset="0.5135" stop-color="#168ec9"/><stop offset="0.5255" stop-color="#1d98ce"/><stop offset="0.5375" stop-color="#27a2d2"/><stop offset="0.5495" stop-color="#36acd3"/><stop offset="0.5586" stop-color="#42b2d1"/><stop offset="0.5706" stop-color="#4cb4c4"/><stop offset="0.6006" stop-color="#55b29a"/><stop offset="0.6517" stop-color="#58ac57"/><stop offset="0.6637" stop-color="#56ab4e"/><stop offset="0.6877" stop-color="#51a741"/><stop offset="0.7087" stop-color="#50a63e"/><stop offset="0.8859" stop-color="#50a63e"/><stop offset="1" stop-color="#64af3f"/></linearGradient><linearGradient id="r155" gradientUnits="userSpaceOnUse" x1="139.5" x2="470.5" y1="0" y2="0"><stop offset="0" stop-color="#51a63f"/><stop offset="0.0272" stop-color="#56aa4d"/><stop offset="0.0544" stop-color="#52a742"/><stop offset="0.0725" stop-color="#50a63e"/><stop offset="0.2417" stop-color="#51a73e"/><stop offset="0.287" stop-color="#5fae3f"/><stop offset="0.3112" stop-color="#6cb33e"/><stop offset="0.3353" stop-color="#7db93d"/><stop offset="0.3384" stop-color="#7bb83d"/><stop offset="0.3474" stop-color="#81bb3c"/><stop offset="0.3807" stop-color="#90c03b"/><stop offset="0.3897" stop-color="#91c13b"/><stop offset="0.3927" stop-color="#303d87"/><stop offset="0.4199" stop-color="#2f3f8a"/><stop offset="0.4471" stop-color="#2c4894"/><stop offset="0.4653" stop-color="#28519c"/><stop offset="0.4743" stop-color="#225ba3"/><stop offset="0.4894" stop-color="#1674b6"/><stop offset="0.5045" stop-color="#1589c5"/><stop offset="0.5166" stop-color="#1893cc"/><stop offset="0.5257" stop-color="#1f9bcf"/><stop offset="0.5378" stop-color="#2aa4d2"/><stop offset="0.5468" stop-color="#36abd3"/><stop offset="0.5559" stop-color="#41b1d1"/><stop offset="0.5619" stop-color="#47b4cc"/><stop offset="0.577" stop-color="#50b4b7"/><stop offset="0.5982" stop-color="#55b29a"/><stop offset="0.6375" stop-color="#58ae67"/><stop offset="0.6526" stop-color="#57ac55"/><stop offset="0.6677" stop-color="#55aa4a"/><stop offset="0.6888" stop-color="#51a740"/><stop offset="0.71" stop-color="#50a63e"/><stop offset="0.8882" stop-color="#50a63e"/><stop offset="1" stop-color="#63af3f"/></linearGradient><linearGradient id="r156" gradientUnits="userSpaceOnUse" x1="140.5" x2="469.5" y1="0" y2="0"><stop offset="0" stop-color="#51a742"/><stop offset="0.0274" stop-color="#57ac53"/><stop offset="0.0608" stop-color="#52a844"/><stop offset="0.0821" stop-color="#50a63f"/><stop offset="0.2492" stop-color="#51a73e"/><stop offset="0.2979" stop-color="#60ae3f"/><stop offset="0.3222" stop-color="#6db33e"/><stop offset="0.3495" stop-color="#83bc3c"/><stop offset="0.3526" stop-color="#81bb3c"/><stop offset="0.3617" stop-color="#88bd3c"/><stop offset="0.386" stop-color="#91c13b"/><stop offset="0.3891" stop-color="#8ebc3e"/><stop offset="0.3921" stop-color="#67865d"/><stop offset="0.3951" stop-color="#303d87"/><stop offset="0.4195" stop-color="#2f408b"/><stop offset="0.4438" stop-color="#2d4893"/><stop offset="0.462" stop-color="#28519c"/><stop offset="0.4711" stop-color="#235aa3"/><stop offset="0.4863" stop-color="#1674b5"/><stop offset="0.4985" stop-color="#1485c2"/><stop offset="0.5198" stop-color="#1c98ce"/><stop offset="0.5319" stop-color="#26a2d2"/><stop offset="0.5441" stop-color="#35abd3"/><stop offset="0.5532" stop-color="#41b1d1"/><stop offset="0.5593" stop-color="#47b3cc"/><stop offset="0.5745" stop-color="#50b4b8"/><stop offset="0.5957" stop-color="#55b29b"/><stop offset="0.617" stop-color="#58af7f"/><stop offset="0.6505" stop-color="#57ac56"/><stop offset="0.6657" stop-color="#55aa4b"/><stop offset="0.6869" stop-color="#51a741"/><stop offset="0.7082" stop-color="#50a63e"/><stop offset="0.8875" stop-color="#50a63e"/><stop offset="1" stop-color="#61af3f"/></linearGradient><linearGradient id="r157" gradientUnits="userSpaceOnUse" x1="141.5" x2="469.5" y1="0" y2="0"><stop offset="0" stop-color="#53a845"/><stop offset="0.0274" stop-color="#58ac5a"/><stop offset="0.0549" stop-color="#55aa4a"/><stop offset="0.0884" stop-color="#50a63f"/><stop offset="0.2591" stop-color="#51a73e"/><stop offset="0.3079" stop-color="#61ae3f"/><stop offset="0.3323" stop-color="#6fb43e"/><stop offset="0.3628" stop-color="#8abe3b"/><stop offset="0.3659" stop-color="#88bd3c"/><stop offset="0.375" stop-color="#8fc03b"/><stop offset="0.3872" stop-color="#93c23a"/><stop offset="0.3902" stop-color="#84ac47"/><stop offset="0.3933" stop-color="#566f6a"/><stop offset="0.3963" stop-color="#303d87"/><stop offset="0.4329" stop-color="#2d4591"/><stop offset="0.4573" stop-color="#28509c"/><stop offset="0.4665" stop-color="#235aa3"/><stop offset="0.4817" stop-color="#1773b5"/><stop offset="0.4939" stop-color="#1485c2"/><stop offset="0.5152" stop-color="#1c98ce"/><stop offset="0.5274" stop-color="#26a1d2"/><stop offset="0.5396" stop-color="#35abd3"/><stop offset="0.5488" stop-color="#41b1d1"/><stop offset="0.5549" stop-color="#47b3cc"/><stop offset="0.5671" stop-color="#4fb4bc"/><stop offset="0.5884" stop-color="#54b29f"/><stop offset="0.6098" stop-color="#58b083"/><stop offset="0.6463" stop-color="#58ac56"/><stop offset="0.6616" stop-color="#55aa4b"/><stop offset="0.6829" stop-color="#51a741"/><stop offset="0.7043" stop-color="#50a63e"/><stop offset="0.8872" stop-color="#50a63e"/><stop offset="1" stop-color="#61af3f"/></linearGradient><linearGradient id="r158" gradientUnits="userSpaceOnUse" x1="142.5" x2="468.5" y1="0" y2="0"><stop offset="0" stop-color="#54a949"/><stop offset="0.0276" stop-color="#58ad63"/><stop offset="0.0583" stop-color="#56ab4e"/><stop offset="0.0982" stop-color="#50a63f"/><stop offset="0.2669" stop-color="#51a73e"/><stop offset="0.3037" stop-color="#5bac3f"/><stop offset="0.3221" stop-color="#63af3f"/><stop offset="0.3436" stop-color="#71b43e"/><stop offset="0.365" stop-color="#88bd3c"/><stop offset="0.3773" stop-color="#91c13b"/><stop offset="0.3804" stop-color="#8fc03b"/><stop offset="0.3896" stop-color="#95c23a"/><stop offset="0.3957" stop-color="#303d87"/><stop offset="0.4325" stop-color="#2d4692"/><stop offset="0.4571" stop-color="#27539d"/><stop offset="0.4632" stop-color="#2359a2"/><stop offset="0.4785" stop-color="#1773b5"/><stop offset="0.4908" stop-color="#1485c2"/><stop offset="0.5123" stop-color="#1c98ce"/><stop offset="0.5245" stop-color="#26a1d2"/><stop offset="0.5368" stop-color="#35abd3"/><stop offset="0.546" stop-color="#41b1d1"/><stop offset="0.5521" stop-color="#47b3cc"/><stop offset="0.5644" stop-color="#4fb4bc"/><stop offset="0.5859" stop-color="#54b29f"/><stop offset="0.6074" stop-color="#58b084"/><stop offset="0.6442" stop-color="#58ac57"/><stop offset="0.6595" stop-color="#55aa4b"/><stop offset="0.681" stop-color="#51a741"/><stop offset="0.7025" stop-color="#50a63e"/><stop offset="0.8896" stop-color="#50a63e"/><stop offset="1" stop-color="#60ae3f"/></linearGradient><linearGradient id="r159" gradientUnits="userSpaceOnUse" x1="143.5" x2="467.5" y1="0" y2="0"><stop offset="0" stop-color="#56aa4d"/><stop offset="0.0123" stop-color="#58ac5a"/><stop offset="0.0247" stop-color="#58ae6c"/><stop offset="0.0278" stop-color="#58ae6d"/><stop offset="0.0648" stop-color="#57ab50"/><stop offset="0.108" stop-color="#51a63f"/><stop offset="0.2778" stop-color="#51a73e"/><stop offset="0.3179" stop-color="#5dad3f"/><stop offset="0.3426" stop-color="#6ab23e"/><stop offset="0.3549" stop-color="#73b53e"/><stop offset="0.3765" stop-color="#8cbf3b"/><stop offset="0.3889" stop-color="#96c33a"/><stop offset="0.392" stop-color="#799f4e"/><stop offset="0.3951" stop-color="#303d87"/><stop offset="0.429" stop-color="#2d4692"/><stop offset="0.4537" stop-color="#27529d"/><stop offset="0.4599" stop-color="#2359a2"/><stop offset="0.4753" stop-color="#1773b5"/><stop offset="0.4877" stop-color="#1485c2"/><stop offset="0.5093" stop-color="#1c98ce"/><stop offset="0.5216" stop-color="#26a2d2"/><stop offset="0.534" stop-color="#35abd3"/><stop offset="0.5432" stop-color="#41b1d1"/><stop offset="0.5494" stop-color="#47b3cc"/><stop offset="0.5648" stop-color="#50b4b8"/><stop offset="0.5864" stop-color="#55b29b"/><stop offset="0.642" stop-color="#58ac57"/><stop offset="0.6574" stop-color="#55aa4c"/><stop offset="0.6821" stop-color="#51a740"/><stop offset="0.7037" stop-color="#50a63e"/><stop offset="0.892" stop-color="#50a63e"/><stop offset="1" stop-color="#5fae3f"/></linearGradient><linearGradient id="r160" gradientUnits="userSpaceOnUse" x1="144.5" x2="466.5" y1="0" y2="0"><stop offset="0" stop-color="#57ac53"/><stop offset="0.0248" stop-color="#58af74"/><stop offset="0.028" stop-color="#58af76"/><stop offset="0.0745" stop-color="#57ab51"/><stop offset="0.118" stop-color="#51a740"/><stop offset="0.2857" stop-color="#51a63e"/><stop offset="0.323" stop-color="#5bac3f"/><stop offset="0.3478" stop-color="#68b13e"/><stop offset="0.3665" stop-color="#76b63d"/><stop offset="0.3882" stop-color="#8fc03b"/><stop offset="0.3913" stop-color="#8db93f"/><stop offset="0.3944" stop-color="#7ca14d"/><stop offset="0.4037" stop-color="#2f3f8a"/><stop offset="0.4286" stop-color="#2d4793"/><stop offset="0.4503" stop-color="#27539d"/><stop offset="0.4565" stop-color="#235aa2"/><stop offset="0.472" stop-color="#1673b5"/><stop offset="0.4845" stop-color="#1485c2"/><stop offset="0.4969" stop-color="#1790ca"/><stop offset="0.5062" stop-color="#1c98ce"/><stop offset="0.5186" stop-color="#27a2d2"/><stop offset="0.5311" stop-color="#36abd3"/><stop offset="0.5404" stop-color="#41b1d1"/><stop offset="0.5528" stop-color="#4cb4c4"/><stop offset="0.587" stop-color="#56b197"/><stop offset="0.6398" stop-color="#58ac57"/><stop offset="0.6553" stop-color="#55aa4c"/><stop offset="0.6801" stop-color="#51a740"/><stop offset="0.7019" stop-color="#50a63e"/><stop offset="0.8913" stop-color="#50a63e"/><stop offset="1" stop-color="#5ead3f"/></linearGradient><linearGradient id="r161" gradientUnits="userSpaceOnUse" x1="145.5" x2="465.5" y1="0" y2="0"><stop offset="0" stop-color="#58ac5a"/><stop offset="0.025" stop-color="#58af7e"/><stop offset="0.0281" stop-color="#58af7f"/><stop offset="0.0844" stop-color="#57ab53"/><stop offset="0.1281" stop-color="#51a740"/><stop offset="0.2969" stop-color="#51a63e"/><stop offset="0.3344" stop-color="#5cac3f"/><stop offset="0.3625" stop-color="#6bb23e"/><stop offset="0.3781" stop-color="#79b73d"/><stop offset="0.4031" stop-color="#98c33a"/><stop offset="0.4062" stop-color="#80a34e"/><stop offset="0.4094" stop-color="#6d8c5e"/><stop offset="0.4156" stop-color="#354c8a"/><stop offset="0.4188" stop-color="#2d4591"/><stop offset="0.4406" stop-color="#294f9a"/><stop offset="0.45" stop-color="#2556a0"/><stop offset="0.4688" stop-color="#1674b5"/><stop offset="0.4813" stop-color="#1486c3"/><stop offset="0.4938" stop-color="#1791ca"/><stop offset="0.5031" stop-color="#1d98ce"/><stop offset="0.5156" stop-color="#27a2d2"/><stop offset="0.5281" stop-color="#37acd3"/><stop offset="0.5375" stop-color="#42b2d1"/><stop offset="0.55" stop-color="#4cb4c3"/><stop offset="0.5844" stop-color="#56b196"/><stop offset="0.6375" stop-color="#58ac56"/><stop offset="0.6531" stop-color="#55aa4b"/><stop offset="0.6781" stop-color="#51a740"/><stop offset="0.7" stop-color="#50a63e"/><stop offset="0.8938" stop-color="#50a63e"/><stop offset="1" stop-color="#5ead3f"/></linearGradient><linearGradient id="r162" gradientUnits="userSpaceOnUse" x1="146.5" x2="464.5" y1="0" y2="0"><stop offset="0" stop-color="#58ad62"/><stop offset="0.0189" stop-color="#58af7e"/><stop offset="0.0252" stop-color="#58b081"/><stop offset="0.0283" stop-color="#57b088"/><stop offset="0.0314" stop-color="#57b088"/><stop offset="0.0943" stop-color="#57ac54"/><stop offset="0.1384" stop-color="#51a741"/><stop offset="0.1604" stop-color="#50a63e"/><stop offset="0.3082" stop-color="#51a73e"/><stop offset="0.3459" stop-color="#5cac3f"/><stop offset="0.3742" stop-color="#6db33e"/><stop offset="0.3899" stop-color="#7cb93d"/><stop offset="0.4151" stop-color="#9dc539"/><stop offset="0.4182" stop-color="#8aae49"/><stop offset="0.4245" stop-color="#527077"/><stop offset="0.4277" stop-color="#335290"/><stop offset="0.4308" stop-color="#2b4c97"/><stop offset="0.4465" stop-color="#2556a0"/><stop offset="0.4654" stop-color="#1675b6"/><stop offset="0.478" stop-color="#1486c3"/><stop offset="0.4906" stop-color="#1891cb"/><stop offset="0.5" stop-color="#1d99ce"/><stop offset="0.5126" stop-color="#28a3d2"/><stop offset="0.5252" stop-color="#38add3"/><stop offset="0.5346" stop-color="#43b2d0"/><stop offset="0.5472" stop-color="#4db4c2"/><stop offset="0.5818" stop-color="#56b195"/><stop offset="0.6352" stop-color="#57ac56"/><stop offset="0.6509" stop-color="#55aa4b"/><stop offset="0.673" stop-color="#51a741"/><stop offset="0.695" stop-color="#50a63e"/><stop offset="0.8931" stop-color="#50a63e"/><stop offset="1" stop-color="#5dad3f"/></linearGradient><linearGradient id="r163" gradientUnits="userSpaceOnUse" x1="147.5" x2="463.5" y1="0" y2="0"><stop offset="0" stop-color="#58ae6c"/><stop offset="0.0127" stop-color="#58af7e"/><stop offset="0.019" stop-color="#58b081"/><stop offset="0.0285" stop-color="#56b192"/><stop offset="0.0316" stop-color="#56b192"/><stop offset="0.1044" stop-color="#57ac56"/><stop offset="0.1487" stop-color="#51a741"/><stop offset="0.1741" stop-color="#50a63e"/><stop offset="0.3196" stop-color="#51a73e"/><stop offset="0.3576" stop-color="#5dad3f"/><stop offset="0.3829" stop-color="#6cb33e"/><stop offset="0.4019" stop-color="#7fba3d"/><stop offset="0.4272" stop-color="#a2c738"/><stop offset="0.4304" stop-color="#8eb14a"/><stop offset="0.4335" stop-color="#698c68"/><stop offset="0.4399" stop-color="#26549e"/><stop offset="0.4462" stop-color="#225ca4"/><stop offset="0.462" stop-color="#1676b7"/><stop offset="0.4778" stop-color="#158ac6"/><stop offset="0.4873" stop-color="#1892cb"/><stop offset="0.5" stop-color="#219cd0"/><stop offset="0.5222" stop-color="#39add3"/><stop offset="0.5316" stop-color="#44b2cf"/><stop offset="0.5443" stop-color="#4db4c0"/><stop offset="0.5791" stop-color="#56b194"/><stop offset="0.6297" stop-color="#58ac58"/><stop offset="0.6456" stop-color="#56aa4d"/><stop offset="0.6709" stop-color="#51a741"/><stop offset="0.693" stop-color="#50a63e"/><stop offset="0.8956" stop-color="#50a63e"/><stop offset="1" stop-color="#5cac3f"/></linearGradient><linearGradient id="r164" gradientUnits="userSpaceOnUse" x1="148.5" x2="462.5" y1="0" y2="0"><stop offset="0" stop-color="#58af74"/><stop offset="0.0064" stop-color="#58af7e"/><stop offset="0.0127" stop-color="#58b082"/><stop offset="0.0287" stop-color="#55b29a"/><stop offset="0.0318" stop-color="#55b29b"/><stop offset="0.1178" stop-color="#57ac56"/><stop offset="0.1592" stop-color="#52a742"/><stop offset="0.1847" stop-color="#50a63e"/><stop offset="0.3312" stop-color="#51a73e"/><stop offset="0.3662" stop-color="#5cad3f"/><stop offset="0.3949" stop-color="#6eb33e"/><stop offset="0.414" stop-color="#83bb3c"/><stop offset="0.4395" stop-color="#a7c937"/><stop offset="0.4427" stop-color="#88ae52"/><stop offset="0.4459" stop-color="#5d8f76"/><stop offset="0.449" stop-color="#377a96"/><stop offset="0.4522" stop-color="#196db0"/><stop offset="0.4682" stop-color="#1485c2"/><stop offset="0.4841" stop-color="#1993cc"/><stop offset="0.5" stop-color="#24a0d1"/><stop offset="0.5159" stop-color="#37acd3"/><stop offset="0.5255" stop-color="#42b2d0"/><stop offset="0.5382" stop-color="#4db4c3"/><stop offset="0.5732" stop-color="#56b196"/><stop offset="0.6274" stop-color="#58ac57"/><stop offset="0.6433" stop-color="#55aa4c"/><stop offset="0.6688" stop-color="#51a741"/><stop offset="0.6911" stop-color="#50a63e"/><stop offset="0.8981" stop-color="#50a63e"/><stop offset="1" stop-color="#5cac3f"/></linearGradient><linearGradient id="r165" gradientUnits="userSpaceOnUse" x1="149.5" x2="461.5" y1="0" y2="0"><stop offset="0" stop-color="#58af7e"/><stop offset="0.0064" stop-color="#58b081"/><stop offset="0.016" stop-color="#56b192"/><stop offset="0.0288" stop-color="#54b3a3"/><stop offset="0.0321" stop-color="#54b3a4"/><stop offset="0.0641" stop-color="#57b18e"/><stop offset="0.1314" stop-color="#57ac56"/><stop offset="0.1731" stop-color="#52a742"/><stop offset="0.1987" stop-color="#50a63e"/><stop offset="0.3429" stop-color="#51a73e"/><stop offset="0.3782" stop-color="#5dad3f"/><stop offset="0.4038" stop-color="#6db33e"/><stop offset="0.4231" stop-color="#83bb3c"/><stop offset="0.4487" stop-color="#a8c937"/><stop offset="0.4519" stop-color="#a3c53e"/><stop offset="0.4551" stop-color="#76ad67"/><stop offset="0.4583" stop-color="#509c8a"/><stop offset="0.4615" stop-color="#1e88b8"/><stop offset="0.4647" stop-color="#1487c3"/><stop offset="0.4776" stop-color="#1892cb"/><stop offset="0.4872" stop-color="#1e9acf"/><stop offset="0.5" stop-color="#29a4d2"/><stop offset="0.5128" stop-color="#39add3"/><stop offset="0.5224" stop-color="#44b2cf"/><stop offset="0.5353" stop-color="#4db4c0"/><stop offset="0.5705" stop-color="#56b194"/><stop offset="0.609" stop-color="#58ad66"/><stop offset="0.625" stop-color="#57ac56"/><stop offset="0.641" stop-color="#55aa4b"/><stop offset="0.6667" stop-color="#51a741"/><stop offset="0.6891" stop-color="#50a63e"/><stop offset="0.8974" stop-color="#50a63e"/><stop offset="1" stop-color="#5bac3f"/></linearGradient><linearGradient id="r166" gradientUnits="userSpaceOnUse" x1="151.5" x2="460.5" y1="0" y2="0"><stop offset="0" stop-color="#57b088"/><stop offset="0.0194" stop-color="#54b3a3"/><stop offset="0.0259" stop-color="#53b3a6"/><stop offset="0.0291" stop-color="#52b3ad"/><stop offset="0.0324" stop-color="#52b4ae"/><stop offset="0.0874" stop-color="#58b084"/><stop offset="0.1424" stop-color="#57ac56"/><stop offset="0.1812" stop-color="#52a843"/><stop offset="0.2071" stop-color="#50a63e"/><stop offset="0.3528" stop-color="#52a73e"/><stop offset="0.3883" stop-color="#5ead3f"/><stop offset="0.4142" stop-color="#70b43e"/><stop offset="0.4369" stop-color="#8bbf3b"/><stop offset="0.4595" stop-color="#aecb36"/><stop offset="0.4628" stop-color="#95c050"/><stop offset="0.466" stop-color="#70b275"/><stop offset="0.4693" stop-color="#3fa0a4"/><stop offset="0.4725" stop-color="#1993cc"/><stop offset="0.4887" stop-color="#25a0d1"/><stop offset="0.5049" stop-color="#38acd3"/><stop offset="0.5146" stop-color="#43b2d0"/><stop offset="0.5275" stop-color="#4db4c2"/><stop offset="0.5631" stop-color="#56b195"/><stop offset="0.6181" stop-color="#58ac57"/><stop offset="0.6343" stop-color="#56aa4c"/><stop offset="0.6602" stop-color="#51a741"/><stop offset="0.6861" stop-color="#50a63e"/><stop offset="0.8997" stop-color="#50a63e"/><stop offset="1" stop-color="#5aac3f"/></linearGradient><linearGradient id="r167" gradientUnits="userSpaceOnUse" x1="152.5" x2="459.5" y1="0" y2="0"><stop offset="0" stop-color="#56b192"/><stop offset="0.013" stop-color="#54b3a3"/><stop offset="0.0195" stop-color="#53b3a7"/><stop offset="0.0293" stop-color="#51b4b6"/><stop offset="0.0326" stop-color="#50b4b8"/><stop offset="0.0977" stop-color="#57b088"/><stop offset="0.1564" stop-color="#57ac57"/><stop offset="0.1954" stop-color="#52a843"/><stop offset="0.2215" stop-color="#50a63e"/><stop offset="0.3616" stop-color="#51a73e"/><stop offset="0.3974" stop-color="#5dad3f"/><stop offset="0.4235" stop-color="#6fb43e"/><stop offset="0.4463" stop-color="#8bbf3b"/><stop offset="0.4691" stop-color="#afcc36"/><stop offset="0.4723" stop-color="#abca3e"/><stop offset="0.4756" stop-color="#7ebb6e"/><stop offset="0.4788" stop-color="#5ab095"/><stop offset="0.4821" stop-color="#2ea3c7"/><stop offset="0.4853" stop-color="#27a2d2"/><stop offset="0.4984" stop-color="#37acd3"/><stop offset="0.5081" stop-color="#42b2d0"/><stop offset="0.5212" stop-color="#4db4c3"/><stop offset="0.5537" stop-color="#55b29a"/><stop offset="0.6124" stop-color="#58ac58"/><stop offset="0.6287" stop-color="#56aa4d"/><stop offset="0.6547" stop-color="#51a742"/><stop offset="0.6808" stop-color="#50a63e"/><stop offset="0.899" stop-color="#50a63e"/><stop offset="1" stop-color="#5aab3f"/></linearGradient><linearGradient id="r168" gradientUnits="userSpaceOnUse" x1="153.5" x2="458.5" y1="0" y2="0"><stop offset="0" stop-color="#55b29a"/><stop offset="0.0066" stop-color="#54b3a3"/><stop offset="0.0131" stop-color="#53b3a7"/><stop offset="0.0295" stop-color="#4eb4c0"/><stop offset="0.0361" stop-color="#4db4c1"/><stop offset="0.1082" stop-color="#57b08c"/><stop offset="0.1705" stop-color="#58ac58"/><stop offset="0.2098" stop-color="#52a844"/><stop offset="0.2361" stop-color="#50a63e"/><stop offset="0.3738" stop-color="#51a73e"/><stop offset="0.4066" stop-color="#5cac3f"/><stop offset="0.4328" stop-color="#6eb33e"/><stop offset="0.4557" stop-color="#8bbf3b"/><stop offset="0.482" stop-color="#b6ce34"/><stop offset="0.4852" stop-color="#a0c851"/><stop offset="0.4885" stop-color="#6eba8d"/><stop offset="0.4918" stop-color="#50b3b5"/><stop offset="0.4951" stop-color="#3baed3"/><stop offset="0.5049" stop-color="#45b3ce"/><stop offset="0.5246" stop-color="#51b4b6"/><stop offset="0.5607" stop-color="#57b08a"/><stop offset="0.6033" stop-color="#58ad5b"/><stop offset="0.623" stop-color="#56aa4d"/><stop offset="0.6525" stop-color="#51a741"/><stop offset="0.6787" stop-color="#50a63e"/><stop offset="0.9016" stop-color="#50a63e"/><stop offset="1" stop-color="#59ab3f"/></linearGradient><linearGradient id="r169" gradientUnits="userSpaceOnUse" x1="154.5" x2="457.5" y1="0" y2="0"><stop offset="0" stop-color="#54b3a3"/><stop offset="0.0066" stop-color="#53b3a7"/><stop offset="0.0099" stop-color="#52b3ad"/><stop offset="0.0231" stop-color="#4eb4c0"/><stop offset="0.0297" stop-color="#4cb4c3"/><stop offset="0.033" stop-color="#49b4ca"/><stop offset="0.0363" stop-color="#48b4ca"/><stop offset="0.0693" stop-color="#51b4b4"/><stop offset="0.132" stop-color="#58b086"/><stop offset="0.1881" stop-color="#57ac57"/><stop offset="0.2244" stop-color="#53a844"/><stop offset="0.2541" stop-color="#50a63e"/><stop offset="0.3861" stop-color="#51a73e"/><stop offset="0.4191" stop-color="#5dad3f"/><stop offset="0.4422" stop-color="#6db33e"/><stop offset="0.4653" stop-color="#8bbf3b"/><stop offset="0.4917" stop-color="#b8cf34"/><stop offset="0.495" stop-color="#adcd47"/><stop offset="0.5017" stop-color="#67bba5"/><stop offset="0.505" stop-color="#4bb4c6"/><stop offset="0.5182" stop-color="#51b4b5"/><stop offset="0.5479" stop-color="#56b191"/><stop offset="0.5974" stop-color="#58ad5b"/><stop offset="0.6172" stop-color="#56aa4d"/><stop offset="0.6469" stop-color="#51a741"/><stop offset="0.6733" stop-color="#50a63e"/><stop offset="0.901" stop-color="#50a63e"/><stop offset="1" stop-color="#59ab3f"/></linearGradient><linearGradient id="r170" gradientUnits="userSpaceOnUse" x1="156.5" x2="456.5" y1="0" y2="0"><stop offset="0" stop-color="#52b3ad"/><stop offset="0.0133" stop-color="#4eb4c0"/><stop offset="0.02" stop-color="#4cb4c3"/><stop offset="0.0233" stop-color="#49b4ca"/><stop offset="0.03" stop-color="#43b2d0"/><stop offset="0.0367" stop-color="#42b2d0"/><stop offset="0.0533" stop-color="#49b4c9"/><stop offset="0.0733" stop-color="#4fb4bb"/><stop offset="0.1367" stop-color="#57b18e"/><stop offset="0.2033" stop-color="#57ac57"/><stop offset="0.2367" stop-color="#53a845"/><stop offset="0.2667" stop-color="#50a63e"/><stop offset="0.3967" stop-color="#51a73e"/><stop offset="0.43" stop-color="#5ead3f"/><stop offset="0.4533" stop-color="#70b43e"/><stop offset="0.4733" stop-color="#8bbf3b"/><stop offset="0.5" stop-color="#bacf34"/><stop offset="0.5033" stop-color="#b8d03b"/><stop offset="0.5067" stop-color="#98c765"/><stop offset="0.5133" stop-color="#52b4af"/><stop offset="0.5467" stop-color="#57b088"/><stop offset="0.59" stop-color="#58ac5a"/><stop offset="0.61" stop-color="#56aa4d"/><stop offset="0.6433" stop-color="#51a740"/><stop offset="0.67" stop-color="#50a63e"/><stop offset="0.9033" stop-color="#50a63e"/><stop offset="1" stop-color="#59ab3f"/></linearGradient><linearGradient id="r171" gradientUnits="userSpaceOnUse" x1="157.5" x2="455.5" y1="0" y2="0"><stop offset="0" stop-color="#51b4b6"/><stop offset="0.0067" stop-color="#4eb4c0"/><stop offset="0.0134" stop-color="#4cb4c3"/><stop offset="0.0168" stop-color="#49b4ca"/><stop offset="0.0235" stop-color="#43b2d0"/><stop offset="0.0302" stop-color="#40b1d1"/><stop offset="0.0336" stop-color="#3aaed3"/><stop offset="0.0369" stop-color="#39add3"/><stop offset="0.0537" stop-color="#42b2d0"/><stop offset="0.0705" stop-color="#49b4c9"/><stop offset="0.0906" stop-color="#4fb4bc"/><stop offset="0.1544" stop-color="#57b18e"/><stop offset="0.2215" stop-color="#57ac57"/><stop offset="0.255" stop-color="#53a845"/><stop offset="0.2852" stop-color="#50a63e"/><stop offset="0.4094" stop-color="#51a73e"/><stop offset="0.4396" stop-color="#5dad3f"/><stop offset="0.4631" stop-color="#6fb43e"/><stop offset="0.4832" stop-color="#8bbf3b"/><stop offset="0.5101" stop-color="#bbd033"/><stop offset="0.5134" stop-color="#bad039"/><stop offset="0.5168" stop-color="#9bc75c"/><stop offset="0.5201" stop-color="#80bf75"/><stop offset="0.5235" stop-color="#5db492"/><stop offset="0.5268" stop-color="#56b195"/><stop offset="0.5671" stop-color="#58ae68"/><stop offset="0.5872" stop-color="#57ac56"/><stop offset="0.6074" stop-color="#55aa4a"/><stop offset="0.6376" stop-color="#51a740"/><stop offset="0.9027" stop-color="#50a63e"/><stop offset="1" stop-color="#58aa3f"/></linearGradient><linearGradient id="r172" gradientUnits="userSpaceOnUse" x1="158.5" x2="454.5" y1="0" y2="0"><stop offset="0" stop-color="#4eb4c0"/><stop offset="0.0034" stop-color="#4eb4c0"/><stop offset="0.0101" stop-color="#49b4ca"/><stop offset="0.0169" stop-color="#43b2d0"/><stop offset="0.0236" stop-color="#40b1d1"/><stop offset="0.0338" stop-color="#32a9d3"/><stop offset="0.0372" stop-color="#31a9d3"/><stop offset="0.0743" stop-color="#43b2d0"/><stop offset="0.1115" stop-color="#4fb4bb"/><stop offset="0.1757" stop-color="#57b18e"/><stop offset="0.2432" stop-color="#57ac56"/><stop offset="0.277" stop-color="#53a844"/><stop offset="0.3041" stop-color="#50a63e"/><stop offset="0.4223" stop-color="#51a73e"/><stop offset="0.4527" stop-color="#5ead3f"/><stop offset="0.4764" stop-color="#72b53e"/><stop offset="0.4966" stop-color="#91c13b"/><stop offset="0.5236" stop-color="#c4d331"/><stop offset="0.527" stop-color="#a5c94d"/><stop offset="0.5338" stop-color="#5fb27d"/><stop offset="0.5372" stop-color="#58af7e"/><stop offset="0.5642" stop-color="#58ad62"/><stop offset="0.5811" stop-color="#57ac54"/><stop offset="0.6081" stop-color="#53a947"/><stop offset="0.6351" stop-color="#50a63f"/><stop offset="0.902" stop-color="#50a63e"/><stop offset="1" stop-color="#58aa3f"/></linearGradient><linearGradient id="r173" gradientUnits="userSpaceOnUse" x1="160.5" x2="453.5" y1="0" y2="0"><stop offset="0" stop-color="#49b4ca"/><stop offset="0.0068" stop-color="#43b2d0"/><stop offset="0.0102" stop-color="#43b2d0"/><stop offset="0.0171" stop-color="#3aaed3"/><stop offset="0.0239" stop-color="#32a9d3"/><stop offset="0.0307" stop-color="#2fa8d3"/><stop offset="0.0341" stop-color="#29a4d2"/><stop offset="0.0375" stop-color="#28a3d2"/><stop offset="0.0751" stop-color="#3baed3"/><stop offset="0.099" stop-color="#46b3cd"/><stop offset="0.1365" stop-color="#50b4b6"/><stop offset="0.2014" stop-color="#57b089"/><stop offset="0.2628" stop-color="#57ac56"/><stop offset="0.3038" stop-color="#51a742"/><stop offset="0.3276" stop-color="#50a63e"/><stop offset="0.4334" stop-color="#51a73e"/><stop offset="0.4608" stop-color="#5cac3f"/><stop offset="0.4846" stop-color="#71b43e"/><stop offset="0.5051" stop-color="#92c13a"/><stop offset="0.5324" stop-color="#c7d430"/><stop offset="0.5358" stop-color="#a7c945"/><stop offset="0.5427" stop-color="#60b067"/><stop offset="0.5461" stop-color="#58ae67"/><stop offset="0.5631" stop-color="#58ac58"/><stop offset="0.5768" stop-color="#56ab4f"/><stop offset="0.6075" stop-color="#52a743"/><stop offset="0.628" stop-color="#50a63f"/><stop offset="0.9044" stop-color="#50a63e"/><stop offset="1" stop-color="#57aa3f"/></linearGradient><linearGradient id="r174" gradientUnits="userSpaceOnUse" x1="161.5" x2="452.5" y1="0" y2="0"><stop offset="0" stop-color="#43b2d0"/><stop offset="0.0069" stop-color="#40b1d1"/><stop offset="0.0172" stop-color="#32a9d3"/><stop offset="0.0241" stop-color="#2fa7d3"/><stop offset="0.0275" stop-color="#29a4d2"/><stop offset="0.0412" stop-color="#229ed0"/><stop offset="0.0859" stop-color="#35abd3"/><stop offset="0.1134" stop-color="#43b2d0"/><stop offset="0.1306" stop-color="#49b4c8"/><stop offset="0.1546" stop-color="#50b4ba"/><stop offset="0.2199" stop-color="#57b18d"/><stop offset="0.2852" stop-color="#57ac58"/><stop offset="0.3196" stop-color="#53a845"/><stop offset="0.3471" stop-color="#50a63e"/><stop offset="0.4502" stop-color="#52a73e"/><stop offset="0.4742" stop-color="#5dad3f"/><stop offset="0.4948" stop-color="#70b43e"/><stop offset="0.5155" stop-color="#92c13a"/><stop offset="0.543" stop-color="#cad530"/><stop offset="0.5498" stop-color="#86bd49"/><stop offset="0.5533" stop-color="#57ac55"/><stop offset="0.5911" stop-color="#53a844"/><stop offset="0.622" stop-color="#50a63e"/><stop offset="0.9038" stop-color="#50a63e"/><stop offset="1" stop-color="#57aa3f"/></linearGradient><linearGradient id="r175" gradientUnits="userSpaceOnUse" x1="163.5" x2="451.5" y1="0" y2="0"><stop offset="0" stop-color="#3aaed3"/><stop offset="0.0069" stop-color="#32a9d3"/><stop offset="0.0139" stop-color="#2fa7d3"/><stop offset="0.0174" stop-color="#29a4d2"/><stop offset="0.0243" stop-color="#27a2d2"/><stop offset="0.0347" stop-color="#1d99ce"/><stop offset="0.0417" stop-color="#1c98ce"/><stop offset="0.0764" stop-color="#27a2d2"/><stop offset="0.1042" stop-color="#33aad3"/><stop offset="0.1389" stop-color="#44b2cf"/><stop offset="0.1806" stop-color="#50b4b8"/><stop offset="0.2465" stop-color="#57b08d"/><stop offset="0.3125" stop-color="#57ac57"/><stop offset="0.3438" stop-color="#53a845"/><stop offset="0.3715" stop-color="#50a63e"/><stop offset="0.4618" stop-color="#52a73e"/><stop offset="0.4861" stop-color="#5ead3f"/><stop offset="0.5035" stop-color="#6fb43e"/><stop offset="0.5208" stop-color="#8cbf3b"/><stop offset="0.5486" stop-color="#c5d331"/><stop offset="0.5521" stop-color="#c5d331"/><stop offset="0.559" stop-color="#7db841"/><stop offset="0.5625" stop-color="#54a948"/><stop offset="0.5903" stop-color="#51a740"/><stop offset="0.6146" stop-color="#50a63e"/><stop offset="0.9028" stop-color="#50a63e"/><stop offset="1" stop-color="#57aa3f"/></linearGradient><linearGradient id="r176" gradientUnits="userSpaceOnUse" x1="164.5" x2="449.5" y1="0" y2="0"><stop offset="0" stop-color="#32a9d3"/><stop offset="0.007" stop-color="#2fa7d3"/><stop offset="0.0105" stop-color="#29a4d2"/><stop offset="0.0175" stop-color="#27a2d2"/><stop offset="0.0281" stop-color="#1d99ce"/><stop offset="0.0456" stop-color="#1893cb"/><stop offset="0.1018" stop-color="#27a2d2"/><stop offset="0.1439" stop-color="#39add3"/><stop offset="0.1684" stop-color="#44b2cf"/><stop offset="0.2105" stop-color="#4fb4ba"/><stop offset="0.2807" stop-color="#57b18e"/><stop offset="0.3404" stop-color="#58ad5f"/><stop offset="0.3789" stop-color="#53a845"/><stop offset="0.4035" stop-color="#50a63e"/><stop offset="0.4772" stop-color="#51a73e"/><stop offset="0.5018" stop-color="#5fae3f"/><stop offset="0.5193" stop-color="#72b53e"/><stop offset="0.5368" stop-color="#93c13a"/><stop offset="0.5614" stop-color="#c9d430"/><stop offset="0.5649" stop-color="#c8d430"/><stop offset="0.5684" stop-color="#a4c635"/><stop offset="0.5719" stop-color="#6bb03d"/><stop offset="0.5754" stop-color="#51a740"/><stop offset="0.6105" stop-color="#50a63e"/><stop offset="0.9018" stop-color="#50a63e"/><stop offset="1" stop-color="#56a93e"/></linearGradient><linearGradient id="r177" gradientUnits="userSpaceOnUse" x1="166.5" x2="448.5" y1="0" y2="0"><stop offset="0" stop-color="#29a4d2"/><stop offset="0.0071" stop-color="#27a2d2"/><stop offset="0.0177" stop-color="#1d99ce"/><stop offset="0.0355" stop-color="#1892cb"/><stop offset="0.039" stop-color="#168ec8"/><stop offset="0.0461" stop-color="#168dc8"/><stop offset="0.0816" stop-color="#1a96cd"/><stop offset="0.1206" stop-color="#249fd1"/><stop offset="0.1738" stop-color="#38add3"/><stop offset="0.2057" stop-color="#45b3ce"/><stop offset="0.2624" stop-color="#51b4b4"/><stop offset="0.3617" stop-color="#57b083"/><stop offset="0.3652" stop-color="#57af7d"/><stop offset="0.3688" stop-color="#58ae72"/><stop offset="0.3865" stop-color="#57ad66"/><stop offset="0.3901" stop-color="#57ac59"/><stop offset="0.3936" stop-color="#56ab50"/><stop offset="0.4149" stop-color="#51a741"/><stop offset="0.422" stop-color="#50a63e"/><stop offset="0.4255" stop-color="#51a741"/><stop offset="0.4362" stop-color="#50a63e"/><stop offset="0.4894" stop-color="#51a73e"/><stop offset="0.5106" stop-color="#5dad3f"/><stop offset="0.5284" stop-color="#71b43e"/><stop offset="0.5461" stop-color="#94c23a"/><stop offset="0.5709" stop-color="#ccd62f"/><stop offset="0.5745" stop-color="#c3d22f"/><stop offset="0.5816" stop-color="#61ad3c"/><stop offset="0.5851" stop-color="#50a63e"/><stop offset="0.9043" stop-color="#50a63e"/><stop offset="1" stop-color="#56a93e"/></linearGradient><linearGradient id="r178" gradientUnits="userSpaceOnUse" x1="168.5" x2="447.5" y1="0" y2="0"><stop offset="0" stop-color="#229ed0"/><stop offset="0.0179" stop-color="#1994cc"/><stop offset="0.0466" stop-color="#1486c3"/><stop offset="0.0896" stop-color="#1791ca"/><stop offset="0.1254" stop-color="#1d99ce"/><stop offset="0.1685" stop-color="#27a2d2"/><stop offset="0.2151" stop-color="#36acd3"/><stop offset="0.2509" stop-color="#40b1d0"/><stop offset="0.2796" stop-color="#45b2cb"/><stop offset="0.3011" stop-color="#45b1c9"/><stop offset="0.3154" stop-color="#3faec8"/><stop offset="0.319" stop-color="#47b2c6"/><stop offset="0.3262" stop-color="#45b1c4"/><stop offset="0.3297" stop-color="#4bb4c2"/><stop offset="0.3333" stop-color="#48b2c5"/><stop offset="0.3369" stop-color="#4bb3bf"/><stop offset="0.3405" stop-color="#4fb4bc"/><stop offset="0.3441" stop-color="#4db4c2"/><stop offset="0.3477" stop-color="#48b4cb"/><stop offset="0.3513" stop-color="#53b197"/><stop offset="0.3548" stop-color="#57b084"/><stop offset="0.3584" stop-color="#57b081"/><stop offset="0.3692" stop-color="#58ae6f"/><stop offset="0.3799" stop-color="#57ad68"/><stop offset="0.3943" stop-color="#55aa4d"/><stop offset="0.4158" stop-color="#51a63f"/><stop offset="0.5054" stop-color="#52a73e"/><stop offset="0.5233" stop-color="#5ead3f"/><stop offset="0.5376" stop-color="#70b43e"/><stop offset="0.552" stop-color="#8cbf3b"/><stop offset="0.5806" stop-color="#d0d72e"/><stop offset="0.5842" stop-color="#bdcf30"/><stop offset="0.5878" stop-color="#84ba37"/><stop offset="0.5914" stop-color="#59a93d"/><stop offset="0.595" stop-color="#50a63e"/><stop offset="0.9032" stop-color="#50a63e"/><stop offset="1" stop-color="#55a93e"/></linearGradient><linearGradient id="r179" gradientUnits="userSpaceOnUse" x1="169.5" x2="446.5" y1="0" y2="0"><stop offset="0" stop-color="#1d99ce"/><stop offset="0.0144" stop-color="#1994cc"/><stop offset="0.0217" stop-color="#168ec8"/><stop offset="0.0289" stop-color="#158cc7"/><stop offset="0.0397" stop-color="#1485c2"/><stop offset="0.0433" stop-color="#147fbe"/><stop offset="0.0505" stop-color="#157dbc"/><stop offset="0.1227" stop-color="#178fc9"/><stop offset="0.2202" stop-color="#239fd1"/><stop offset="0.2635" stop-color="#25a0d1"/><stop offset="0.278" stop-color="#229ccf"/><stop offset="0.2852" stop-color="#1f97cc"/><stop offset="0.2888" stop-color="#219ccf"/><stop offset="0.2924" stop-color="#209ace"/><stop offset="0.296" stop-color="#229dd0"/><stop offset="0.2996" stop-color="#1f99ce"/><stop offset="0.3032" stop-color="#219dd0"/><stop offset="0.3069" stop-color="#1c97cd"/><stop offset="0.3105" stop-color="#38a9ca"/><stop offset="0.3141" stop-color="#43b0c7"/><stop offset="0.3394" stop-color="#4db4bf"/><stop offset="0.3502" stop-color="#48b4cb"/><stop offset="0.3538" stop-color="#52b19a"/><stop offset="0.3574" stop-color="#57b080"/><stop offset="0.3682" stop-color="#58ae70"/><stop offset="0.3791" stop-color="#57ad67"/><stop offset="0.3899" stop-color="#56ab53"/><stop offset="0.3971" stop-color="#54a94a"/><stop offset="0.4116" stop-color="#51a741"/><stop offset="0.4188" stop-color="#51a640"/><stop offset="0.5199" stop-color="#51a73e"/><stop offset="0.5271" stop-color="#55a93e"/><stop offset="0.5379" stop-color="#5fae3f"/><stop offset="0.5523" stop-color="#74b63e"/><stop offset="0.574" stop-color="#a7c937"/><stop offset="0.5921" stop-color="#d4d82d"/><stop offset="0.5957" stop-color="#a6c633"/><stop offset="0.6029" stop-color="#50a63e"/><stop offset="0.8989" stop-color="#50a63e"/><stop offset="1" stop-color="#55a93e"/></linearGradient><linearGradient id="r180" gradientUnits="userSpaceOnUse" x1="171.5" x2="445.5" y1="0" y2="0"><stop offset="0" stop-color="#1994cc"/><stop offset="0.0036" stop-color="#1994cc"/><stop offset="0.0219" stop-color="#1488c4"/><stop offset="0.0292" stop-color="#1485c2"/><stop offset="0.0328" stop-color="#147fbe"/><stop offset="0.0401" stop-color="#147ebd"/><stop offset="0.0438" stop-color="#157bbb"/><stop offset="0.0474" stop-color="#1673b5"/><stop offset="0.0547" stop-color="#1771b3"/><stop offset="0.1277" stop-color="#1486c3"/><stop offset="0.208" stop-color="#178fc9"/><stop offset="0.2409" stop-color="#168ac6"/><stop offset="0.2591" stop-color="#177ebd"/><stop offset="0.2628" stop-color="#177ebd"/><stop offset="0.2664" stop-color="#1583c1"/><stop offset="0.2701" stop-color="#177bbb"/><stop offset="0.2737" stop-color="#147fbe"/><stop offset="0.2774" stop-color="#1773b5"/><stop offset="0.281" stop-color="#1e90c7"/><stop offset="0.2847" stop-color="#209ace"/><stop offset="0.2956" stop-color="#219ccf"/><stop offset="0.3066" stop-color="#1c97cd"/><stop offset="0.3102" stop-color="#36a8c9"/><stop offset="0.3139" stop-color="#44b0c6"/><stop offset="0.3358" stop-color="#4cb4c1"/><stop offset="0.3504" stop-color="#48b4cb"/><stop offset="0.354" stop-color="#52b198"/><stop offset="0.3577" stop-color="#57af7b"/><stop offset="0.365" stop-color="#58ae70"/><stop offset="0.3759" stop-color="#57ad66"/><stop offset="0.3905" stop-color="#55aa4e"/><stop offset="0.3978" stop-color="#54a947"/><stop offset="0.4124" stop-color="#51a740"/><stop offset="0.4343" stop-color="#50a63e"/><stop offset="0.5328" stop-color="#51a73e"/><stop offset="0.5438" stop-color="#57aa3f"/><stop offset="0.5547" stop-color="#66b03f"/><stop offset="0.562" stop-color="#73b53e"/><stop offset="0.5803" stop-color="#a0c638"/><stop offset="0.5985" stop-color="#d0d72e"/><stop offset="0.6022" stop-color="#c7d32e"/><stop offset="0.6058" stop-color="#9fc433"/><stop offset="0.6095" stop-color="#62ad3b"/><stop offset="0.6131" stop-color="#50a63e"/><stop offset="0.8978" stop-color="#50a63e"/><stop offset="1" stop-color="#55a93e"/></linearGradient><linearGradient id="r181" gradientUnits="userSpaceOnUse" x1="173.5" x2="443.5" y1="0" y2="0"><stop offset="0" stop-color="#168ec8"/><stop offset="0.0148" stop-color="#1488c4"/><stop offset="0.0222" stop-color="#147fbe"/><stop offset="0.0296" stop-color="#147fbe"/><stop offset="0.037" stop-color="#1673b5"/><stop offset="0.0444" stop-color="#186fb2"/><stop offset="0.0481" stop-color="#1b67ac"/><stop offset="0.0556" stop-color="#1d64aa"/><stop offset="0.1444" stop-color="#1578b9"/><stop offset="0.1741" stop-color="#157aba"/><stop offset="0.2" stop-color="#1678b8"/><stop offset="0.2148" stop-color="#1872b4"/><stop offset="0.2333" stop-color="#2061a7"/><stop offset="0.2444" stop-color="#225ca4"/><stop offset="0.2481" stop-color="#2359a2"/><stop offset="0.2519" stop-color="#294f9a"/><stop offset="0.2556" stop-color="#1c73b5"/><stop offset="0.2593" stop-color="#1680be"/><stop offset="0.2667" stop-color="#157fbe"/><stop offset="0.2704" stop-color="#167aba"/><stop offset="0.2741" stop-color="#1579b9"/><stop offset="0.2778" stop-color="#1773b5"/><stop offset="0.2815" stop-color="#1d8ec6"/><stop offset="0.2852" stop-color="#219ace"/><stop offset="0.3074" stop-color="#1c97cd"/><stop offset="0.3111" stop-color="#37a8c9"/><stop offset="0.3148" stop-color="#45b1c5"/><stop offset="0.3333" stop-color="#4cb4c1"/><stop offset="0.3519" stop-color="#48b4cb"/><stop offset="0.3556" stop-color="#52b195"/><stop offset="0.3593" stop-color="#57af76"/><stop offset="0.3741" stop-color="#57ad66"/><stop offset="0.3889" stop-color="#55aa4f"/><stop offset="0.3963" stop-color="#54a948"/><stop offset="0.4111" stop-color="#51a740"/><stop offset="0.4333" stop-color="#50a63e"/><stop offset="0.5259" stop-color="#50a63e"/><stop offset="0.5444" stop-color="#56a93e"/><stop offset="0.5481" stop-color="#51a63e"/><stop offset="0.563" stop-color="#5dad3f"/><stop offset="0.5741" stop-color="#71b43e"/><stop offset="0.5926" stop-color="#a2c738"/><stop offset="0.6111" stop-color="#d5d82d"/><stop offset="0.6148" stop-color="#c2d12e"/><stop offset="0.6185" stop-color="#86ba36"/><stop offset="0.6222" stop-color="#59a93d"/><stop offset="0.6259" stop-color="#50a63e"/><stop offset="0.8963" stop-color="#50a63e"/><stop offset="1" stop-color="#54a83e"/></linearGradient><linearGradient id="r182" gradientUnits="userSpaceOnUse" x1="175.5" x2="442.5" y1="0" y2="0"><stop offset="0" stop-color="#1488c4"/><stop offset="0.0075" stop-color="#1485c2"/><stop offset="0.0112" stop-color="#147fbe"/><stop offset="0.0187" stop-color="#147fbe"/><stop offset="0.0262" stop-color="#1673b5"/><stop offset="0.0337" stop-color="#186fb2"/><stop offset="0.0375" stop-color="#1b67ac"/><stop offset="0.0449" stop-color="#1c66ab"/><stop offset="0.0487" stop-color="#1e62a8"/><stop offset="0.0524" stop-color="#235aa3"/><stop offset="0.0599" stop-color="#2458a1"/><stop offset="0.1236" stop-color="#1f61a7"/><stop offset="0.1573" stop-color="#1f61a7"/><stop offset="0.1835" stop-color="#225ba3"/><stop offset="0.2097" stop-color="#294e99"/><stop offset="0.2247" stop-color="#2c4a96"/><stop offset="0.2285" stop-color="#225ca4"/><stop offset="0.2322" stop-color="#205fa6"/><stop offset="0.2397" stop-color="#225ca4"/><stop offset="0.2509" stop-color="#294f9a"/><stop offset="0.2547" stop-color="#1c70b3"/><stop offset="0.2584" stop-color="#167fbe"/><stop offset="0.2772" stop-color="#1773b5"/><stop offset="0.2809" stop-color="#1d8ec6"/><stop offset="0.2846" stop-color="#209bcf"/><stop offset="0.3071" stop-color="#1c97cd"/><stop offset="0.3109" stop-color="#38a8c8"/><stop offset="0.3146" stop-color="#47b2c4"/><stop offset="0.3296" stop-color="#4bb4c2"/><stop offset="0.3446" stop-color="#48b4ca"/><stop offset="0.3521" stop-color="#48b4cb"/><stop offset="0.397" stop-color="#48b4cb"/><stop offset="0.4007" stop-color="#50a63e"/><stop offset="0.5206" stop-color="#50a63e"/><stop offset="0.5393" stop-color="#54a83e"/><stop offset="0.5431" stop-color="#51a63e"/><stop offset="0.5618" stop-color="#5bac3f"/><stop offset="0.5655" stop-color="#54a83e"/><stop offset="0.5805" stop-color="#66b03e"/><stop offset="0.5843" stop-color="#6eb33e"/><stop offset="0.603" stop-color="#a4c838"/><stop offset="0.618" stop-color="#d0d72e"/><stop offset="0.6217" stop-color="#d1d62d"/><stop offset="0.6255" stop-color="#aac731"/><stop offset="0.6292" stop-color="#6cb03a"/><stop offset="0.633" stop-color="#50a63e"/><stop offset="0.8951" stop-color="#50a63e"/><stop offset="1" stop-color="#54a83e"/></linearGradient><linearGradient id="r183" gradientUnits="userSpaceOnUse" x1="177.5" x2="441.5" y1="0" y2="0"><stop offset="0" stop-color="#147fbe"/><stop offset="0.0076" stop-color="#147fbe"/><stop offset="0.0114" stop-color="#157bbb"/><stop offset="0.0152" stop-color="#1673b5"/><stop offset="0.0189" stop-color="#1773b5"/><stop offset="0.0227" stop-color="#186fb2"/><stop offset="0.0265" stop-color="#1b67ac"/><stop offset="0.0341" stop-color="#1c66ac"/><stop offset="0.0417" stop-color="#235aa3"/><stop offset="0.0492" stop-color="#2359a2"/><stop offset="0.0568" stop-color="#28519c"/><stop offset="0.1439" stop-color="#29509b"/><stop offset="0.2008" stop-color="#2e4490"/><stop offset="0.2045" stop-color="#2a4c97"/><stop offset="0.2083" stop-color="#2a4d98"/><stop offset="0.2235" stop-color="#2c4a96"/><stop offset="0.2273" stop-color="#2459a1"/><stop offset="0.2311" stop-color="#215ea5"/><stop offset="0.25" stop-color="#294f9a"/><stop offset="0.2538" stop-color="#1c6fb2"/><stop offset="0.2576" stop-color="#167dbc"/><stop offset="0.2765" stop-color="#1773b5"/><stop offset="0.2803" stop-color="#1d8ec6"/><stop offset="0.2841" stop-color="#209bcf"/><stop offset="0.3068" stop-color="#1c97cd"/><stop offset="0.3902" stop-color="#1c97cd"/><stop offset="0.3939" stop-color="#50a63e"/><stop offset="0.5379" stop-color="#51a63e"/><stop offset="0.5568" stop-color="#58aa3e"/><stop offset="0.5606" stop-color="#54a83e"/><stop offset="0.5795" stop-color="#64af3e"/><stop offset="0.5833" stop-color="#5bac3f"/><stop offset="0.5985" stop-color="#75b63d"/><stop offset="0.6136" stop-color="#a7c937"/><stop offset="0.6288" stop-color="#d6d92d"/><stop offset="0.6326" stop-color="#c3d12e"/><stop offset="0.6364" stop-color="#87ba36"/><stop offset="0.6402" stop-color="#50a63e"/><stop offset="0.8902" stop-color="#50a63e"/><stop offset="1" stop-color="#54a83e"/></linearGradient><linearGradient id="r184" gradientUnits="userSpaceOnUse" x1="180.5" x2="439.5" y1="0" y2="0"><stop offset="0" stop-color="#1673b5"/><stop offset="0.0039" stop-color="#1773b5"/><stop offset="0.0077" stop-color="#186fb2"/><stop offset="0.0116" stop-color="#1b67ac"/><stop offset="0.0193" stop-color="#1c67ac"/><stop offset="0.0232" stop-color="#1e62a9"/><stop offset="0.027" stop-color="#235aa3"/><stop offset="0.0347" stop-color="#235aa3"/><stop offset="0.0425" stop-color="#28519c"/><stop offset="0.0541" stop-color="#28509b"/><stop offset="0.0618" stop-color="#2a4c98"/><stop offset="0.139" stop-color="#2d4793"/><stop offset="0.1776" stop-color="#2f3f8a"/><stop offset="0.1815" stop-color="#2d4490"/><stop offset="0.1969" stop-color="#2e4490"/><stop offset="0.2008" stop-color="#2b4a96"/><stop offset="0.2046" stop-color="#2a4c97"/><stop offset="0.2201" stop-color="#2c4a96"/><stop offset="0.2239" stop-color="#2557a0"/><stop offset="0.2278" stop-color="#235ba3"/><stop offset="0.2394" stop-color="#28519c"/><stop offset="0.2471" stop-color="#294f9a"/><stop offset="0.251" stop-color="#1c6db1"/><stop offset="0.2548" stop-color="#167bbb"/><stop offset="0.2741" stop-color="#1773b5"/><stop offset="0.39" stop-color="#1773b5"/><stop offset="0.3938" stop-color="#50a63e"/><stop offset="0.5405" stop-color="#52a73e"/><stop offset="0.5521" stop-color="#56a93e"/><stop offset="0.556" stop-color="#54a83e"/><stop offset="0.5637" stop-color="#56a93e"/><stop offset="0.5753" stop-color="#5fad3f"/><stop offset="0.5792" stop-color="#5bac3f"/><stop offset="0.5946" stop-color="#69b23e"/><stop offset="0.5985" stop-color="#5dad3f"/><stop offset="0.6139" stop-color="#80ba3c"/><stop offset="0.6255" stop-color="#abca36"/><stop offset="0.6371" stop-color="#d1d72e"/><stop offset="0.6409" stop-color="#c0d02f"/><stop offset="0.6448" stop-color="#73b339"/><stop offset="0.6486" stop-color="#50a63e"/><stop offset="0.888" stop-color="#50a63e"/><stop offset="1" stop-color="#54a83e"/></linearGradient><linearGradient id="r185" gradientUnits="userSpaceOnUse" x1="182.5" x2="438.5" y1="0" y2="0"><stop offset="0" stop-color="#1b67ac"/><stop offset="0.0078" stop-color="#1c67ac"/><stop offset="0.0117" stop-color="#1e63a9"/><stop offset="0.0156" stop-color="#235aa3"/><stop offset="0.0234" stop-color="#235aa3"/><stop offset="0.0312" stop-color="#28519c"/><stop offset="0.043" stop-color="#28519c"/><stop offset="0.0508" stop-color="#2a4c98"/><stop offset="0.0703" stop-color="#2b4b96"/><stop offset="0.0781" stop-color="#2d4793"/><stop offset="0.1523" stop-color="#2f3e89"/><stop offset="0.1602" stop-color="#2e428d"/><stop offset="0.1758" stop-color="#2f3f8a"/><stop offset="0.1836" stop-color="#2d4590"/><stop offset="0.1953" stop-color="#2e4490"/><stop offset="0.2031" stop-color="#2b4b97"/><stop offset="0.2188" stop-color="#2c4a96"/><stop offset="0.2227" stop-color="#26559e"/><stop offset="0.2266" stop-color="#2457a0"/><stop offset="0.2383" stop-color="#28509b"/><stop offset="0.2461" stop-color="#294f9a"/><stop offset="0.3867" stop-color="#294f9a"/><stop offset="0.3906" stop-color="#51a63e"/><stop offset="0.5352" stop-color="#51a73e"/><stop offset="0.5586" stop-color="#55a93e"/><stop offset="0.5703" stop-color="#5cac3f"/><stop offset="0.5742" stop-color="#5bac3f"/><stop offset="0.582" stop-color="#5ead3f"/><stop offset="0.5898" stop-color="#63af3f"/><stop offset="0.5938" stop-color="#5dad3f"/><stop offset="0.6016" stop-color="#65b03e"/><stop offset="0.6055" stop-color="#6db33e"/><stop offset="0.6094" stop-color="#72b53e"/><stop offset="0.6133" stop-color="#63af3f"/><stop offset="0.6289" stop-color="#90c03a"/><stop offset="0.6367" stop-color="#afcc36"/><stop offset="0.6445" stop-color="#cbd52f"/><stop offset="0.6484" stop-color="#a1c534"/><stop offset="0.6523" stop-color="#61ac3c"/><stop offset="0.6562" stop-color="#50a63e"/><stop offset="0.8789" stop-color="#50a63e"/><stop offset="1" stop-color="#54a83e"/></linearGradient><linearGradient id="r186" gradientUnits="userSpaceOnUse" x1="185.5" x2="436.5" y1="0" y2="0"><stop offset="0" stop-color="#235aa3"/><stop offset="0.008" stop-color="#235aa3"/><stop offset="0.0159" stop-color="#28519c"/><stop offset="0.0279" stop-color="#28519c"/><stop offset="0.0359" stop-color="#2a4c98"/><stop offset="0.1474" stop-color="#2f3e89"/><stop offset="0.1554" stop-color="#2e418c"/><stop offset="0.1713" stop-color="#2f3f8a"/><stop offset="0.1793" stop-color="#2e4490"/><stop offset="0.1912" stop-color="#2e4490"/><stop offset="0.1992" stop-color="#2b4b96"/><stop offset="0.3785" stop-color="#2c4a96"/><stop offset="0.3825" stop-color="#54a83e"/><stop offset="0.5458" stop-color="#54a83e"/><stop offset="0.5578" stop-color="#56a93e"/><stop offset="0.5857" stop-color="#60ae3f"/><stop offset="0.5896" stop-color="#5dad3f"/><stop offset="0.5976" stop-color="#61ae3f"/><stop offset="0.6056" stop-color="#6ab23e"/><stop offset="0.6096" stop-color="#63af3f"/><stop offset="0.6175" stop-color="#6eb33e"/><stop offset="0.6215" stop-color="#79b83d"/><stop offset="0.6255" stop-color="#7fba3c"/><stop offset="0.6295" stop-color="#6eb33e"/><stop offset="0.6335" stop-color="#7db93d"/><stop offset="0.6414" stop-color="#93c13a"/><stop offset="0.6494" stop-color="#b5ce34"/><stop offset="0.6534" stop-color="#bcd032"/><stop offset="0.6574" stop-color="#8dbe37"/><stop offset="0.6614" stop-color="#59aa3d"/><stop offset="0.6653" stop-color="#51a63e"/><stop offset="0.8685" stop-color="#50a63e"/><stop offset="1" stop-color="#53a83e"/></linearGradient><linearGradient id="r187" gradientUnits="userSpaceOnUse" x1="188.5" x2="435.5" y1="0" y2="0"><stop offset="0" stop-color="#28519c"/><stop offset="0.0121" stop-color="#28519c"/><stop offset="0.0202" stop-color="#2a4c98"/><stop offset="0.0405" stop-color="#2b4b97"/><stop offset="0.0486" stop-color="#2d4793"/><stop offset="0.1417" stop-color="#2f3e89"/><stop offset="0.1498" stop-color="#2f408b"/><stop offset="0.166" stop-color="#2f3f8a"/><stop offset="0.1741" stop-color="#2e4490"/><stop offset="0.3725" stop-color="#2e4490"/><stop offset="0.3765" stop-color="#5bac3f"/><stop offset="0.5628" stop-color="#5bac3f"/><stop offset="0.5911" stop-color="#5fae3f"/><stop offset="0.5992" stop-color="#65b03e"/><stop offset="0.6032" stop-color="#63af3f"/><stop offset="0.6113" stop-color="#69b13e"/><stop offset="0.6194" stop-color="#75b63d"/><stop offset="0.6235" stop-color="#6eb33e"/><stop offset="0.6316" stop-color="#7bb83d"/><stop offset="0.6356" stop-color="#88bd3b"/><stop offset="0.6397" stop-color="#8fc03a"/><stop offset="0.6437" stop-color="#7eb93d"/><stop offset="0.6559" stop-color="#a9ca37"/><stop offset="0.6599" stop-color="#b4cd34"/><stop offset="0.664" stop-color="#7cb83a"/><stop offset="0.668" stop-color="#55a83e"/><stop offset="0.6883" stop-color="#51a73e"/><stop offset="0.7247" stop-color="#50a63e"/><stop offset="1" stop-color="#53a83e"/></linearGradient><linearGradient id="r188" gradientUnits="userSpaceOnUse" x1="192.5" x2="433.5" y1="0" y2="0"><stop offset="0" stop-color="#2a4c98"/><stop offset="0.0207" stop-color="#2b4c97"/><stop offset="0.029" stop-color="#2d4793"/><stop offset="0.1245" stop-color="#2f3e89"/><stop offset="0.3651" stop-color="#2f3f8a"/><stop offset="0.3693" stop-color="#5dad3f"/><stop offset="0.5851" stop-color="#5ead3f"/><stop offset="0.6058" stop-color="#66b03e"/><stop offset="0.6141" stop-color="#6fb43e"/><stop offset="0.6183" stop-color="#6eb33e"/><stop offset="0.6266" stop-color="#75b63d"/><stop offset="0.6349" stop-color="#84bc3c"/><stop offset="0.639" stop-color="#7eb93d"/><stop offset="0.6515" stop-color="#96c23a"/><stop offset="0.6556" stop-color="#86bd3c"/><stop offset="0.6639" stop-color="#a1c738"/><stop offset="0.668" stop-color="#a2c737"/><stop offset="0.6722" stop-color="#7cb83b"/><stop offset="0.6763" stop-color="#59ab3f"/><stop offset="0.6888" stop-color="#55a93e"/><stop offset="0.7178" stop-color="#51a73e"/><stop offset="0.7593" stop-color="#50a63e"/><stop offset="1" stop-color="#53a83e"/></linearGradient><linearGradient id="r189" gradientUnits="userSpaceOnUse" x1="198.5" x2="432.5" y1="0" y2="0"><stop offset="0" stop-color="#2d4793"/><stop offset="0.1068" stop-color="#2f3e89"/><stop offset="0.3504" stop-color="#2f3e89"/><stop offset="0.3547" stop-color="#63af3f"/><stop offset="0.594" stop-color="#65b03f"/><stop offset="0.6154" stop-color="#71b53e"/><stop offset="0.6239" stop-color="#7db93d"/><stop offset="0.6282" stop-color="#7eb93d"/><stop offset="0.6368" stop-color="#85bc3c"/><stop offset="0.641" stop-color="#8bbe3b"/><stop offset="0.6453" stop-color="#86bd3c"/><stop offset="0.6581" stop-color="#99c439"/><stop offset="0.6624" stop-color="#8ebf3b"/><stop offset="0.6667" stop-color="#9ec539"/><stop offset="0.6709" stop-color="#9ac438"/><stop offset="0.6795" stop-color="#64af3e"/><stop offset="0.6838" stop-color="#5cac3f"/><stop offset="0.7009" stop-color="#57aa3f"/><stop offset="0.7308" stop-color="#53a73e"/><stop offset="0.7778" stop-color="#51a63e"/><stop offset="1" stop-color="#53a83e"/></linearGradient><linearGradient id="r190" gradientUnits="userSpaceOnUse" x1="339.5" x2="430.5" y1="0" y2="0"><stop offset="0" stop-color="#6eb33e"/><stop offset="0.033" stop-color="#73b53e"/><stop offset="0.0549" stop-color="#7eb93d"/><stop offset="0.0769" stop-color="#81bb3c"/><stop offset="0.0879" stop-color="#86bc3c"/><stop offset="0.0989" stop-color="#86bd3c"/><stop offset="0.1319" stop-color="#92c13a"/><stop offset="0.1429" stop-color="#8ebf3b"/><stop offset="0.1538" stop-color="#96c23a"/><stop offset="0.1648" stop-color="#97c339"/><stop offset="0.1758" stop-color="#93c13a"/><stop offset="0.1868" stop-color="#94c23a"/><stop offset="0.1978" stop-color="#9ac439"/><stop offset="0.2088" stop-color="#79b73d"/><stop offset="0.2308" stop-color="#63af3f"/><stop offset="0.2527" stop-color="#5dad3f"/><stop offset="0.2857" stop-color="#59ab3f"/><stop offset="0.4835" stop-color="#52a73e"/><stop offset="1" stop-color="#53a83e"/></linearGradient><linearGradient id="r191" gradientUnits="userSpaceOnUse" x1="343.5" x2="428.5" y1="0" y2="0"><stop offset="0" stop-color="#7eb93d"/><stop offset="0.0235" stop-color="#7fba3c"/><stop offset="0.1059" stop-color="#92c13a"/><stop offset="0.1529" stop-color="#97c339"/><stop offset="0.1647" stop-color="#8dbf3b"/><stop offset="0.1765" stop-color="#89bd3b"/><stop offset="0.1882" stop-color="#a1c738"/><stop offset="0.2" stop-color="#7cb83d"/><stop offset="0.2118" stop-color="#77b73d"/><stop offset="0.2353" stop-color="#67b13e"/><stop offset="0.2588" stop-color="#60ae3f"/><stop offset="0.2941" stop-color="#5bac3f"/><stop offset="0.3765" stop-color="#56a93e"/><stop offset="0.5059" stop-color="#53a83e"/><stop offset="1" stop-color="#53a83e"/></linearGradient><linearGradient id="r192" gradientUnits="userSpaceOnUse" x1="346.5" x2="426.5" y1="0" y2="0"><stop offset="0" stop-color="#86bd3c"/><stop offset="0.025" stop-color="#88bd3c"/><stop offset="0.0875" stop-color="#94c23a"/><stop offset="0.1125" stop-color="#96c23a"/><stop offset="0.125" stop-color="#93c13a"/><stop offset="0.1375" stop-color="#93c23a"/><stop offset="0.15" stop-color="#a1c738"/><stop offset="0.1625" stop-color="#8fc03a"/><stop offset="0.175" stop-color="#87bd3b"/><stop offset="0.1875" stop-color="#7ab83d"/><stop offset="0.2" stop-color="#87bd3c"/><stop offset="0.2125" stop-color="#7cb93d"/><stop offset="0.225" stop-color="#79b83d"/><stop offset="0.25" stop-color="#6ab23e"/><stop offset="0.2875" stop-color="#60ae3f"/><stop offset="0.325" stop-color="#5cac3f"/><stop offset="0.525" stop-color="#55a93e"/><stop offset="1" stop-color="#53a83e"/></linearGradient><linearGradient id="r193" gradientUnits="userSpaceOnUse" x1="349.5" x2="424.5" y1="0" y2="0"><stop offset="0" stop-color="#8ebf3b"/><stop offset="0.0533" stop-color="#94c23a"/><stop offset="0.08" stop-color="#94c23a"/><stop offset="0.0933" stop-color="#97c339"/><stop offset="0.1067" stop-color="#a1c738"/><stop offset="0.12" stop-color="#98c339"/><stop offset="0.1333" stop-color="#92c13a"/><stop offset="0.1467" stop-color="#85bc3c"/><stop offset="0.16" stop-color="#87bd3c"/><stop offset="0.1733" stop-color="#81bb3c"/><stop offset="0.2" stop-color="#7cb93d"/><stop offset="0.2133" stop-color="#8abe3b"/><stop offset="0.2267" stop-color="#80ba3c"/><stop offset="0.28" stop-color="#68b13e"/><stop offset="0.32" stop-color="#61ae3f"/><stop offset="0.3733" stop-color="#5cac3f"/><stop offset="0.5467" stop-color="#57aa3f"/><stop offset="1" stop-color="#54a83e"/></linearGradient><linearGradient id="r194" gradientUnits="userSpaceOnUse" x1="352.5" x2="422.5" y1="0" y2="0"><stop offset="0" stop-color="#94c23a"/><stop offset="0.0286" stop-color="#95c23a"/><stop offset="0.0429" stop-color="#98c339"/><stop offset="0.0571" stop-color="#a1c738"/><stop offset="0.0857" stop-color="#99c439"/><stop offset="0.1" stop-color="#8dbf3b"/><stop offset="0.1143" stop-color="#87bd3c"/><stop offset="0.1571" stop-color="#81bb3c"/><stop offset="0.1714" stop-color="#8abe3b"/><stop offset="0.2143" stop-color="#7db93d"/><stop offset="0.2286" stop-color="#86bc3c"/><stop offset="0.2429" stop-color="#7db93d"/><stop offset="0.3" stop-color="#6bb23e"/><stop offset="0.3429" stop-color="#63af3f"/><stop offset="0.4" stop-color="#5ead3f"/><stop offset="0.5571" stop-color="#58aa3f"/><stop offset="1" stop-color="#54a83e"/></linearGradient><linearGradient id="r195" gradientUnits="userSpaceOnUse" x1="355.5" x2="420.5" y1="0" y2="0"><stop offset="0" stop-color="#a1c738"/><stop offset="0.0308" stop-color="#9dc539"/><stop offset="0.0615" stop-color="#87bd3c"/><stop offset="0.1077" stop-color="#84bc3c"/><stop offset="0.1231" stop-color="#8abe3b"/><stop offset="0.1692" stop-color="#82bb3c"/><stop offset="0.1846" stop-color="#86bc3c"/><stop offset="0.2462" stop-color="#76b63d"/><stop offset="0.2615" stop-color="#7ab83d"/><stop offset="0.3077" stop-color="#6fb43e"/><stop offset="0.4154" stop-color="#61ae3f"/><stop offset="0.5692" stop-color="#5aab3f"/><stop offset="1" stop-color="#54a83e"/></linearGradient><linearGradient id="r196" gradientUnits="userSpaceOnUse" x1="358.5" x2="417.5" y1="0" y2="0"><stop offset="0" stop-color="#87bd3c"/><stop offset="0.0508" stop-color="#86bd3c"/><stop offset="0.0678" stop-color="#8abe3b"/><stop offset="0.1356" stop-color="#86bc3c"/><stop offset="0.1695" stop-color="#82bb3c"/><stop offset="0.2034" stop-color="#7ab83d"/><stop offset="0.2203" stop-color="#7ab83d"/><stop offset="0.3051" stop-color="#6db33e"/><stop offset="0.322" stop-color="#70b43e"/><stop offset="0.4237" stop-color="#65b03f"/><stop offset="0.5085" stop-color="#5fae3f"/><stop offset="0.7119" stop-color="#58ab3f"/><stop offset="1" stop-color="#55a93e"/></linearGradient><linearGradient id="r197" gradientUnits="userSpaceOnUse" x1="361.5" x2="414.5" y1="0" y2="0"><stop offset="0" stop-color="#8abe3b"/><stop offset="0.1132" stop-color="#84bc3c"/><stop offset="0.1698" stop-color="#7ab83d"/><stop offset="0.2075" stop-color="#78b73d"/><stop offset="0.2642" stop-color="#70b43e"/><stop offset="0.4906" stop-color="#60ae3f"/><stop offset="0.7547" stop-color="#58aa3f"/><stop offset="1" stop-color="#55a93e"/></linearGradient><linearGradient id="r198" gradientUnits="userSpaceOnUse" x1="364.5" x2="411.5" y1="0" y2="0"><stop offset="0" stop-color="#86bc3c"/><stop offset="0.0638" stop-color="#83bb3c"/><stop offset="0.1064" stop-color="#7ab83d"/><stop offset="0.1702" stop-color="#78b73d"/><stop offset="0.234" stop-color="#70b43e"/><stop offset="0.4894" stop-color="#60ae3f"/><stop offset="0.8085" stop-color="#58aa3f"/><stop offset="1" stop-color="#56a93e"/></linearGradient><linearGradient id="r199" gradientUnits="userSpaceOnUse" x1="368.5" x2="407.5" y1="0" y2="0"><stop offset="0" stop-color="#7ab83d"/><stop offset="0.0769" stop-color="#79b73d"/><stop offset="0.1538" stop-color="#70b43e"/><stop offset="0.2308" stop-color="#6eb33e"/><stop offset="0.5128" stop-color="#60ae3f"/><stop offset="1" stop-color="#58aa3f"/></linearGradient><linearGradient id="rm1" gradientUnits="userSpaceOnUse" x1="219" x2="345.7" y1="0" y2="0"><stop offset="0" stop-color="#70b43e" stop-opacity="0"/><stop offset="0.091" stop-color="#82bb3c" stop-opacity="0.34"/><stop offset="0.182" stop-color="#94c23a" stop-opacity="0.68"/><stop offset="0.273" stop-color="#a6c837" stop-opacity="0.9"/><stop offset="0.364" stop-color="#b7cf34" stop-opacity="0.9"/><stop offset="0.455" stop-color="#c8d430" stop-opacity="0.9"/><stop offset="0.545" stop-color="#d7d92c" stop-opacity="0.9"/><stop offset="0.636" stop-color="#e4dd28" stop-opacity="0.9"/><stop offset="0.727" stop-color="#eedf24" stop-opacity="0.9"/><stop offset="0.818" stop-color="#f6e021" stop-opacity="0.9"/><stop offset="0.909" stop-color="#fade1f" stop-opacity="0.9"/><stop offset="1" stop-color="#fbd71e" stop-opacity="0.9"/></linearGradient><linearGradient id="rm2" gradientUnits="userSpaceOnUse" x1="345.7" x2="386.6" y1="0" y2="0"><stop offset="0" stop-color="#fbd71e" stop-opacity="0.9"/><stop offset="0.2" stop-color="#e8de27" stop-opacity="0.72"/><stop offset="0.4" stop-color="#c8d430" stop-opacity="0.54"/><stop offset="0.6" stop-color="#a9ca37" stop-opacity="0.36"/><stop offset="0.8" stop-color="#90c03b" stop-opacity="0.18"/><stop offset="1" stop-color="#7cb93d" stop-opacity="0"/></linearGradient></defs><g clip-path="url(#sc)"><rect x="515" y="119" width="39" height="1.5" fill="url(#r0)"/><rect x="504" y="120" width="50" height="1.5" fill="url(#r1)"/><rect x="495" y="121" width="59" height="1.5" fill="url(#r2)"/><rect x="488" y="122" width="66" height="1.5" fill="url(#r3)"/><rect x="481" y="123" width="73" height="1.5" fill="url(#r4)"/><rect x="475" y="124" width="79" height="1.5" fill="url(#r5)"/><rect x="470" y="125" width="84" height="1.5" fill="url(#r6)"/><rect x="464" y="126" width="90" height="1.5" fill="url(#r7)"/><rect x="459" y="127" width="95" height="1.5" fill="url(#r8)"/><rect x="455" y="128" width="99" height="1.5" fill="url(#r9)"/><rect x="450" y="129" width="103" height="1.5" fill="url(#r10)"/><rect x="446" y="130" width="107" height="1.5" fill="url(#r11)"/><rect x="442" y="131" width="110" height="1.5" fill="url(#r12)"/><rect x="438" y="132" width="114" height="1.5" fill="url(#r13)"/><rect x="434" y="133" width="118" height="1.5" fill="url(#r14)"/><rect x="430" y="134" width="121" height="1.5" fill="url(#r15)"/><rect x="427" y="135" width="124" height="1.5" fill="url(#r16)"/><rect x="423" y="136" width="127" height="1.5" fill="url(#r17)"/><rect x="420" y="137" width="130" height="1.5" fill="url(#r18)"/><rect x="416" y="138" width="133" height="1.5" fill="url(#r19)"/><rect x="413" y="139" width="136" height="1.5" fill="url(#r20)"/><rect x="410" y="140" width="139" height="1.5" fill="url(#r21)"/><rect x="407" y="141" width="141" height="1.5" fill="url(#r22)"/><rect x="404" y="142" width="144" height="1.5" fill="url(#r23)"/><rect x="401" y="143" width="146" height="1.5" fill="url(#r24)"/><rect x="398" y="144" width="149" height="1.5" fill="url(#r25)"/><rect x="395" y="145" width="151" height="1.5" fill="url(#r26)"/><rect x="392" y="146" width="154" height="1.5" fill="url(#r27)"/><rect x="389" y="147" width="156" height="1.5" fill="url(#r28)"/><rect x="387" y="148" width="158" height="1.5" fill="url(#r29)"/><rect x="384" y="149" width="161" height="1.5" fill="url(#r30)"/><rect x="381" y="150" width="163" height="1.5" fill="url(#r31)"/><rect x="379" y="151" width="165" height="1.5" fill="url(#r32)"/><rect x="376" y="152" width="167" height="1.5" fill="url(#r33)"/><rect x="374" y="153" width="169" height="1.5" fill="url(#r34)"/><rect x="371" y="154" width="171" height="1.5" fill="url(#r35)"/><rect x="369" y="155" width="173" height="1.5" fill="url(#r36)"/><rect x="366" y="156" width="175" height="1.5" fill="url(#r37)"/><rect x="364" y="157" width="177" height="1.5" fill="url(#r38)"/><rect x="362" y="158" width="179" height="1.5" fill="url(#r39)"/><rect x="359" y="159" width="181" height="1.5" fill="url(#r40)"/><rect x="357" y="160" width="183" height="1.5" fill="url(#r41)"/><rect x="355" y="161" width="184" height="1.5" fill="url(#r42)"/><rect x="353" y="162" width="186" height="1.5" fill="url(#r43)"/><rect x="350" y="163" width="188" height="1.5" fill="url(#r44)"/><rect x="348" y="164" width="190" height="1.5" fill="url(#r45)"/><rect x="346" y="165" width="191" height="1.5" fill="url(#r46)"/><rect x="344" y="166" width="193" height="1.5" fill="url(#r47)"/><rect x="342" y="167" width="194" height="1.5" fill="url(#r48)"/><rect x="341" y="168" width="195" height="1.5" fill="url(#r49)"/><rect x="340" y="169" width="195" height="1.5" fill="url(#r50)"/><rect x="340" y="170" width="195" height="1.5" fill="url(#r51)"/><rect x="339" y="171" width="195" height="1.5" fill="url(#r52)"/><rect x="339" y="172" width="195" height="1.5" fill="url(#r53)"/><rect x="338" y="173" width="196" height="1.5" fill="url(#r54)"/><rect x="338" y="174" width="195" height="1.5" fill="url(#r55)"/><rect x="337" y="175" width="196" height="1.5" fill="url(#r56)"/><rect x="337" y="176" width="195" height="1.5" fill="url(#r57)"/><rect x="336" y="177" width="196" height="1.5" fill="url(#r58)"/><rect x="336" y="178" width="195" height="1.5" fill="url(#r59)"/><rect x="335" y="179" width="196" height="1.5" fill="url(#r60)"/><rect x="335" y="180" width="195" height="1.5" fill="url(#r61)"/><rect x="334" y="181" width="196" height="1.5" fill="url(#r62)"/><rect x="334" y="182" width="195" height="1.5" fill="url(#r63)"/><rect x="333" y="183" width="196" height="1.5" fill="url(#r64)"/><rect x="333" y="184" width="195" height="1.5" fill="url(#r65)"/><rect x="332" y="185" width="196" height="1.5" fill="url(#r66)"/><rect x="331" y="186" width="196" height="1.5" fill="url(#r67)"/><rect x="331" y="187" width="196" height="1.5" fill="url(#r68)"/><rect x="330" y="188" width="196" height="1.5" fill="url(#r69)"/><rect x="330" y="189" width="196" height="1.5" fill="url(#r70)"/><rect x="329" y="190" width="196" height="1.5" fill="url(#r71)"/><rect x="329" y="191" width="196" height="1.5" fill="url(#r72)"/><rect x="328" y="192" width="196" height="1.5" fill="url(#r73)"/><rect x="328" y="193" width="196" height="1.5" fill="url(#r74)"/><rect x="327" y="194" width="196" height="1.5" fill="url(#r75)"/><rect x="326" y="195" width="197" height="1.5" fill="url(#r76)"/><rect x="326" y="196" width="196" height="1.5" fill="url(#r77)"/><rect x="325" y="197" width="196" height="1.5" fill="url(#r78)"/><rect x="325" y="198" width="196" height="1.5" fill="url(#r79)"/><rect x="324" y="199" width="196" height="1.5" fill="url(#r80)"/><rect x="324" y="200" width="196" height="1.5" fill="url(#r81)"/><rect x="323" y="201" width="196" height="1.5" fill="url(#r82)"/><rect x="322" y="202" width="197" height="1.5" fill="url(#r83)"/><rect x="322" y="203" width="196" height="1.5" fill="url(#r84)"/><rect x="321" y="204" width="197" height="1.5" fill="url(#r85)"/><rect x="321" y="205" width="196" height="1.5" fill="url(#r86)"/><rect x="320" y="206" width="197" height="1.5" fill="url(#r87)"/><rect x="319" y="207" width="197" height="1.5" fill="url(#r88)"/><rect x="319" y="208" width="197" height="1.5" fill="url(#r89)"/><rect x="318" y="209" width="197" height="1.5" fill="url(#r90)"/><rect x="318" y="210" width="196" height="1.5" fill="url(#r91)"/><rect x="317" y="211" width="197" height="1.5" fill="url(#r92)"/><rect x="316" y="212" width="197" height="1.5" fill="url(#r93)"/><rect x="316" y="213" width="197" height="1.5" fill="url(#r94)"/><rect x="315" y="214" width="197" height="1.5" fill="url(#r95)"/><rect x="315" y="215" width="197" height="1.5" fill="url(#r96)"/><rect x="314" y="216" width="197" height="1.5" fill="url(#r97)"/><rect x="313" y="217" width="198" height="1.5" fill="url(#r98)"/><rect x="313" y="218" width="197" height="1.5" fill="url(#r99)"/><rect x="312" y="219" width="197" height="1.5" fill="url(#r100)"/><rect x="311" y="220" width="198" height="1.5" fill="url(#r101)"/><rect x="311" y="221" width="197" height="1.5" fill="url(#r102)"/><rect x="310" y="222" width="198" height="1.5" fill="url(#r103)"/><rect x="309" y="223" width="198" height="1.5" fill="url(#r104)"/><rect x="309" y="224" width="197" height="1.5" fill="url(#r105)"/><rect x="308" y="225" width="198" height="1.5" fill="url(#r106)"/><rect x="307" y="226" width="198" height="1.5" fill="url(#r107)"/><rect x="307" y="227" width="198" height="1.5" fill="url(#r108)"/><rect x="306" y="228" width="198" height="1.5" fill="url(#r109)"/><rect x="305" y="229" width="198" height="1.5" fill="url(#r110)"/><rect x="305" y="230" width="198" height="1.5" fill="url(#r111)"/><rect x="304" y="231" width="198" height="1.5" fill="url(#r112)"/><rect x="303" y="232" width="199" height="1.5" fill="url(#r113)"/><rect x="302" y="233" width="199" height="1.5" fill="url(#r114)"/><rect x="302" y="234" width="198" height="1.5" fill="url(#r115)"/><rect x="301" y="235" width="199" height="1.5" fill="url(#r116)"/><rect x="300" y="236" width="199" height="1.5" fill="url(#r117)"/><rect x="300" y="237" width="198" height="1.5" fill="url(#r118)"/><rect x="299" y="238" width="199" height="1.5" fill="url(#r119)"/><rect x="298" y="239" width="199" height="1.5" fill="url(#r120)"/><rect x="297" y="240" width="199" height="1.5" fill="url(#r121)"/><rect x="297" y="241" width="199" height="1.5" fill="url(#r122)"/><rect x="296" y="242" width="199" height="1.5" fill="url(#r123)"/><rect x="295" y="243" width="199" height="1.5" fill="url(#r124)"/><rect x="294" y="244" width="200" height="1.5" fill="url(#r125)"/><rect x="294" y="245" width="199" height="1.5" fill="url(#r126)"/><rect x="293" y="246" width="199" height="1.5" fill="url(#r127)"/><rect x="292" y="247" width="200" height="1.5" fill="url(#r128)"/><rect x="291" y="248" width="200" height="1.5" fill="url(#r129)"/><rect x="290" y="249" width="200" height="1.5" fill="url(#r130)"/><rect x="289" y="250" width="201" height="1.5" fill="url(#r131)"/><rect x="289" y="251" width="200" height="1.5" fill="url(#r132)"/><rect x="288" y="252" width="200" height="1.5" fill="url(#r133)"/><rect x="287" y="253" width="201" height="1.5" fill="url(#r134)"/><rect x="286" y="254" width="201" height="1.5" fill="url(#r135)"/><rect x="285" y="255" width="201" height="1.5" fill="url(#r136)"/><rect x="284" y="256" width="201" height="1.5" fill="url(#r137)"/><rect x="284" y="257" width="201" height="1.5" fill="url(#r138)"/><rect x="283" y="258" width="201" height="1.5" fill="url(#r139)"/><rect x="282" y="259" width="201" height="1.5" fill="url(#r140)"/><rect x="281" y="260" width="202" height="1.5" fill="url(#r141)"/><rect x="280" y="261" width="202" height="1.5" fill="url(#r142)"/><rect x="279" y="262" width="202" height="1.5" fill="url(#r143)"/><rect x="146" y="263" width="334" height="1.5" fill="url(#r144)"/><rect x="138" y="264" width="341" height="1.5" fill="url(#r145)"/><rect x="138" y="265" width="341" height="1.5" fill="url(#r146)"/><rect x="138" y="266" width="340" height="1.5" fill="url(#r147)"/><rect x="138" y="267" width="339" height="1.5" fill="url(#r148)"/><rect x="138" y="268" width="338" height="1.5" fill="url(#r149)"/><rect x="138" y="269" width="337" height="1.5" fill="url(#r150)"/><rect x="138" y="270" width="337" height="1.5" fill="url(#r151)"/><rect x="138" y="271" width="336" height="1.5" fill="url(#r152)"/><rect x="138" y="272" width="335" height="1.5" fill="url(#r153)"/><rect x="138" y="273" width="334" height="1.5" fill="url(#r154)"/><rect x="139" y="274" width="332" height="1.5" fill="url(#r155)"/><rect x="140" y="275" width="330" height="1.5" fill="url(#r156)"/><rect x="141" y="276" width="329" height="1.5" fill="url(#r157)"/><rect x="142" y="277" width="327" height="1.5" fill="url(#r158)"/><rect x="143" y="278" width="325" height="1.5" fill="url(#r159)"/><rect x="144" y="279" width="323" height="1.5" fill="url(#r160)"/><rect x="145" y="280" width="321" height="1.5" fill="url(#r161)"/><rect x="146" y="281" width="319" height="1.5" fill="url(#r162)"/><rect x="147" y="282" width="317" height="1.5" fill="url(#r163)"/><rect x="148" y="283" width="315" height="1.5" fill="url(#r164)"/><rect x="149" y="284" width="313" height="1.5" fill="url(#r165)"/><rect x="151" y="285" width="310" height="1.5" fill="url(#r166)"/><rect x="152" y="286" width="308" height="1.5" fill="url(#r167)"/><rect x="153" y="287" width="306" height="1.5" fill="url(#r168)"/><rect x="154" y="288" width="304" height="1.5" fill="url(#r169)"/><rect x="156" y="289" width="301" height="1.5" fill="url(#r170)"/><rect x="157" y="290" width="299" height="1.5" fill="url(#r171)"/><rect x="158" y="291" width="297" height="1.5" fill="url(#r172)"/><rect x="160" y="292" width="294" height="1.5" fill="url(#r173)"/><rect x="161" y="293" width="292" height="1.5" fill="url(#r174)"/><rect x="163" y="294" width="289" height="1.5" fill="url(#r175)"/><rect x="164" y="295" width="286" height="1.5" fill="url(#r176)"/><rect x="166" y="296" width="283" height="1.5" fill="url(#r177)"/><rect x="168" y="297" width="280" height="1.5" fill="url(#r178)"/><rect x="169" y="298" width="278" height="1.5" fill="url(#r179)"/><rect x="171" y="299" width="275" height="1.5" fill="url(#r180)"/><rect x="173" y="300" width="271" height="1.5" fill="url(#r181)"/><rect x="175" y="301" width="268" height="1.5" fill="url(#r182)"/><rect x="177" y="302" width="265" height="1.5" fill="url(#r183)"/><rect x="180" y="303" width="260" height="1.5" fill="url(#r184)"/><rect x="182" y="304" width="257" height="1.5" fill="url(#r185)"/><rect x="185" y="305" width="252" height="1.5" fill="url(#r186)"/><rect x="188" y="306" width="248" height="1.5" fill="url(#r187)"/><rect x="192" y="307" width="242" height="1.5" fill="url(#r188)"/><rect x="198" y="308" width="235" height="1.5" fill="url(#r189)"/><rect x="339" y="309" width="92" height="1.5" fill="url(#r190)"/><rect x="343" y="310" width="86" height="1.5" fill="url(#r191)"/><rect x="346" y="311" width="81" height="1.5" fill="url(#r192)"/><rect x="349" y="312" width="76" height="1.5" fill="url(#r193)"/><rect x="352" y="313" width="71" height="1.5" fill="url(#r194)"/><rect x="355" y="314" width="66" height="1.5" fill="url(#r195)"/><rect x="358" y="315" width="60" height="1.5" fill="url(#r196)"/><rect x="361" y="316" width="54" height="1.5" fill="url(#r197)"/><rect x="364" y="317" width="48" height="1.5" fill="url(#r198)"/><rect x="368" y="318" width="40" height="1.5" fill="url(#r199)"/><path d="M219 270.3L222.3 270.6L225.5 271L228.8 271.5L232 271.9L235.3 272.4L238.5 272.9L241.8 273.4L245 274L248.3 274.5L251.5 275.1L254.8 275.7L258 276.4L261.3 277L264.5 277.7L267.8 278.4L271 279.2L274.2 279.9L277.5 280.7L280.7 281.5L284 282.3L287.2 283.2L290.5 284.1L293.7 285L297 285.9L300.2 286.9L303.5 287.8L306.7 288.8L310 289.8L313.2 290.9L316.5 292L319.7 293.1L323 294.2L326.2 295.3L329.5 296.5L332.7 297.7L336 298.9L339.2 300.1L342.5 301.4L345.7 302.7" fill="none" stroke="url(#rm1)" stroke-width="1.5"/><path d="M345.7 302.7L348.4 304.3L351.1 305.9L353.9 307.3L356.6 308.6L359.3 309.8L362 310.9L364.8 311.9L367.5 312.8L370.2 313.6L372.9 314.3L375.7 314.8L378.4 315.3L381.1 315.6L383.8 315.8L386.6 315.9" fill="none" stroke="url(#rm2)" stroke-width="1.5"/></g>
<path fill="none" stroke="#1c1c1c" stroke-width="1.65" d="M141.4 121.3L141.4 362.6M141.4 357.2L345.7 474.5M345.7 474.5L550 357.3M141.4 357.2h-7.2M141.4 310.1h-7.2M141.4 263.1h-7.2M141.4 216h-7.2M141.4 169h-7.2M141.4 121.9h-7.2M182.3 380.7v6M223.1 404.1v6M264 427.6v6M304.8 451v6M345.7 474.5v6M345.7 474.5l5.6 3.2M386.6 451.1l5.6 3.2M427.4 427.6l5.6 3.2M468.3 404.2l5.6 3.2M509.1 380.7l5.6 3.2M550 357.3l5.6 3.2"/>
<g font-family="'Liberation Serif', 'Noto Serif CJK SC', serif" font-size="23.5" fill="#151515" stroke="#151515" stroke-width="0.2">
<text x="92" y="129.6">0.54</text>
<text x="91.3" y="178">0.51</text>
<text x="91.7" y="224.7">0.48</text>
<text x="91.7" y="272.9">0.45</text>
<text x="92" y="320.6">0.42</text>
<text x="90.2" y="367.6">0.39</text>
<text x="105" y="388">1.00</text>
<text x="144.6" y="410.3">1.08</text>
<text x="186.2" y="435">1.16</text>
<text x="225.4" y="459.1">1.24</text>
<text x="266" y="481.6">1.32</text>
<text x="304.2" y="503.9">1.40</text>
<text x="351.4" y="499.2">4.00</text>
<text x="390.6" y="476">3.20</text>
<text x="432.2" y="451.6">2.40</text>
<text x="473.2" y="427.7">1.60</text>
<text x="516.4" y="404.2">0.80</text>
<text x="555.8" y="381">0.00</text>
<text x="628.8" y="61.5">0.54</text>
<text x="628.5" y="136.4">0.51</text>
<text x="629.2" y="211">0.48</text>
<text x="629.2" y="287">0.45</text>
<text x="629.3" y="364.2">0.42</text>
<text x="629.3" y="441.6">0.39</text>
</g>
<g font-family="'Liberation Serif', 'Noto Serif CJK SC', serif" font-size="26.8" font-weight="600" fill="#151515" stroke="#151515" stroke-width="0.25" text-anchor="middle">
<text transform="translate(80.5 244.3) rotate(-90)">最大鼓凸变形<tspan font-size="25" font-weight="400" stroke-width="0.75">/mm</tspan></text>
<text transform="translate(176.2 467.3) rotate(32.8)" font-size="27.1">竖向载荷载<tspan font-size="25" font-weight="400" stroke-width="0.75">/</tspan>倍</text>
<text transform="translate(507.4 466.9) rotate(-29.3)">底部不均匀竖</text>
<text transform="translate(518.3 488.8) rotate(-30.3)">向变形<tspan font-size="25" font-weight="400" stroke-width="0.75">/mm</tspan></text>
</g>
<defs><linearGradient id="cb" x1="0" y1="0" x2="0" y2="1"><stop offset="0" stop-color="#e2402a"/><stop offset="0.0167" stop-color="#e2402a"/><stop offset="0.0333" stop-color="#e2402a"/><stop offset="0.05" stop-color="#e2402a"/><stop offset="0.0667" stop-color="#e2402a"/><stop offset="0.0833" stop-color="#e3442a"/><stop offset="0.1" stop-color="#e6512a"/><stop offset="0.1167" stop-color="#e9602a"/><stop offset="0.1333" stop-color="#ec722a"/><stop offset="0.15" stop-color="#f08529"/><stop offset="0.1667" stop-color="#f39626"/><stop offset="0.1833" stop-color="#f6a822"/><stop offset="0.2" stop-color="#f9bb1f"/><stop offset="0.2167" stop-color="#fbd11e"/><stop offset="0.2333" stop-color="#fade1f"/><stop offset="0.25" stop-color="#f3e022"/><stop offset="0.2667" stop-color="#e8de27"/><stop offset="0.2833" stop-color="#dcdb2b"/><stop offset="0.3" stop-color="#ced62f"/><stop offset="0.3167" stop-color="#bed133"/><stop offset="0.3333" stop-color="#b0cc36"/><stop offset="0.35" stop-color="#a2c638"/><stop offset="0.3667" stop-color="#94c13b"/><stop offset="0.3833" stop-color="#87bd3c"/><stop offset="0.4" stop-color="#7bb83e"/><stop offset="0.4167" stop-color="#70b43e"/><stop offset="0.4333" stop-color="#67b13f"/><stop offset="0.45" stop-color="#5eae3f"/><stop offset="0.4667" stop-color="#58ab3f"/><stop offset="0.4833" stop-color="#53a83e"/><stop offset="0.5" stop-color="#51a73e"/><stop offset="0.5167" stop-color="#51a73e"/><stop offset="0.5333" stop-color="#51a73e"/><stop offset="0.55" stop-color="#51a73e"/><stop offset="0.5667" stop-color="#51a73e"/><stop offset="0.5833" stop-color="#51a73e"/><stop offset="0.6" stop-color="#51a73e"/><stop offset="0.6167" stop-color="#52a841"/><stop offset="0.6333" stop-color="#55aa4a"/><stop offset="0.65" stop-color="#58ac58"/><stop offset="0.6667" stop-color="#58ae6d"/><stop offset="0.6833" stop-color="#58b083"/><stop offset="0.7" stop-color="#55b299"/><stop offset="0.7167" stop-color="#52b4ae"/><stop offset="0.7333" stop-color="#4eb5bf"/><stop offset="0.75" stop-color="#49b4cb"/><stop offset="0.7667" stop-color="#41b1d3"/><stop offset="0.7833" stop-color="#32a9d3"/><stop offset="0.8" stop-color="#24a0d1"/><stop offset="0.8167" stop-color="#1a95cd"/><stop offset="0.8333" stop-color="#158ac6"/><stop offset="0.85" stop-color="#157cbb"/><stop offset="0.8667" stop-color="#1b68ac"/><stop offset="0.8833" stop-color="#2556a0"/><stop offset="0.9" stop-color="#2a4e99"/><stop offset="0.9167" stop-color="#2c4894"/><stop offset="0.9333" stop-color="#2e4490"/><stop offset="0.95" stop-color="#2e418d"/><stop offset="0.9667" stop-color="#2f3e89"/><stop offset="0.9833" stop-color="#303d87"/><stop offset="1" stop-color="#313b84"/></linearGradient></defs>
<rect x="604.4" y="49.8" width="18.9" height="380.5" fill="url(#cb)"/>
<path fill="none" stroke="#1c1c2c" stroke-width="1.3" d="M605 49.4V430.3M604.4 50h4.8M617.6 50h5.6M604.4 126h4.8M617.6 126h5.6M604.4 202h4.8M617.6 202h5.6M604.4 278h4.8M617.6 278h5.6M604.4 354h4.8M617.6 354h5.6M604.4 430h4.8M617.6 430h5.6"/>
<g>
<polygon points="78.3,442.9 89.1,447.7 89.1,459 78.3,466.4 67.5,459 67.5,447.9" fill="#a4a4a4" stroke="#939393" stroke-width="0.8"/>
<path d="M78.3 466V454.5M67.9 448.2L78.3 454.5L88.7 448" fill="none" stroke="#8e8e8e" stroke-width="0.6" opacity="0.55"/>
<path d="M76.5 445.6V431.2L74.6 429.4Q76.3 425 78.5 418.7Q80.9 425 82.6 429.4L80.8 431.2V445.6Z" fill="#2f3b88"/>
<path d="M70.1 456.9L57.5 464.1L56.5 462.3L46.8 472.4L60.5 469.2L59.5 467.4L72.1 460.3Z" fill="#e2412b"/>
<path d="M86.7 456.3L100.1 464.2L101.3 462.7L111 472.4L96.9 469.1L98.1 467.6L84.7 459.7Z" fill="#0f7a3f"/>
<g font-family="'Liberation Serif', serif" font-style="italic" font-size="23" stroke-width="0.6">
<text x="75.6" y="416.2" fill="#2f3b88" stroke="#2f3b88">Z</text>
<text x="37.6" y="496.2" fill="#e2412b" stroke="#e2412b">X</text>
<text x="113.4" y="481.2" fill="#0f7a3f" stroke="#0f7a3f">Y</text>
</g>
</g>
</svg>
</body>
</html>
